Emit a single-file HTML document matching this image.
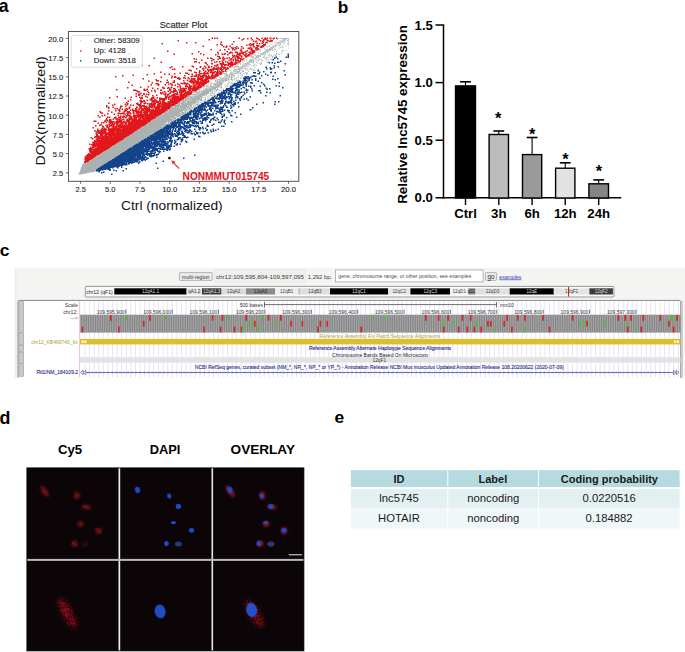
<!DOCTYPE html>
<html><head><meta charset="utf-8"><style>
html,body{margin:0;padding:0;background:#fff;width:685px;height:652px;overflow:hidden}
svg{display:block;font-family:"Liberation Sans", sans-serif}
</style></head><body>
<svg width="685" height="652" viewBox="0 0 685 652">
<text x="-1.3" y="12.45" font-size="17.7" font-weight="bold" fill="#000" text-anchor="start" >a</text><text x="183.5" y="27.7" font-size="8.6" font-weight="normal" fill="#222" text-anchor="middle" textLength="47.6" lengthAdjust="spacingAndGlyphs" stroke="#222" stroke-width="0.1">Scatter Plot</text><path fill="#b9c1c0" d="M277.5 38h1v0.5h-1zM279.5 38h3v0.5h-3zM283 38h6v0.5h-6zM277.5 38.5h1v0.5h-1zM279.5 38.5h9.5v0.5h-9.5zM277 39h1v0.5h-1zM282.5 39h4v0.5h-4zM287.5 39h1.5v0.5h-1.5zM277 39.5h1v0.5h-1zM282.5 39.5h4v0.5h-4zM279.5 40h1v0.5h-1zM282.5 40h3v0.5h-3zM279.5 40.5h1v0.5h-1zM281 40.5h4.5v0.5h-4.5zM280 41h3v0.5h-3zM284 41h1.5v0.5h-1.5zM288 41h1v0.5h-1zM275.5 41.5h1v0.5h-1zM278.5 41.5h1v0.5h-1zM280 41.5h4v0.5h-4zM288 41.5h1v0.5h-1zM275.5 42h1v0.5h-1zM278.5 42h1.5v0.5h-1.5zM280.5 42h2v0.5h-2zM283 42h1v0.5h-1zM288 42h1v0.5h-1zM275.5 42.5h5v0.5h-5zM281.5 42.5h1v0.5h-1zM283 42.5h1v0.5h-1zM276.5 43h4.5v0.5h-4.5zM281.5 43h1v0.5h-1zM288 43h1v0.5h-1zM267.5 43.5h1v0.5h-1zM271.5 43.5h1v0.5h-1zM275 43.5h1v0.5h-1zM276.5 43.5h4.5v0.5h-4.5zM283.5 43.5h1v0.5h-1zM267.5 44h1v0.5h-1zM271.5 44h1v0.5h-1zM275 44h1v0.5h-1zM277.5 44h2v0.5h-2zM283.5 44h1v0.5h-1zM269 44.5h1v0.5h-1zM271.5 44.5h1v0.5h-1zM276 44.5h1v0.5h-1zM282.5 44.5h1v0.5h-1zM288 44.5h1v0.5h-1zM269 45h1v0.5h-1zM274 45h3.5v0.5h-3.5zM279 45h1v0.5h-1zM282.5 45h1v0.5h-1zM288 45h1v0.5h-1zM267.5 45.5h1v0.5h-1zM273 45.5h4.5v0.5h-4.5zM278.5 45.5h1.5v0.5h-1.5zM285 45.5h1v0.5h-1zM266.5 46h2v0.5h-2zM269 46h1v0.5h-1zM272 46h2v0.5h-2zM274.5 46h2v0.5h-2zM278.5 46h1v0.5h-1zM282 46h1v0.5h-1zM285 46h1v0.5h-1zM264 46.5h1v0.5h-1zM266.5 46.5h1v0.5h-1zM269 46.5h1v0.5h-1zM271.5 46.5h2.5v0.5h-2.5zM274.5 46.5h1v0.5h-1zM281 46.5h2v0.5h-2zM262.5 47h1v0.5h-1zM264 47h1v0.5h-1zM266.5 47h1v0.5h-1zM270.5 47h3.5v0.5h-3.5zM274.5 47h1v0.5h-1zM280 47h2v0.5h-2zM282.5 47h1v0.5h-1zM262.5 47.5h1v0.5h-1zM270 47.5h2.5v0.5h-2.5zM273 47.5h1v0.5h-1zM274.5 47.5h1v0.5h-1zM279 47.5h2v0.5h-2zM282.5 47.5h1v0.5h-1zM288 47.5h1v0.5h-1zM269 48h4v0.5h-4zM279 48h1v0.5h-1zM288 48h1v0.5h-1zM269 48.5h4.5v0.5h-4.5zM274 48.5h1v0.5h-1zM267 49h6.5v0.5h-6.5zM274 49h2v0.5h-2zM266.5 49.5h4.5v0.5h-4.5zM271.5 49.5h1v0.5h-1zM274.5 49.5h2v0.5h-2zM282 49.5h1v0.5h-1zM259.5 50h1v0.5h-1zM265.5 50h3v0.5h-3zM269 50h2.5v0.5h-2.5zM272 50h1v0.5h-1zM275.5 50h1v0.5h-1zM282 50h2v0.5h-2zM286.5 50h1v0.5h-1zM259.5 50.5h1v0.5h-1zM265.5 50.5h6v0.5h-6zM272 50.5h1v0.5h-1zM283 50.5h1v0.5h-1zM286.5 50.5h1v0.5h-1zM260 51h1v0.5h-1zM264.5 51h5v0.5h-5zM276 51h1v0.5h-1zM282 51h1v0.5h-1zM260 51.5h1v0.5h-1zM264 51.5h5v0.5h-5zM276 51.5h1v0.5h-1zM281.5 51.5h1.5v0.5h-1.5zM258 52h1v0.5h-1zM262.5 52h5.5v0.5h-5.5zM281.5 52h1v0.5h-1zM258 52.5h1v0.5h-1zM262 52.5h4v0.5h-4zM266.5 52.5h1v0.5h-1zM254 53h0.5v0.5h-0.5zM260 53h5v0.5h-5zM276 53h1v0.5h-1zM277.5 53h1v0.5h-1zM281 53h1v0.5h-1zM253.5 53.5h1v0.5h-1zM258 53.5h1v0.5h-1zM260 53.5h6v0.5h-6zM267 53.5h1v0.5h-1zM276 53.5h1v0.5h-1zM277.5 53.5h1v0.5h-1zM281 53.5h1v0.5h-1zM253 54h1v0.5h-1zM254.5 54h1v0.5h-1zM258 54h1v0.5h-1zM260 54h3.5v0.5h-3.5zM265 54h1v0.5h-1zM267 54h1v0.5h-1zM274 54h1v0.5h-1zM276 54h1v0.5h-1zM279 54h1v0.5h-1zM253 54.5h1v0.5h-1zM254.5 54.5h1v0.5h-1zM261 54.5h3.5v0.5h-3.5zM265 54.5h1v0.5h-1zM270 54.5h1v0.5h-1zM274 54.5h1v0.5h-1zM275.5 54.5h1v0.5h-1zM279 54.5h1v0.5h-1zM250.5 55h1.5v0.5h-1.5zM254.5 55h1v0.5h-1zM257 55h4v0.5h-4zM263 55h1.5v0.5h-1.5zM265 55h1v0.5h-1zM268 55h1v0.5h-1zM270 55h2v0.5h-2zM276 55h0.5v0.5h-0.5zM249.5 55.5h0.5v0.5h-0.5zM250.5 55.5h1.5v0.5h-1.5zM252.5 55.5h1v0.5h-1zM254.5 55.5h7v0.5h-7zM268 55.5h0.5v0.5h-0.5zM271 55.5h1v0.5h-1zM249.5 56h0.5v0.5h-0.5zM251 56h2.5v0.5h-2.5zM255.5 56h6v0.5h-6zM263.5 56h0.5v0.5h-0.5zM268 56h0.5v0.5h-0.5zM270.5 56h1v0.5h-1zM272 56h1v0.5h-1zM276 56h1v0.5h-1zM247.5 56.5h0.5v0.5h-0.5zM251 56.5h1.5v0.5h-1.5zM253 56.5h1v0.5h-1zM256 56.5h3.5v0.5h-3.5zM260 56.5h1v0.5h-1zM263.5 56.5h1v0.5h-1zM265.5 56.5h1v0.5h-1zM270.5 56.5h1v0.5h-1zM272 56.5h1v0.5h-1zM274 56.5h1v0.5h-1zM247 57h1v0.5h-1zM251 57h3v0.5h-3zM255.5 57h3.5v0.5h-3.5zM262.5 57h2v0.5h-2zM265.5 57h1v0.5h-1zM267.5 57h1v0.5h-1zM272 57h1v0.5h-1zM274 57h1v0.5h-1zM246.5 57.5h1v0.5h-1zM251 57.5h2.5v0.5h-2.5zM255 57.5h4v0.5h-4zM262.5 57.5h2v0.5h-2zM267.5 57.5h1v0.5h-1zM272 57.5h1v0.5h-1zM254.5 58h2v0.5h-2zM257.5 58h1v0.5h-1zM265.5 58h0.5v0.5h-0.5zM272.5 58h1v0.5h-1zM253.5 58.5h3v0.5h-3zM260.5 58.5h1v0.5h-1zM265.5 58.5h1v0.5h-1zM271 58.5h1v0.5h-1zM272.5 58.5h1v0.5h-1zM249.5 59h0.5v0.5h-0.5zM251.5 59h0.5v0.5h-0.5zM253.5 59h1v0.5h-1zM255 59h1v0.5h-1zM256.5 59h1v0.5h-1zM260.5 59h1v0.5h-1zM267.5 59h1v0.5h-1zM271 59h1v0.5h-1zM245.5 59.5h2v0.5h-2zM249.5 59.5h0.5v0.5h-0.5zM251 59.5h3v0.5h-3zM256.5 59.5h1v0.5h-1zM265 59.5h1.5v0.5h-1.5zM267.5 59.5h1v0.5h-1zM270 59.5h2v0.5h-2zM245.5 60h2v0.5h-2zM249 60h5v0.5h-5zM265 60h1.5v0.5h-1.5zM270 60h1v0.5h-1zM244.5 60.5h0.5v0.5h-0.5zM249 60.5h2.5v0.5h-2.5zM252.5 60.5h1.5v0.5h-1.5zM258 60.5h1v0.5h-1zM268 60.5h1v0.5h-1zM244 61h1v0.5h-1zM249 61h2v0.5h-2zM252.5 61h0.5v0.5h-0.5zM257 61h2v0.5h-2zM266.5 61h1v0.5h-1zM268 61h1v0.5h-1zM242.5 61.5h1v0.5h-1zM247.5 61.5h3.5v0.5h-3.5zM252 61.5h1v0.5h-1zM257 61.5h1v0.5h-1zM260.5 61.5h1v0.5h-1zM266.5 61.5h1.5v0.5h-1.5zM242.5 62h1v0.5h-1zM247.5 62h2.5v0.5h-2.5zM250.5 62h2.5v0.5h-2.5zM256 62h1v0.5h-1zM260.5 62h1v0.5h-1zM267 62h1v0.5h-1zM238.5 62.5h0.5v0.5h-0.5zM242 62.5h1.5v0.5h-1.5zM246 62.5h4v0.5h-4zM250.5 62.5h1.5v0.5h-1.5zM256 62.5h1v0.5h-1zM261 62.5h1v0.5h-1zM267 62.5h1v0.5h-1zM239 63h2v0.5h-2zM242 63h1.5v0.5h-1.5zM246 63h4v0.5h-4zM253 63h1v0.5h-1zM258.5 63h2v0.5h-2zM261 63h1v0.5h-1zM236.5 63.5h2v0.5h-2zM239 63.5h2v0.5h-2zM244 63.5h1v0.5h-1zM246 63.5h3v0.5h-3zM254.5 63.5h1v0.5h-1zM258.5 63.5h2v0.5h-2zM261 63.5h1v0.5h-1zM236.5 64h0.5v0.5h-0.5zM237.5 64h1v0.5h-1zM240 64h1v0.5h-1zM242.5 64h1v0.5h-1zM244 64h0.5v0.5h-0.5zM245.5 64h3v0.5h-3zM249.5 64h1v0.5h-1zM254 64h1.5v0.5h-1.5zM261 64h1v0.5h-1zM237.5 64.5h1v0.5h-1zM240 64.5h1v0.5h-1zM242.5 64.5h1v0.5h-1zM245.5 64.5h0.5v0.5h-0.5zM247 64.5h0.5v0.5h-0.5zM250 64.5h0.5v0.5h-0.5zM254 64.5h1v0.5h-1zM236.5 65h1v0.5h-1zM242.5 65h1.5v0.5h-1.5zM244.5 65h1.5v0.5h-1.5zM253 65h1v0.5h-1zM235 65.5h1v0.5h-1zM236.5 65.5h1.5v0.5h-1.5zM242.5 65.5h3v0.5h-3zM253 65.5h2.5v0.5h-2.5zM235 66h3v0.5h-3zM242.5 66h1v0.5h-1zM254 66h1.5v0.5h-1.5zM234.5 66.5h3.5v0.5h-3.5zM239 66.5h0.5v0.5h-0.5zM240.5 66.5h1v0.5h-1zM242.5 66.5h1v0.5h-1zM245 66.5h0.5v0.5h-0.5zM234 67h2.5v0.5h-2.5zM237.5 67h2v0.5h-2zM240.5 67h0.5v0.5h-0.5zM242.5 67h1v0.5h-1zM245 67h1v0.5h-1zM254.5 67h1v0.5h-1zM233.5 67.5h1.5v0.5h-1.5zM235.5 67.5h1v0.5h-1zM238.5 67.5h2.5v0.5h-2.5zM250 67.5h1v0.5h-1zM254.5 67.5h1v0.5h-1zM231.5 68h1v0.5h-1zM233.5 68h1v0.5h-1zM238 68h5v0.5h-5zM247.5 68h1v0.5h-1zM250 68h1v0.5h-1zM251.5 68h1v0.5h-1zM231.5 68.5h1v0.5h-1zM233.5 68.5h1v0.5h-1zM237 68.5h6v0.5h-6zM246 68.5h1v0.5h-1zM247.5 68.5h1v0.5h-1zM250 68.5h1v0.5h-1zM251.5 68.5h1v0.5h-1zM253.5 68.5h1v0.5h-1zM233.5 69h3v0.5h-3zM237 69h1v0.5h-1zM239 69h1.5v0.5h-1.5zM246 69h1v0.5h-1zM251 69h1v0.5h-1zM253.5 69h1v0.5h-1zM229.5 69.5h0.5v0.5h-0.5zM234.5 69.5h3.5v0.5h-3.5zM239 69.5h1v0.5h-1zM243 69.5h1v0.5h-1zM245 69.5h1v0.5h-1zM251 69.5h1.5v0.5h-1.5zM253.5 69.5h1v0.5h-1zM229.5 70h0.5v0.5h-0.5zM233.5 70h1.5v0.5h-1.5zM235.5 70h2v0.5h-2zM242.5 70h1.5v0.5h-1.5zM245 70h1v0.5h-1zM251.5 70h1v0.5h-1zM253.5 70h2v0.5h-2zM227.5 70.5h1v0.5h-1zM230.5 70.5h1v0.5h-1zM233 70.5h4.5v0.5h-4.5zM242.5 70.5h1v0.5h-1zM252.5 70.5h3v0.5h-3zM227.5 71h1v0.5h-1zM230.5 71h1v0.5h-1zM233 71h4v0.5h-4zM239 71h1v0.5h-1zM248 71h1v0.5h-1zM252.5 71h2v0.5h-2zM234 71.5h2v0.5h-2zM239 71.5h1v0.5h-1zM248 71.5h1v0.5h-1zM226 72h1v0.5h-1zM230.5 72h1v0.5h-1zM234.5 72h1.5v0.5h-1.5zM237.5 72h2v0.5h-2zM246.5 72h1v0.5h-1zM226 72.5h1v0.5h-1zM231 72.5h0.5v0.5h-0.5zM232.5 72.5h1v0.5h-1zM238.5 72.5h0.5v0.5h-0.5zM246.5 72.5h1v0.5h-1zM223.5 73h1v0.5h-1zM231 73h0.5v0.5h-0.5zM232.5 73h1v0.5h-1zM243.5 73h1v0.5h-1zM247 73h1v0.5h-1zM223.5 73.5h1v0.5h-1zM229 73.5h2.5v0.5h-2.5zM234 73.5h0.5v0.5h-0.5zM235.5 73.5h0.5v0.5h-0.5zM238 73.5h1v0.5h-1zM243.5 73.5h1v0.5h-1zM247 73.5h1v0.5h-1zM224.5 74h1v0.5h-1zM226.5 74h1.5v0.5h-1.5zM229 74h1.5v0.5h-1.5zM234 74h0.5v0.5h-0.5zM238 74h1v0.5h-1zM243.5 74h1v0.5h-1zM246 74h1v0.5h-1zM226.5 74.5h1.5v0.5h-1.5zM228.5 74.5h2v0.5h-2zM233.5 74.5h0.5v0.5h-0.5zM240 74.5h1v0.5h-1zM241.5 74.5h0.5v0.5h-0.5zM246 74.5h1v0.5h-1zM227 75h1v0.5h-1zM229.5 75h2v0.5h-2zM233.5 75h0.5v0.5h-0.5zM240 75h1v0.5h-1zM241.5 75h0.5v0.5h-0.5zM225.5 75.5h0.5v0.5h-0.5zM227 75.5h1.5v0.5h-1.5zM224.5 76h4v0.5h-4zM234 76h1v0.5h-1zM241.5 76h1v0.5h-1zM216.5 76.5h1v0.5h-1zM224.5 76.5h3v0.5h-3zM242 76.5h0.5v0.5h-0.5zM216.5 77h1v0.5h-1zM219 77h0.5v0.5h-0.5zM223.5 77h4v0.5h-4zM237.5 77h0.5v0.5h-0.5zM242 77h0.5v0.5h-0.5zM243.5 77h1v0.5h-1zM215.5 77.5h1v0.5h-1zM219 77.5h1v0.5h-1zM223 77.5h1.5v0.5h-1.5zM225.5 77.5h1v0.5h-1zM234 77.5h1v0.5h-1zM236 77.5h0.5v0.5h-0.5zM237.5 77.5h0.5v0.5h-0.5zM240 77.5h1v0.5h-1zM215 78h1.5v0.5h-1.5zM220 78h0.5v0.5h-0.5zM221.5 78h3.5v0.5h-3.5zM225.5 78h1v0.5h-1zM234 78h1v0.5h-1zM236 78h1v0.5h-1zM240 78h1.5v0.5h-1.5zM220 78.5h5v0.5h-5zM235 78.5h1v0.5h-1zM240.5 78.5h1v0.5h-1zM214.5 79h1v0.5h-1zM219.5 79h3v0.5h-3zM223.5 79h1.5v0.5h-1.5zM235 79h1v0.5h-1zM214.5 79.5h1v0.5h-1zM217 79.5h0.5v0.5h-0.5zM219.5 79.5h1v0.5h-1zM221.5 79.5h1v0.5h-1zM224.5 79.5h0.5v0.5h-0.5zM236 79.5h1v0.5h-1zM238 79.5h1v0.5h-1zM218.5 80h2v0.5h-2zM236 80h3.5v0.5h-3.5zM220 80.5h1.5v0.5h-1.5zM236 80.5h2v0.5h-2zM238.5 80.5h0.5v0.5h-0.5zM215 81h1v0.5h-1zM217 81h1v0.5h-1zM220 81h0.5v0.5h-0.5zM221.5 81h0.5v0.5h-0.5zM215 81.5h1v0.5h-1zM217 81.5h0.5v0.5h-0.5zM221 81.5h0.5v0.5h-0.5zM232.5 81.5h0.5v0.5h-0.5zM216 82h1.5v0.5h-1.5zM218.5 82h0.5v0.5h-0.5zM228.5 82h2v0.5h-2zM232.5 82h0.5v0.5h-0.5zM214.5 82.5h1v0.5h-1zM216 82.5h1v0.5h-1zM218 82.5h0.5v0.5h-0.5zM228.5 82.5h2v0.5h-2zM235 82.5h1v0.5h-1zM208 83h1v0.5h-1zM215 83h2v0.5h-2zM218 83h0.5v0.5h-0.5zM228 83h1v0.5h-1zM231 83h1v0.5h-1zM232.5 83h1v0.5h-1zM216 83.5h1v0.5h-1zM218.5 83.5h0.5v0.5h-0.5zM227.5 83.5h1.5v0.5h-1.5zM230.5 83.5h3v0.5h-3zM207.5 84h1v0.5h-1zM211 84h0.5v0.5h-0.5zM214 84h1v0.5h-1zM224.5 84h1v0.5h-1zM227.5 84h1v0.5h-1zM230.5 84h1v0.5h-1zM232 84h1v0.5h-1zM207.5 84.5h1v0.5h-1zM210 84.5h1.5v0.5h-1.5zM213 84.5h1.5v0.5h-1.5zM224.5 84.5h1v0.5h-1zM226.5 84.5h2v0.5h-2zM232 84.5h1v0.5h-1zM207.5 85h1v0.5h-1zM210 85h1v0.5h-1zM212 85h2.5v0.5h-2.5zM226.5 85h1v0.5h-1zM229.5 85h1v0.5h-1zM210 85.5h1.5v0.5h-1.5zM212.5 85.5h1v0.5h-1zM221 85.5h1v0.5h-1zM227 85.5h1v0.5h-1zM229.5 85.5h1v0.5h-1zM205 86h0.5v0.5h-0.5zM207 86h1v0.5h-1zM210 86h1.5v0.5h-1.5zM212.5 86h1v0.5h-1zM227 86h1.5v0.5h-1.5zM202.5 86.5h1v0.5h-1zM205 86.5h0.5v0.5h-0.5zM207 86.5h1v0.5h-1zM210.5 86.5h2v0.5h-2zM219 86.5h1v0.5h-1zM227.5 86.5h1v0.5h-1zM207 87h0.5v0.5h-0.5zM208.5 87h1v0.5h-1zM210.5 87h1v0.5h-1zM219 87h1v0.5h-1zM206.5 87.5h1v0.5h-1zM208.5 87.5h2v0.5h-2zM200 88h1v0.5h-1zM205.5 88h3v0.5h-3zM209.5 88h1v0.5h-1zM217 88h1v0.5h-1zM220 88h1v0.5h-1zM200 88.5h1v0.5h-1zM204.5 88.5h4v0.5h-4zM217 88.5h1v0.5h-1zM223 88.5h1v0.5h-1zM203 89h1v0.5h-1zM204.5 89h0.5v0.5h-0.5zM207.5 89h1v0.5h-1zM215 89h1v0.5h-1zM217 89h0.5v0.5h-0.5zM223 89h1v0.5h-1zM204.5 89.5h0.5v0.5h-0.5zM215 89.5h1v0.5h-1zM197 90h0.5v0.5h-0.5zM199 90h1.5v0.5h-1.5zM204 90h1.5v0.5h-1.5zM214.5 90h1v0.5h-1zM219 90h1v0.5h-1zM197 90.5h0.5v0.5h-0.5zM199.5 90.5h1v0.5h-1zM204 90.5h1v0.5h-1zM214.5 90.5h1v0.5h-1zM219 90.5h1v0.5h-1zM197.5 91h0.5v0.5h-0.5zM201 91h1v0.5h-1zM203 91h0.5v0.5h-0.5zM215 91h1v0.5h-1zM195 91.5h1v0.5h-1zM198.5 91.5h0.5v0.5h-0.5zM200 91.5h0.5v0.5h-0.5zM201 91.5h1v0.5h-1zM211 91.5h0.5v0.5h-0.5zM213 91.5h0.5v0.5h-0.5zM215 91.5h0.5v0.5h-0.5zM195 92h0.5v0.5h-0.5zM198.5 92h0.5v0.5h-0.5zM200 92h1.5v0.5h-1.5zM210.5 92h1v0.5h-1zM213 92h0.5v0.5h-0.5zM218 92h1v0.5h-1zM194 92.5h1.5v0.5h-1.5zM198.5 92.5h0.5v0.5h-0.5zM212 92.5h0.5v0.5h-0.5zM218 92.5h1v0.5h-1zM193.5 93h3v0.5h-3zM198.5 93h1v0.5h-1zM209 93h0.5v0.5h-0.5zM210 93h1v0.5h-1zM212 93h0.5v0.5h-0.5zM195 93.5h0.5v0.5h-0.5zM196.5 93.5h2v0.5h-2zM201 93.5h0.5v0.5h-0.5zM208.5 93.5h1v0.5h-1zM210 93.5h1v0.5h-1zM211.5 93.5h1v0.5h-1zM217 93.5h1v0.5h-1zM198 94h0.5v0.5h-0.5zM195 94.5h0.5v0.5h-0.5zM194.5 95h1v0.5h-1zM196 95h1.5v0.5h-1.5zM205 95h0.5v0.5h-0.5zM193.5 95.5h1v0.5h-1zM196.5 95.5h0.5v0.5h-0.5zM212 95.5h1v0.5h-1zM192 96h0.5v0.5h-0.5zM193.5 96h0.5v0.5h-0.5zM202.5 96h0.5v0.5h-0.5zM204.5 96h1v0.5h-1zM212 96h2v0.5h-2zM188 96.5h0.5v0.5h-0.5zM192 96.5h1v0.5h-1zM195.5 96.5h0.5v0.5h-0.5zM204.5 96.5h1v0.5h-1zM213 96.5h1v0.5h-1zM187 97h1v0.5h-1zM192.5 97h1v0.5h-1zM187 97.5h1v0.5h-1zM209.5 97.5h1v0.5h-1zM209.5 98h1v0.5h-1zM187.5 98.5h0.5v0.5h-0.5zM207.5 98.5h1v0.5h-1zM186.5 99h1.5v0.5h-1.5zM207.5 99h1v0.5h-1zM184 99.5h0.5v0.5h-0.5zM186.5 99.5h1.5v0.5h-1.5zM190 99.5h0.5v0.5h-0.5zM191.5 99.5h0.5v0.5h-0.5zM184 100h0.5v0.5h-0.5zM187.5 100h0.5v0.5h-0.5zM184.5 101h1v0.5h-1zM190.5 101h0.5v0.5h-0.5zM185 101.5h2v0.5h-2zM201.5 101.5h1v0.5h-1zM185 102h1.5v0.5h-1.5zM200.5 102h0.5v0.5h-0.5zM201.5 102h1v0.5h-1zM185 102.5h1v0.5h-1zM196 102.5h0.5v0.5h-0.5zM197.5 102.5h0.5v0.5h-0.5zM200 102.5h1v0.5h-1zM195.5 103h1v0.5h-1zM197.5 103h1.5v0.5h-1.5zM178.5 104h0.5v0.5h-0.5zM192.5 104.5h0.5v0.5h-0.5zM198.5 105h0.5v0.5h-0.5zM189.5 105.5h1v0.5h-1zM192.5 105.5h1v0.5h-1zM189.5 106h0.5v0.5h-0.5zM192.5 106h1v0.5h-1zM189.5 106.5h0.5v0.5h-0.5zM194.5 106.5h1v0.5h-1zM176.5 107h0.5v0.5h-0.5zM180 107h0.5v0.5h-0.5zM190.5 107.5h1v0.5h-1zM178.5 108h0.5v0.5h-0.5zM190.5 108h1v0.5h-1zM193.5 108h0.5v0.5h-0.5zM191 108.5h0.5v0.5h-0.5zM174 109h0.5v0.5h-0.5zM168.5 110h0.5v0.5h-0.5zM186 110h1v0.5h-1zM168.5 110.5h0.5v0.5h-0.5zM172 110.5h0.5v0.5h-0.5zM186.5 110.5h0.5v0.5h-0.5zM184 112h1v0.5h-1zM186.5 112h1v0.5h-1zM167 112.5h0.5v0.5h-0.5zM184 112.5h0.5v0.5h-0.5zM186.5 112.5h0.5v0.5h-0.5zM184.5 113.5h0.5v0.5h-0.5zM180 115.5h0.5v0.5h-0.5zM180 116h1v0.5h-1zM174.5 116.5h0.5v0.5h-0.5zM171.5 118.5h0.5v0.5h-0.5zM157.5 119h0.5v0.5h-0.5zM171 120h0.5v0.5h-0.5z"/><path fill="#a9b2b0" d="M288 39.5h1v0.5h-1zM287 40h2v0.5h-2zM287 40.5h1v0.5h-1zM284.5 41.5h1v0.5h-1zM284.5 42h1v0.5h-1zM287 43.5h2v0.5h-2zM287 44h2v0.5h-2zM280 44.5h1v0.5h-1zM280 45h1v0.5h-1zM259 48.5h1v0.5h-1zM264 48.5h1v0.5h-1zM259 49h1.5v0.5h-1.5zM264 49h1v0.5h-1zM265.5 49h1v0.5h-1zM259.5 49.5h1v0.5h-1zM265.5 49.5h1v0.5h-1zM273.5 51h1v0.5h-1zM273.5 51.5h1v0.5h-1zM253.5 53h0.5v0.5h-0.5zM269 54h1v0.5h-1zM269 54.5h1v0.5h-1zM275 55h1v0.5h-1zM264 55.5h1v0.5h-1zM268.5 55.5h1v0.5h-1zM273 55.5h1v0.5h-1zM275 55.5h1v0.5h-1zM264 56h1v0.5h-1zM268.5 56h1v0.5h-1zM273 56h1v0.5h-1zM249.5 56.5h1v0.5h-1zM249.5 57h1v0.5h-1zM266.5 57h1v0.5h-1zM264.5 57.5h1v0.5h-1zM266 57.5h1.5v0.5h-1.5zM264.5 58h1v0.5h-1zM266 58h1v0.5h-1zM252 58.5h1.5v0.5h-1.5zM250 59h1v0.5h-1zM252 59h1.5v0.5h-1.5zM259 59h1v0.5h-1zM250 59.5h1v0.5h-1zM258 59.5h2v0.5h-2zM260.5 59.5h1v0.5h-1zM243.5 60h1v0.5h-1zM258 60h1v0.5h-1zM260.5 60h1v0.5h-1zM262 60h1v0.5h-1zM243.5 60.5h1v0.5h-1zM251.5 60.5h1v0.5h-1zM255.5 60.5h1v0.5h-1zM262 60.5h1v0.5h-1zM251 61h1.5v0.5h-1.5zM253 61h1v0.5h-1zM255.5 61h1v0.5h-1zM251 61.5h1v0.5h-1zM253 61.5h1v0.5h-1zM253 62h1v0.5h-1zM253 62.5h1v0.5h-1zM245 63h1v0.5h-1zM245 63.5h1v0.5h-1zM244.5 64h1v0.5h-1zM248.5 64h1v0.5h-1zM260 64h1v0.5h-1zM244.5 64.5h1v0.5h-1zM246 64.5h1v0.5h-1zM248.5 64.5h1.5v0.5h-1.5zM260 64.5h1v0.5h-1zM246 65h1.5v0.5h-1.5zM248.5 65h1.5v0.5h-1.5zM256 65h1v0.5h-1zM246.5 65.5h1v0.5h-1zM251.5 65.5h1v0.5h-1zM256 65.5h1v0.5h-1zM238 66h1v0.5h-1zM241.5 66h1v0.5h-1zM243.5 66h1.5v0.5h-1.5zM245.5 66h1v0.5h-1zM247.5 66h1v0.5h-1zM251.5 66h1v0.5h-1zM238 66.5h1v0.5h-1zM241.5 66.5h1v0.5h-1zM243.5 66.5h1.5v0.5h-1.5zM245.5 66.5h1v0.5h-1zM247.5 66.5h1v0.5h-1zM241 67h1.5v0.5h-1.5zM241 67.5h1.5v0.5h-1.5zM243 67.5h1v0.5h-1zM245.5 67.5h1v0.5h-1zM243 68h1v0.5h-1zM244.5 68h2v0.5h-2zM244.5 68.5h1v0.5h-1zM227.5 69h1.5v0.5h-1.5zM238 69h1v0.5h-1zM248.5 69h1v0.5h-1zM227.5 69.5h0.5v0.5h-0.5zM230 69.5h1v0.5h-1zM238 69.5h1v0.5h-1zM240.5 69.5h1v0.5h-1zM247 69.5h1v0.5h-1zM248.5 69.5h1v0.5h-1zM230 70h1v0.5h-1zM239 70h2.5v0.5h-2.5zM247 70h1v0.5h-1zM239 70.5h2v0.5h-2zM226 71h1v0.5h-1zM237 71h2v0.5h-2zM242 71h2v0.5h-2zM226 71.5h1v0.5h-1zM231.5 71.5h1v0.5h-1zM237 71.5h2v0.5h-2zM242 71.5h2v0.5h-2zM231.5 72h1v0.5h-1zM236.5 72h1v0.5h-1zM240.5 72h1v0.5h-1zM245 72h1v0.5h-1zM230 72.5h1v0.5h-1zM231.5 72.5h1v0.5h-1zM234.5 72.5h1.5v0.5h-1.5zM236.5 72.5h1.5v0.5h-1.5zM239 72.5h1v0.5h-1zM240.5 72.5h1v0.5h-1zM242.5 72.5h1v0.5h-1zM245 72.5h1v0.5h-1zM222 73h1v0.5h-1zM224.5 73h2v0.5h-2zM230 73h1v0.5h-1zM231.5 73h1v0.5h-1zM234.5 73h3.5v0.5h-3.5zM239 73h2v0.5h-2zM242.5 73h1v0.5h-1zM246 73h1v0.5h-1zM222 73.5h1v0.5h-1zM224.5 73.5h2v0.5h-2zM231.5 73.5h2v0.5h-2zM234.5 73.5h1v0.5h-1zM236 73.5h1.5v0.5h-1.5zM240 73.5h1v0.5h-1zM246 73.5h1v0.5h-1zM222 74h0.5v0.5h-0.5zM225.5 74h1v0.5h-1zM230.5 74h3v0.5h-3zM234.5 74h1v0.5h-1zM221.5 74.5h1v0.5h-1zM224.5 74.5h2v0.5h-2zM230.5 74.5h3v0.5h-3zM242 74.5h1v0.5h-1zM224.5 75h1v0.5h-1zM226 75h1v0.5h-1zM228.5 75h1v0.5h-1zM231.5 75h2v0.5h-2zM234 75h1v0.5h-1zM237.5 75h1v0.5h-1zM242 75h1v0.5h-1zM226 75.5h1v0.5h-1zM228.5 75.5h1.5v0.5h-1.5zM231 75.5h1v0.5h-1zM232.5 75.5h1v0.5h-1zM234 75.5h1v0.5h-1zM237.5 75.5h1v0.5h-1zM246 75.5h1v0.5h-1zM229 76h1v0.5h-1zM231 76h1v0.5h-1zM232.5 76h1v0.5h-1zM246 76h0.5v0.5h-0.5zM219.5 76.5h1v0.5h-1zM227.5 76.5h2.5v0.5h-2.5zM231 76.5h1v0.5h-1zM232.5 76.5h1v0.5h-1zM238 76.5h1v0.5h-1zM241 76.5h1v0.5h-1zM219.5 77h1v0.5h-1zM227.5 77h3v0.5h-3zM231 77h2v0.5h-2zM236.5 77h1v0.5h-1zM238 77h1v0.5h-1zM241 77h1v0.5h-1zM220.5 77.5h1v0.5h-1zM229 77.5h1.5v0.5h-1.5zM231 77.5h2v0.5h-2zM236.5 77.5h1v0.5h-1zM220.5 78h1v0.5h-1zM226.5 78h2v0.5h-2zM229.5 78h1v0.5h-1zM231 78h1v0.5h-1zM214 78.5h1v0.5h-1zM216 78.5h1v0.5h-1zM225 78.5h3.5v0.5h-3.5zM231 78.5h1v0.5h-1zM233.5 78.5h1v0.5h-1zM212.5 79h1v0.5h-1zM216 79h1v0.5h-1zM217.5 79h2v0.5h-2zM222.5 79h1v0.5h-1zM225 79h2.5v0.5h-2.5zM228 79h1v0.5h-1zM230.5 79h2v0.5h-2zM233.5 79h1v0.5h-1zM212.5 79.5h1v0.5h-1zM217.5 79.5h2v0.5h-2zM220.5 79.5h1v0.5h-1zM222.5 79.5h2v0.5h-2zM225 79.5h1v0.5h-1zM226.5 79.5h1v0.5h-1zM228 79.5h1v0.5h-1zM229.5 79.5h3.5v0.5h-3.5zM233.5 79.5h1v0.5h-1zM215 80h1v0.5h-1zM217 80h1v0.5h-1zM220.5 80h2v0.5h-2zM223 80h1.5v0.5h-1.5zM225 80h2v0.5h-2zM229.5 80h1v0.5h-1zM232 80h1v0.5h-1zM215 80.5h3v0.5h-3zM219 80.5h1v0.5h-1zM221.5 80.5h7.5v0.5h-7.5zM209.5 81h0.5v0.5h-0.5zM216 81h1v0.5h-1zM218 81h2v0.5h-2zM222 81h1.5v0.5h-1.5zM224 81h1.5v0.5h-1.5zM227 81h2v0.5h-2zM209.5 81.5h0.5v0.5h-0.5zM217.5 81.5h3.5v0.5h-3.5zM221.5 81.5h2.5v0.5h-2.5zM231.5 81.5h1v0.5h-1zM236.5 81.5h0.5v0.5h-0.5zM217.5 82h1v0.5h-1zM219 82h3.5v0.5h-3.5zM223 82h1v0.5h-1zM231.5 82h1v0.5h-1zM236.5 82h0.5v0.5h-0.5zM207.5 82.5h1.5v0.5h-1.5zM209.5 82.5h1v0.5h-1zM211.5 82.5h1v0.5h-1zM217 82.5h1v0.5h-1zM218.5 82.5h3.5v0.5h-3.5zM234 82.5h1v0.5h-1zM209.5 83h1v0.5h-1zM211 83h1.5v0.5h-1.5zM214 83h1v0.5h-1zM217 83h1v0.5h-1zM218.5 83h4.5v0.5h-4.5zM210 83.5h2v0.5h-2zM213 83.5h3v0.5h-3zM217 83.5h1.5v0.5h-1.5zM219 83.5h4v0.5h-4zM233.5 83.5h0.5v0.5h-0.5zM210 84h1v0.5h-1zM213 84h1v0.5h-1zM215 84h1v0.5h-1zM217 84h1.5v0.5h-1.5zM219 84h3v0.5h-3zM214.5 84.5h7.5v0.5h-7.5zM206.5 85h1v0.5h-1zM214.5 85h7.5v0.5h-7.5zM204 85.5h1v0.5h-1zM206.5 85.5h1v0.5h-1zM211.5 85.5h1v0.5h-1zM214.5 85.5h2v0.5h-2zM217 85.5h3v0.5h-3zM204 86h1v0.5h-1zM205.5 86h1v0.5h-1zM208.5 86h1v0.5h-1zM211.5 86h1v0.5h-1zM215 86h5v0.5h-5zM221 86h1v0.5h-1zM225.5 86h1v0.5h-1zM203.5 86.5h1v0.5h-1zM205.5 86.5h1.5v0.5h-1.5zM208.5 86.5h2v0.5h-2zM212.5 86.5h6.5v0.5h-6.5zM221 86.5h1v0.5h-1zM225 86.5h1.5v0.5h-1.5zM203.5 87h1v0.5h-1zM206 87h1v0.5h-1zM209.5 87h1v0.5h-1zM211.5 87h7v0.5h-7zM220 87h1.5v0.5h-1.5zM225 87h1v0.5h-1zM203 87.5h1v0.5h-1zM210.5 87.5h7.5v0.5h-7.5zM220 87.5h2.5v0.5h-2.5zM227.5 87.5h1v0.5h-1zM199.5 88h0.5v0.5h-0.5zM203 88h1v0.5h-1zM208.5 88h1v0.5h-1zM210.5 88h1v0.5h-1zM212 88h4v0.5h-4zM221.5 88h1v0.5h-1zM199.5 88.5h0.5v0.5h-0.5zM208.5 88.5h7.5v0.5h-7.5zM225.5 88.5h0.5v0.5h-0.5zM205 89h2v0.5h-2zM208.5 89h5v0.5h-5zM214 89h1v0.5h-1zM216 89h1v0.5h-1zM217.5 89h1.5v0.5h-1.5zM225 89h1v0.5h-1zM198 89.5h1.5v0.5h-1.5zM203 89.5h1v0.5h-1zM205 89.5h8.5v0.5h-8.5zM216 89.5h3v0.5h-3zM220.5 89.5h1v0.5h-1zM223 89.5h1v0.5h-1zM201 90h1v0.5h-1zM203 90h1v0.5h-1zM205.5 90h7v0.5h-7zM213.5 90h1v0.5h-1zM216 90h2v0.5h-2zM220.5 90h1v0.5h-1zM222 90h1v0.5h-1zM198.5 90.5h1v0.5h-1zM201 90.5h1v0.5h-1zM203 90.5h1v0.5h-1zM205 90.5h6v0.5h-6zM211.5 90.5h1v0.5h-1zM213.5 90.5h1v0.5h-1zM216 90.5h1v0.5h-1zM222 90.5h1v0.5h-1zM196 91h1.5v0.5h-1.5zM198.5 91h1v0.5h-1zM202 91h1v0.5h-1zM203.5 91h7.5v0.5h-7.5zM212 91h1v0.5h-1zM194 91.5h1v0.5h-1zM196.5 91.5h2v0.5h-2zM199 91.5h1v0.5h-1zM202 91.5h9v0.5h-9zM212 91.5h1v0.5h-1zM215.5 91.5h1v0.5h-1zM192.5 92h1.5v0.5h-1.5zM195.5 92h1.5v0.5h-1.5zM197.5 92h1v0.5h-1zM199 92h1v0.5h-1zM201.5 92h7.5v0.5h-7.5zM212 92h1v0.5h-1zM215.5 92h1v0.5h-1zM220 92h1v0.5h-1zM192 92.5h2v0.5h-2zM195.5 92.5h3v0.5h-3zM199 92.5h1v0.5h-1zM200.5 92.5h8.5v0.5h-8.5zM211 92.5h1v0.5h-1zM212.5 92.5h1v0.5h-1zM214 92.5h1v0.5h-1zM220 92.5h1v0.5h-1zM192 93h0.5v0.5h-0.5zM197 93h1.5v0.5h-1.5zM200 93h9v0.5h-9zM211 93h1v0.5h-1zM212.5 93h1v0.5h-1zM214 93h1v0.5h-1zM195.5 93.5h1v0.5h-1zM198.5 93.5h2.5v0.5h-2.5zM201.5 93.5h7v0.5h-7zM214 93.5h1v0.5h-1zM191 94h2.5v0.5h-2.5zM194 94h1v0.5h-1zM195.5 94h2v0.5h-2zM198.5 94h9v0.5h-9zM213 94h1v0.5h-1zM216 94h1v0.5h-1zM191 94.5h4v0.5h-4zM195.5 94.5h10v0.5h-10zM206 94.5h1v0.5h-1zM210 94.5h1.5v0.5h-1.5zM213 94.5h1v0.5h-1zM216 94.5h1v0.5h-1zM190 95h0.5v0.5h-0.5zM193 95h1v0.5h-1zM197.5 95h7.5v0.5h-7.5zM205.5 95h1v0.5h-1zM210 95h2v0.5h-2zM214 95h2v0.5h-2zM187.5 95.5h1.5v0.5h-1.5zM190.5 95.5h1v0.5h-1zM192.5 95.5h1v0.5h-1zM194.5 95.5h2v0.5h-2zM197 95.5h7v0.5h-7zM205.5 95.5h1v0.5h-1zM208.5 95.5h1v0.5h-1zM211 95.5h1v0.5h-1zM215.5 95.5h0.5v0.5h-0.5zM187.5 96h2.5v0.5h-2.5zM190.5 96h1v0.5h-1zM192.5 96h1v0.5h-1zM194 96h8.5v0.5h-8.5zM208.5 96h1v0.5h-1zM188.5 96.5h3.5v0.5h-3.5zM193.5 96.5h2v0.5h-2zM196 96.5h6.5v0.5h-6.5zM207 96.5h1v0.5h-1zM211.5 96.5h1v0.5h-1zM186 97h1v0.5h-1zM188 97h1v0.5h-1zM190 97h2.5v0.5h-2.5zM193.5 97h8.5v0.5h-8.5zM202.5 97h1.5v0.5h-1.5zM207 97h1v0.5h-1zM186 97.5h0.5v0.5h-0.5zM188 97.5h1v0.5h-1zM189.5 97.5h5v0.5h-5zM195 97.5h6.5v0.5h-6.5zM202.5 97.5h1.5v0.5h-1.5zM205 97.5h1v0.5h-1zM208.5 97.5h1v0.5h-1zM185 98h2.5v0.5h-2.5zM188 98h1v0.5h-1zM189.5 98h12.5v0.5h-12.5zM205 98h1v0.5h-1zM208.5 98h1v0.5h-1zM185 98.5h2.5v0.5h-2.5zM188 98.5h12v0.5h-12zM201 98.5h1v0.5h-1zM185 99h1.5v0.5h-1.5zM188 99h14v0.5h-14zM205 99h1v0.5h-1zM209 99h0.5v0.5h-0.5zM182.5 99.5h1.5v0.5h-1.5zM184.5 99.5h2v0.5h-2zM188 99.5h1.5v0.5h-1.5zM190.5 99.5h1v0.5h-1zM192 99.5h7v0.5h-7zM199.5 99.5h2.5v0.5h-2.5zM203.5 99.5h1v0.5h-1zM205 99.5h1v0.5h-1zM208 99.5h1.5v0.5h-1.5zM182.5 100h1.5v0.5h-1.5zM184.5 100h2.5v0.5h-2.5zM188 100h1v0.5h-1zM190 100h8.5v0.5h-8.5zM199.5 100h3v0.5h-3zM203.5 100h2v0.5h-2zM207 100h0.5v0.5h-0.5zM181 100.5h0.5v0.5h-0.5zM182 100.5h5v0.5h-5zM187.5 100.5h9v0.5h-9zM197 100.5h2v0.5h-2zM199.5 100.5h3v0.5h-3zM204.5 100.5h1v0.5h-1zM207 100.5h0.5v0.5h-0.5zM180 101h0.5v0.5h-0.5zM182 101h2.5v0.5h-2.5zM187 101h3.5v0.5h-3.5zM191 101h5v0.5h-5zM197 101h2v0.5h-2zM202.5 101h1v0.5h-1zM205.5 101h1v0.5h-1zM180.5 101.5h2v0.5h-2zM183 101.5h2v0.5h-2zM187 101.5h10v0.5h-10zM199.5 101.5h1v0.5h-1zM202.5 101.5h1v0.5h-1zM178.5 102h6.5v0.5h-6.5zM186.5 102h10.5v0.5h-10.5zM198 102h1v0.5h-1zM199.5 102h1v0.5h-1zM179 102.5h2.5v0.5h-2.5zM182 102.5h3v0.5h-3zM186.5 102.5h9.5v0.5h-9.5zM196.5 102.5h1v0.5h-1zM198 102.5h1v0.5h-1zM201 102.5h1v0.5h-1zM203 102.5h1v0.5h-1zM178 103h2v0.5h-2zM180.5 103h3.5v0.5h-3.5zM184.5 103h11v0.5h-11zM196.5 103h1v0.5h-1zM201 103h1v0.5h-1zM177.5 103.5h2.5v0.5h-2.5zM180.5 103.5h11.5v0.5h-11.5zM192.5 103.5h2.5v0.5h-2.5zM198 103.5h1v0.5h-1zM176.5 104h2v0.5h-2zM179 104h1v0.5h-1zM181 104h13v0.5h-13zM194.5 104h1v0.5h-1zM196 104h4.5v0.5h-4.5zM176 104.5h4v0.5h-4zM180.5 104.5h12v0.5h-12zM194.5 104.5h1v0.5h-1zM196 104.5h2.5v0.5h-2.5zM199 104.5h1.5v0.5h-1.5zM175.5 105h16.5v0.5h-16.5zM194.5 105h1v0.5h-1zM197.5 105h1v0.5h-1zM174.5 105.5h13v0.5h-13zM188 105.5h1.5v0.5h-1.5zM190.5 105.5h1.5v0.5h-1.5zM193.5 105.5h2v0.5h-2zM196.5 105.5h2v0.5h-2zM171.5 106h1.5v0.5h-1.5zM174 106h14.5v0.5h-14.5zM190 106h2v0.5h-2zM193.5 106h2v0.5h-2zM196.5 106h1v0.5h-1zM171.5 106.5h2v0.5h-2zM174 106.5h5.5v0.5h-5.5zM180 106.5h9.5v0.5h-9.5zM190 106.5h1.5v0.5h-1.5zM193.5 106.5h1v0.5h-1zM196.5 106.5h1v0.5h-1zM170.5 107h3v0.5h-3zM174 107h2.5v0.5h-2.5zM177 107h2.5v0.5h-2.5zM180.5 107h6v0.5h-6zM187 107h3v0.5h-3zM190.5 107h3v0.5h-3zM170.5 107.5h3.5v0.5h-3.5zM174.5 107.5h2v0.5h-2zM177 107.5h13v0.5h-13zM191.5 107.5h2v0.5h-2zM170 108h0.5v0.5h-0.5zM171.5 108h7v0.5h-7zM179 108h11v0.5h-11zM191.5 108h1v0.5h-1zM170 108.5h16v0.5h-16zM186.5 108.5h1v0.5h-1zM189 108.5h1.5v0.5h-1.5zM191.5 108.5h1v0.5h-1zM193 108.5h1v0.5h-1zM169 109h5v0.5h-5zM174.5 109h13v0.5h-13zM188 109h4.5v0.5h-4.5zM193 109h0.5v0.5h-0.5zM167.5 109.5h15v0.5h-15zM183 109.5h1v0.5h-1zM184.5 109.5h2v0.5h-2zM187.5 109.5h2.5v0.5h-2.5zM190.5 109.5h2v0.5h-2zM167.5 110h1v0.5h-1zM169 110h16.5v0.5h-16.5zM187.5 110h1v0.5h-1zM192 110h0.5v0.5h-0.5zM166.5 110.5h2v0.5h-2zM169 110.5h3v0.5h-3zM172.5 110.5h14v0.5h-14zM187 110.5h1v0.5h-1zM189.5 110.5h0.5v0.5h-0.5zM165.5 111h3v0.5h-3zM169 111h14v0.5h-14zM184 111h2.5v0.5h-2.5zM187 111h1v0.5h-1zM165.5 111.5h17.5v0.5h-17.5zM185 111.5h1.5v0.5h-1.5zM188 111.5h1v0.5h-1zM164.5 112h19.5v0.5h-19.5zM185 112h1v0.5h-1zM187.5 112h1.5v0.5h-1.5zM164 112.5h3v0.5h-3zM167.5 112.5h12.5v0.5h-12.5zM181 112.5h3v0.5h-3zM184.5 112.5h2v0.5h-2zM188.5 112.5h0.5v0.5h-0.5zM162.5 113h0.5v0.5h-0.5zM163.5 113h16.5v0.5h-16.5zM181.5 113h5v0.5h-5zM162.5 113.5h0.5v0.5h-0.5zM164 113.5h16.5v0.5h-16.5zM181.5 113.5h3v0.5h-3zM185 113.5h1v0.5h-1zM161 114h23.5v0.5h-23.5zM161 114.5h22v0.5h-22zM183.5 114.5h1v0.5h-1zM159.5 115h1.5v0.5h-1.5zM161.5 115h20v0.5h-20zM182.5 115h0.5v0.5h-0.5zM159 115.5h2v0.5h-2zM161.5 115.5h18.5v0.5h-18.5zM180.5 115.5h1v0.5h-1zM182 115.5h0.5v0.5h-0.5zM158.5 116h17v0.5h-17zM176 116h3.5v0.5h-3.5zM156.5 116.5h18v0.5h-18zM175.5 116.5h1.5v0.5h-1.5zM177.5 116.5h2v0.5h-2zM180 116.5h0.5v0.5h-0.5zM156.5 117h18.5v0.5h-18.5zM175.5 117h1.5v0.5h-1.5zM179.5 117h1v0.5h-1zM156 117.5h20v0.5h-20zM177 117.5h1v0.5h-1zM178.5 117.5h2v0.5h-2zM155 118h16.5v0.5h-16.5zM173 118h3v0.5h-3zM177 118h3v0.5h-3zM154.5 118.5h17v0.5h-17zM172 118.5h4v0.5h-4zM177 118.5h0.5v0.5h-0.5zM153.5 119h4v0.5h-4zM158 119h18v0.5h-18zM152.5 119.5h21v0.5h-21zM175 119.5h1.5v0.5h-1.5zM151.5 120h19.5v0.5h-19.5zM171.5 120h2.5v0.5h-2.5zM176 120h0.5v0.5h-0.5zM151 120.5h16.5v0.5h-16.5zM168 120.5h6v0.5h-6zM151 121h23v0.5h-23zM150 121.5h17v0.5h-17zM167.5 121.5h4.5v0.5h-4.5zM149.5 122h17.5v0.5h-17.5zM168 122h1.5v0.5h-1.5zM170 122h2v0.5h-2zM148 122.5h18.5v0.5h-18.5zM167.5 122.5h2v0.5h-2zM147.5 123h16.5v0.5h-16.5zM164.5 123h1v0.5h-1zM167.5 123h1.5v0.5h-1.5zM147 123.5h19v0.5h-19zM167 123.5h3v0.5h-3zM146 124h20v0.5h-20zM166.5 124h3.5v0.5h-3.5zM146 124.5h20.5v0.5h-20.5zM145 125h21v0.5h-21zM144.5 125.5h20v0.5h-20zM165 125.5h0.5v0.5h-0.5zM143 126h22.5v0.5h-22.5zM142 126.5h20v0.5h-20zM163 126.5h1v0.5h-1zM141.5 127h22.5v0.5h-22.5zM140.5 127.5h22.5v0.5h-22.5zM140.5 128h22.5v0.5h-22.5zM139.5 128.5h20.5v0.5h-20.5zM160.5 128.5h0.5v0.5h-0.5zM138 129h22v0.5h-22zM137.5 129.5h22v0.5h-22zM137.5 130h21v0.5h-21zM136.5 130.5h21.5v0.5h-21.5zM135.5 131h21.5v0.5h-21.5zM134.5 131.5h21v0.5h-21zM134 132h19.5v0.5h-19.5zM154 132h1.5v0.5h-1.5zM133.5 132.5h20.5v0.5h-20.5zM133 133h21v0.5h-21zM132 133.5h20.5v0.5h-20.5zM131 134h21.5v0.5h-21.5zM130.5 134.5h21v0.5h-21zM129 135h21v0.5h-21zM129 135.5h20.5v0.5h-20.5zM128 136h21.5v0.5h-21.5zM127 136.5h20.5v0.5h-20.5zM126 137h19v0.5h-19zM145.5 137h1.5v0.5h-1.5zM125.5 137.5h21.5v0.5h-21.5zM125 138h20v0.5h-20zM146.5 138h0.5v0.5h-0.5zM124 138.5h21v0.5h-21zM123.5 139h20v0.5h-20zM123 139.5h20.5v0.5h-20.5zM122 140h20v0.5h-20zM121.5 140.5h19.5v0.5h-19.5zM120 141h20.5v0.5h-20.5zM119.5 141.5h21v0.5h-21zM118.5 142h20v0.5h-20zM117.5 142.5h21v0.5h-21zM117.5 143h21v0.5h-21zM116 143.5h20v0.5h-20zM115 144h20.5v0.5h-20.5zM115 144.5h20v0.5h-20zM114 145h19.5v0.5h-19.5zM112.5 145.5h21v0.5h-21zM112.5 146h20.5v0.5h-20.5zM111.5 146.5h20v0.5h-20zM110.5 147h21v0.5h-21zM110 147.5h20v0.5h-20zM109 148h20v0.5h-20zM109 148.5h19.5v0.5h-19.5zM108 149h19.5v0.5h-19.5zM107 149.5h20v0.5h-20zM106 150h20.5v0.5h-20.5zM105.5 150.5h20v0.5h-20zM104 151h21v0.5h-21zM103.5 151.5h20.5v0.5h-20.5zM102.5 152h20.5v0.5h-20.5zM102 152.5h20.5v0.5h-20.5zM101.5 153h19.5v0.5h-19.5zM100.5 153.5h20.5v0.5h-20.5zM99.5 154h20.5v0.5h-20.5zM99 154.5h20.5v0.5h-20.5zM98.5 155h20v0.5h-20zM96.5 155.5h21v0.5h-21zM96 156h21v0.5h-21zM95.5 156.5h20.5v0.5h-20.5zM95 157h20.5v0.5h-20.5zM94 157.5h20v0.5h-20zM93.5 158h20.5v0.5h-20.5zM93 158.5h20.5v0.5h-20.5zM91.5 159h20.5v0.5h-20.5zM91.5 159.5h20v0.5h-20zM90 160h21v0.5h-21zM89 160.5h20.5v0.5h-20.5zM89 161h19.5v0.5h-19.5zM88.5 161.5h19.5v0.5h-19.5zM87.5 162h20v0.5h-20zM84 162.5h0.5v0.5h-0.5zM86 162.5h20.5v0.5h-20.5zM83.5 163h22.5v0.5h-22.5zM82.5 163.5h22.5v0.5h-22.5zM82.5 164h21.5v0.5h-21.5zM82.5 164.5h21v0.5h-21zM82 165h20.5v0.5h-20.5zM82 165.5h20v0.5h-20zM82 166h19v0.5h-19zM81.5 166.5h18.5v0.5h-18.5zM81 167h18.5v0.5h-18.5zM81 167.5h18v0.5h-18zM81 168h17v0.5h-17zM80.5 168.5h16.5v0.5h-16.5zM80.5 169h16v0.5h-16zM80.5 169.5h15.5v0.5h-15.5zM80 170h16v0.5h-16zM80 170.5h16v0.5h-16zM80 171h15.5v0.5h-15.5zM79.5 171.5h15.5v0.5h-15.5zM79.5 172h13v0.5h-13zM79 172.5h10v0.5h-10zM79 173h8v0.5h-8zM78.5 173.5h6v0.5h-6zM78.5 174h3.5v0.5h-3.5z"/><path fill="#e2171b" d="M211.5 37.5h1.5v0.5h-1.5zM214 37.5h1.5v0.5h-1.5zM216.5 37.5h1.5v0.5h-1.5zM238.5 37.5h1.5v0.5h-1.5zM250.5 37.5h1.5v0.5h-1.5zM256 37.5h1.5v0.5h-1.5zM261.5 37.5h1.5v0.5h-1.5zM264.5 37.5h1.5v0.5h-1.5zM266.5 37.5h1.5v0.5h-1.5zM269.5 37.5h2v0.5h-2zM273.5 37.5h1.5v0.5h-1.5zM276 37.5h1.5v0.5h-1.5zM211.5 38h1.5v0.5h-1.5zM214 38h1.5v0.5h-1.5zM216.5 38h1.5v0.5h-1.5zM238.5 38h1.5v0.5h-1.5zM243 38h1.5v0.5h-1.5zM247 38h1.5v0.5h-1.5zM250.5 38h1.5v0.5h-1.5zM256 38h2.5v0.5h-2.5zM261.5 38h1.5v0.5h-1.5zM264 38h2v0.5h-2zM266.5 38h1.5v0.5h-1.5zM269.5 38h2v0.5h-2zM272.5 38h2.5v0.5h-2.5zM276 38h1.5v0.5h-1.5zM211.5 38.5h1.5v0.5h-1.5zM214 38.5h1.5v0.5h-1.5zM216.5 38.5h1.5v0.5h-1.5zM238.5 38.5h1.5v0.5h-1.5zM243 38.5h1.5v0.5h-1.5zM247 38.5h1.5v0.5h-1.5zM250.5 38.5h1.5v0.5h-1.5zM256 38.5h2.5v0.5h-2.5zM261.5 38.5h1.5v0.5h-1.5zM264 38.5h4v0.5h-4zM269.5 38.5h2v0.5h-2zM272.5 38.5h2.5v0.5h-2.5zM276 38.5h1.5v0.5h-1.5zM208.5 39h1.5v0.5h-1.5zM241.5 39h3v0.5h-3zM247 39h1.5v0.5h-1.5zM251.5 39h1.5v0.5h-1.5zM257 39h3v0.5h-3zM263 39h3.5v0.5h-3.5zM272.5 39h1.5v0.5h-1.5zM208.5 39.5h1.5v0.5h-1.5zM241.5 39.5h1.5v0.5h-1.5zM251.5 39.5h1.5v0.5h-1.5zM258.5 39.5h1.5v0.5h-1.5zM263 39.5h1.5v0.5h-1.5zM265 39.5h3.5v0.5h-3.5zM270 39.5h1.5v0.5h-1.5zM177.5 40h1.5v0.5h-1.5zM208.5 40h1.5v0.5h-1.5zM241.5 40h1.5v0.5h-1.5zM251.5 40h1.5v0.5h-1.5zM258.5 40h3v0.5h-3zM263 40h1.5v0.5h-1.5zM266.5 40h2v0.5h-2zM270 40h3v0.5h-3zM100.5 40.5h1.5v0.5h-1.5zM177.5 40.5h1.5v0.5h-1.5zM253 40.5h1.5v0.5h-1.5zM255.5 40.5h1.5v0.5h-1.5zM260 40.5h1.5v0.5h-1.5zM262 40.5h2.5v0.5h-2.5zM266.5 40.5h6.5v0.5h-6.5zM100.5 41h1.5v0.5h-1.5zM177.5 41h1.5v0.5h-1.5zM233 41h1.5v0.5h-1.5zM253 41h1.5v0.5h-1.5zM255 41h2v0.5h-2zM260 41h1.5v0.5h-1.5zM262 41h2.5v0.5h-2.5zM268.5 41h4.5v0.5h-4.5zM100.5 41.5h1.5v0.5h-1.5zM220.5 41.5h1.5v0.5h-1.5zM233 41.5h1.5v0.5h-1.5zM253 41.5h1.5v0.5h-1.5zM255 41.5h2v0.5h-2zM262 41.5h1.5v0.5h-1.5zM266 41.5h2v0.5h-2zM268.5 41.5h3v0.5h-3zM186 42h1.5v0.5h-1.5zM195 42h1.5v0.5h-1.5zM220.5 42h1.5v0.5h-1.5zM233 42h1.5v0.5h-1.5zM255 42h1.5v0.5h-1.5zM262.5 42h1.5v0.5h-1.5zM265.5 42h2.5v0.5h-2.5zM186 42.5h1.5v0.5h-1.5zM195 42.5h1.5v0.5h-1.5zM220.5 42.5h1.5v0.5h-1.5zM256.5 42.5h1.5v0.5h-1.5zM261.5 42.5h2.5v0.5h-2.5zM265.5 42.5h2.5v0.5h-2.5zM161.5 43h1.5v0.5h-1.5zM186 43h1.5v0.5h-1.5zM195 43h1.5v0.5h-1.5zM249.5 43h1.5v0.5h-1.5zM253 43h1.5v0.5h-1.5zM256.5 43h1.5v0.5h-1.5zM259 43h1.5v0.5h-1.5zM261.5 43h2.5v0.5h-2.5zM265.5 43h1.5v0.5h-1.5zM161.5 43.5h1.5v0.5h-1.5zM220 43.5h1.5v0.5h-1.5zM231.5 43.5h1.5v0.5h-1.5zM249.5 43.5h1.5v0.5h-1.5zM251.5 43.5h3v0.5h-3zM256.5 43.5h1.5v0.5h-1.5zM259 43.5h1.5v0.5h-1.5zM261.5 43.5h1.5v0.5h-1.5zM264.5 43.5h1.5v0.5h-1.5zM161.5 44h1.5v0.5h-1.5zM216.5 44h1.5v0.5h-1.5zM220 44h1.5v0.5h-1.5zM231.5 44h1.5v0.5h-1.5zM248.5 44h6v0.5h-6zM259 44h1.5v0.5h-1.5zM263 44h3v0.5h-3zM216.5 44.5h1.5v0.5h-1.5zM220 44.5h3v0.5h-3zM231.5 44.5h1.5v0.5h-1.5zM246 44.5h1.5v0.5h-1.5zM248.5 44.5h1.5v0.5h-1.5zM251 44.5h3v0.5h-3zM256 44.5h1.5v0.5h-1.5zM263 44.5h3v0.5h-3zM216.5 45h1.5v0.5h-1.5zM221.5 45h1.5v0.5h-1.5zM246 45h1.5v0.5h-1.5zM248.5 45h5.5v0.5h-5.5zM256 45h3v0.5h-3zM261.5 45h4v0.5h-4zM202.5 45.5h1.5v0.5h-1.5zM221.5 45.5h1.5v0.5h-1.5zM226 45.5h1.5v0.5h-1.5zM229.5 45.5h1.5v0.5h-1.5zM246 45.5h1.5v0.5h-1.5zM250 45.5h1.5v0.5h-1.5zM252.5 45.5h1.5v0.5h-1.5zM256 45.5h3.5v0.5h-3.5zM261.5 45.5h4v0.5h-4zM202.5 46h1.5v0.5h-1.5zM223 46h1.5v0.5h-1.5zM225.5 46h2v0.5h-2zM229.5 46h1.5v0.5h-1.5zM236 46h1.5v0.5h-1.5zM241 46h1.5v0.5h-1.5zM250 46h1.5v0.5h-1.5zM253 46h2v0.5h-2zM257 46h2.5v0.5h-2.5zM260.5 46h3.5v0.5h-3.5zM202.5 46.5h1.5v0.5h-1.5zM223 46.5h1.5v0.5h-1.5zM225.5 46.5h2v0.5h-2zM229.5 46.5h1.5v0.5h-1.5zM236 46.5h1.5v0.5h-1.5zM241 46.5h1.5v0.5h-1.5zM253 46.5h2v0.5h-2zM256.5 46.5h3v0.5h-3zM260 46.5h4v0.5h-4zM223 47h1.5v0.5h-1.5zM225.5 47h1.5v0.5h-1.5zM231 47h1.5v0.5h-1.5zM234.5 47h3v0.5h-3zM241 47h1.5v0.5h-1.5zM249.5 47h1.5v0.5h-1.5zM253 47h2v0.5h-2zM255.5 47h2.5v0.5h-2.5zM260 47h2.5v0.5h-2.5zM225.5 47.5h1.5v0.5h-1.5zM231 47.5h3v0.5h-3zM234.5 47.5h1.5v0.5h-1.5zM237.5 47.5h1.5v0.5h-1.5zM242.5 47.5h1.5v0.5h-1.5zM247.5 47.5h1.5v0.5h-1.5zM249.5 47.5h3v0.5h-3zM255 47.5h3v0.5h-3zM260 47.5h2.5v0.5h-2.5zM231 48h3v0.5h-3zM234.5 48h2.5v0.5h-2.5zM237.5 48h1.5v0.5h-1.5zM242.5 48h1.5v0.5h-1.5zM247.5 48h5v0.5h-5zM255 48h3.5v0.5h-3.5zM228 48.5h1.5v0.5h-1.5zM232 48.5h2v0.5h-2zM235.5 48.5h1.5v0.5h-1.5zM237.5 48.5h1.5v0.5h-1.5zM240.5 48.5h1.5v0.5h-1.5zM242.5 48.5h1.5v0.5h-1.5zM247.5 48.5h3v0.5h-3zM251 48.5h1.5v0.5h-1.5zM255 48.5h1.5v0.5h-1.5zM257 48.5h2v0.5h-2zM210.5 49h1.5v0.5h-1.5zM224 49h1.5v0.5h-1.5zM228 49h1.5v0.5h-1.5zM232 49h1.5v0.5h-1.5zM234 49h3v0.5h-3zM240.5 49h1.5v0.5h-1.5zM249 49h4v0.5h-4zM255 49h4v0.5h-4zM210.5 49.5h1.5v0.5h-1.5zM219.5 49.5h1.5v0.5h-1.5zM224 49.5h1.5v0.5h-1.5zM228 49.5h1.5v0.5h-1.5zM232 49.5h1.5v0.5h-1.5zM234 49.5h1.5v0.5h-1.5zM240.5 49.5h1.5v0.5h-1.5zM250.5 49.5h2.5v0.5h-2.5zM255.5 49.5h3.5v0.5h-3.5zM210.5 50h1.5v0.5h-1.5zM219.5 50h1.5v0.5h-1.5zM224 50h1.5v0.5h-1.5zM232 50h1.5v0.5h-1.5zM234 50h1.5v0.5h-1.5zM240 50h1.5v0.5h-1.5zM246.5 50h1.5v0.5h-1.5zM250.5 50h4.5v0.5h-4.5zM255.5 50h2.5v0.5h-2.5zM167 50.5h1.5v0.5h-1.5zM219.5 50.5h1.5v0.5h-1.5zM240 50.5h2.5v0.5h-2.5zM246.5 50.5h1.5v0.5h-1.5zM251 50.5h4v0.5h-4zM167 51h1.5v0.5h-1.5zM198 51h1.5v0.5h-1.5zM226.5 51h1.5v0.5h-1.5zM240 51h2.5v0.5h-2.5zM245 51h3v0.5h-3zM251 51h4.5v0.5h-4.5zM167 51.5h1.5v0.5h-1.5zM198 51.5h1.5v0.5h-1.5zM217 51.5h1.5v0.5h-1.5zM226.5 51.5h1.5v0.5h-1.5zM230 51.5h1.5v0.5h-1.5zM235 51.5h3v0.5h-3zM241 51.5h1.5v0.5h-1.5zM244 51.5h2.5v0.5h-2.5zM248.5 51.5h3v0.5h-3zM252 51.5h3.5v0.5h-3.5zM198 52h1.5v0.5h-1.5zM217 52h1.5v0.5h-1.5zM226.5 52h1.5v0.5h-1.5zM229.5 52h3.5v0.5h-3.5zM235 52h3v0.5h-3zM241.5 52h5v0.5h-5zM248.5 52h3v0.5h-3zM252 52h3.5v0.5h-3.5zM217 52.5h1.5v0.5h-1.5zM228.5 52.5h4.5v0.5h-4.5zM235 52.5h3v0.5h-3zM239 52.5h6.5v0.5h-6.5zM248.5 52.5h6v0.5h-6zM128.5 53h1.5v0.5h-1.5zM191.5 53h1.5v0.5h-1.5zM200 53h1.5v0.5h-1.5zM217.5 53h1.5v0.5h-1.5zM224.5 53h1.5v0.5h-1.5zM228.5 53h2.5v0.5h-2.5zM231.5 53h1.5v0.5h-1.5zM237 53h1.5v0.5h-1.5zM239 53h5v0.5h-5zM246 53h1.5v0.5h-1.5zM249.5 53h4v0.5h-4zM128.5 53.5h1.5v0.5h-1.5zM173.5 53.5h1.5v0.5h-1.5zM191.5 53.5h1.5v0.5h-1.5zM200 53.5h1.5v0.5h-1.5zM217.5 53.5h1.5v0.5h-1.5zM221.5 53.5h1.5v0.5h-1.5zM223.5 53.5h2.5v0.5h-2.5zM228.5 53.5h1.5v0.5h-1.5zM236.5 53.5h5.5v0.5h-5.5zM242.5 53.5h1.5v0.5h-1.5zM245 53.5h2.5v0.5h-2.5zM249.5 53.5h4v0.5h-4zM128.5 54h1.5v0.5h-1.5zM173.5 54h1.5v0.5h-1.5zM191.5 54h1.5v0.5h-1.5zM200 54h1.5v0.5h-1.5zM203 54h1.5v0.5h-1.5zM215 54h1.5v0.5h-1.5zM217.5 54h1.5v0.5h-1.5zM221.5 54h1.5v0.5h-1.5zM223.5 54h2.5v0.5h-2.5zM227 54h1.5v0.5h-1.5zM236.5 54h4v0.5h-4zM242.5 54h1.5v0.5h-1.5zM245 54h2.5v0.5h-2.5zM248 54h4.5v0.5h-4.5zM173.5 54.5h1.5v0.5h-1.5zM203 54.5h1.5v0.5h-1.5zM215 54.5h1.5v0.5h-1.5zM221.5 54.5h1.5v0.5h-1.5zM223.5 54.5h1.5v0.5h-1.5zM227 54.5h1.5v0.5h-1.5zM232 54.5h1.5v0.5h-1.5zM236.5 54.5h4.5v0.5h-4.5zM242.5 54.5h4v0.5h-4zM248 54.5h2.5v0.5h-2.5zM203 55h1.5v0.5h-1.5zM215 55h1.5v0.5h-1.5zM227 55h1.5v0.5h-1.5zM232 55h1.5v0.5h-1.5zM234 55h1.5v0.5h-1.5zM236 55h1.5v0.5h-1.5zM239 55h2v0.5h-2zM244 55h2v0.5h-2zM246.5 55h4v0.5h-4zM217 55.5h1.5v0.5h-1.5zM232 55.5h3.5v0.5h-3.5zM236 55.5h6.5v0.5h-6.5zM244 55.5h5.5v0.5h-5.5zM217 56h3v0.5h-3zM232.5 56h6.5v0.5h-6.5zM239.5 56h3v0.5h-3zM244.5 56h5v0.5h-5zM217 56.5h3v0.5h-3zM222.5 56.5h1.5v0.5h-1.5zM232.5 56.5h2v0.5h-2zM235.5 56.5h4v0.5h-4zM241 56.5h1.5v0.5h-1.5zM245 56.5h2.5v0.5h-2.5zM218.5 57h1.5v0.5h-1.5zM222.5 57h1.5v0.5h-1.5zM228.5 57h1.5v0.5h-1.5zM232 57h2.5v0.5h-2.5zM235.5 57h4v0.5h-4zM241 57h1.5v0.5h-1.5zM245 57h2v0.5h-2zM116.5 57.5h1.5v0.5h-1.5zM153.5 57.5h1.5v0.5h-1.5zM207 57.5h1.5v0.5h-1.5zM210 57.5h1.5v0.5h-1.5zM218.5 57.5h2.5v0.5h-2.5zM222 57.5h2v0.5h-2zM226.5 57.5h1.5v0.5h-1.5zM228.5 57.5h1.5v0.5h-1.5zM232 57.5h1.5v0.5h-1.5zM234.5 57.5h1.5v0.5h-1.5zM237 57.5h3v0.5h-3zM241 57.5h1.5v0.5h-1.5zM116.5 58h1.5v0.5h-1.5zM153.5 58h1.5v0.5h-1.5zM193.5 58h1.5v0.5h-1.5zM207 58h1.5v0.5h-1.5zM210 58h3v0.5h-3zM219 58h2v0.5h-2zM222 58h1.5v0.5h-1.5zM224 58h1.5v0.5h-1.5zM226.5 58h1.5v0.5h-1.5zM228.5 58h1.5v0.5h-1.5zM230.5 58h3v0.5h-3zM234.5 58h1.5v0.5h-1.5zM237 58h5.5v0.5h-5.5zM243 58h1.5v0.5h-1.5zM116.5 58.5h1.5v0.5h-1.5zM153.5 58.5h1.5v0.5h-1.5zM193.5 58.5h1.5v0.5h-1.5zM195.5 58.5h1.5v0.5h-1.5zM207 58.5h1.5v0.5h-1.5zM210 58.5h3v0.5h-3zM217.5 58.5h3.5v0.5h-3.5zM222 58.5h3.5v0.5h-3.5zM226.5 58.5h1.5v0.5h-1.5zM230.5 58.5h1.5v0.5h-1.5zM234.5 58.5h1.5v0.5h-1.5zM237 58.5h4.5v0.5h-4.5zM243 58.5h1.5v0.5h-1.5zM193.5 59h1.5v0.5h-1.5zM195.5 59h1.5v0.5h-1.5zM211.5 59h3v0.5h-3zM217.5 59h1.5v0.5h-1.5zM222.5 59h3v0.5h-3zM230 59h2v0.5h-2zM232.5 59h1.5v0.5h-1.5zM235 59h1.5v0.5h-1.5zM237.5 59h1.5v0.5h-1.5zM240 59h4.5v0.5h-4.5zM195.5 59.5h1.5v0.5h-1.5zM201 59.5h1.5v0.5h-1.5zM213 59.5h1.5v0.5h-1.5zM217.5 59.5h1.5v0.5h-1.5zM222.5 59.5h2v0.5h-2zM228.5 59.5h3.5v0.5h-3.5zM232.5 59.5h1.5v0.5h-1.5zM235 59.5h3v0.5h-3zM240 59.5h3v0.5h-3zM201 60h1.5v0.5h-1.5zM211 60h1.5v0.5h-1.5zM213 60h1.5v0.5h-1.5zM223 60h1.5v0.5h-1.5zM228.5 60h3.5v0.5h-3.5zM232.5 60h1.5v0.5h-1.5zM235 60h4v0.5h-4zM240 60h3v0.5h-3zM201 60.5h1.5v0.5h-1.5zM211 60.5h1.5v0.5h-1.5zM221.5 60.5h3v0.5h-3zM228.5 60.5h1.5v0.5h-1.5zM232.5 60.5h1.5v0.5h-1.5zM235 60.5h6v0.5h-6zM194 61h3v0.5h-3zM211 61h1.5v0.5h-1.5zM216 61h1.5v0.5h-1.5zM219 61h1.5v0.5h-1.5zM221.5 61h1.5v0.5h-1.5zM225 61h1.5v0.5h-1.5zM230.5 61h1.5v0.5h-1.5zM235 61h1.5v0.5h-1.5zM237.5 61h3.5v0.5h-3.5zM160.5 61.5h1.5v0.5h-1.5zM194 61.5h3v0.5h-3zM214 61.5h1.5v0.5h-1.5zM216 61.5h1.5v0.5h-1.5zM219 61.5h1.5v0.5h-1.5zM221.5 61.5h1.5v0.5h-1.5zM225 61.5h1.5v0.5h-1.5zM227 61.5h1.5v0.5h-1.5zM230.5 61.5h3v0.5h-3zM235 61.5h1.5v0.5h-1.5zM237.5 61.5h3.5v0.5h-3.5zM160.5 62h1.5v0.5h-1.5zM194 62h3v0.5h-3zM198.5 62h1.5v0.5h-1.5zM204.5 62h1.5v0.5h-1.5zM214 62h1.5v0.5h-1.5zM216 62h1.5v0.5h-1.5zM219 62h1.5v0.5h-1.5zM222 62h2v0.5h-2zM225 62h1.5v0.5h-1.5zM227 62h1.5v0.5h-1.5zM230 62h3.5v0.5h-3.5zM235 62h5.5v0.5h-5.5zM160.5 62.5h1.5v0.5h-1.5zM198.5 62.5h1.5v0.5h-1.5zM204.5 62.5h2.5v0.5h-2.5zM214 62.5h1.5v0.5h-1.5zM222 62.5h2v0.5h-2zM227 62.5h6.5v0.5h-6.5zM234 62.5h4.5v0.5h-4.5zM198.5 63h1.5v0.5h-1.5zM204.5 63h2.5v0.5h-2.5zM211 63h2v0.5h-2zM219.5 63h4.5v0.5h-4.5zM227 63h6v0.5h-6zM234 63h4.5v0.5h-4.5zM205.5 63.5h1.5v0.5h-1.5zM211 63.5h2v0.5h-2zM219.5 63.5h5v0.5h-5zM228 63.5h8.5v0.5h-8.5zM206.5 64h1.5v0.5h-1.5zM211 64h2v0.5h-2zM216.5 64h1.5v0.5h-1.5zM219.5 64h7.5v0.5h-7.5zM228 64h8.5v0.5h-8.5zM141.5 64.5h1.5v0.5h-1.5zM206.5 64.5h1.5v0.5h-1.5zM216.5 64.5h2v0.5h-2zM220.5 64.5h15.5v0.5h-15.5zM141.5 65h1.5v0.5h-1.5zM148.5 65h1.5v0.5h-1.5zM206.5 65h1.5v0.5h-1.5zM214 65h1.5v0.5h-1.5zM216.5 65h2v0.5h-2zM220.5 65h2v0.5h-2zM224 65h5v0.5h-5zM230 65h3.5v0.5h-3.5zM141.5 65.5h1.5v0.5h-1.5zM148.5 65.5h1.5v0.5h-1.5zM191.5 65.5h1.5v0.5h-1.5zM204 65.5h1.5v0.5h-1.5zM208 65.5h1.5v0.5h-1.5zM214 65.5h4.5v0.5h-4.5zM221 65.5h2v0.5h-2zM224 65.5h1.5v0.5h-1.5zM227 65.5h2v0.5h-2zM230 65.5h3.5v0.5h-3.5zM148.5 66h1.5v0.5h-1.5zM171 66h1.5v0.5h-1.5zM182 66h1.5v0.5h-1.5zM191.5 66h2.5v0.5h-2.5zM200 66h1.5v0.5h-1.5zM204 66h1.5v0.5h-1.5zM208 66h1.5v0.5h-1.5zM211 66h1.5v0.5h-1.5zM214 66h3v0.5h-3zM221 66h2.5v0.5h-2.5zM224 66h1.5v0.5h-1.5zM229 66h2.5v0.5h-2.5zM232 66h1.5v0.5h-1.5zM171 66.5h1.5v0.5h-1.5zM182 66.5h1.5v0.5h-1.5zM191.5 66.5h2.5v0.5h-2.5zM199.5 66.5h2v0.5h-2zM204 66.5h1.5v0.5h-1.5zM208 66.5h2v0.5h-2zM211 66.5h1.5v0.5h-1.5zM215.5 66.5h1.5v0.5h-1.5zM217.5 66.5h1.5v0.5h-1.5zM221 66.5h2.5v0.5h-2.5zM229 66.5h2.5v0.5h-2.5zM169.5 67h3v0.5h-3zM182 67h1.5v0.5h-1.5zM192.5 67h1.5v0.5h-1.5zM199.5 67h2v0.5h-2zM205 67h1.5v0.5h-1.5zM208 67h2v0.5h-2zM211 67h1.5v0.5h-1.5zM213.5 67h1.5v0.5h-1.5zM217.5 67h1.5v0.5h-1.5zM219.5 67h1.5v0.5h-1.5zM221.5 67h4.5v0.5h-4.5zM226.5 67h1.5v0.5h-1.5zM229 67h2.5v0.5h-2.5zM169.5 67.5h1.5v0.5h-1.5zM199.5 67.5h1.5v0.5h-1.5zM203 67.5h1.5v0.5h-1.5zM205 67.5h1.5v0.5h-1.5zM208 67.5h2v0.5h-2zM213 67.5h2v0.5h-2zM216 67.5h3v0.5h-3zM219.5 67.5h6.5v0.5h-6.5zM226.5 67.5h2.5v0.5h-2.5zM169.5 68h1.5v0.5h-1.5zM196 68h1.5v0.5h-1.5zM202 68h2.5v0.5h-2.5zM205 68h1.5v0.5h-1.5zM213 68h5v0.5h-5zM218.5 68h3.5v0.5h-3.5zM223 68h3v0.5h-3zM226.5 68h2.5v0.5h-2.5zM172 68.5h1.5v0.5h-1.5zM174 68.5h1.5v0.5h-1.5zM196 68.5h1.5v0.5h-1.5zM202 68.5h2.5v0.5h-2.5zM207 68.5h1.5v0.5h-1.5zM210.5 68.5h11.5v0.5h-11.5zM223 68.5h2.5v0.5h-2.5zM226 68.5h3v0.5h-3zM172 69h1.5v0.5h-1.5zM174 69h1.5v0.5h-1.5zM196 69h1.5v0.5h-1.5zM202 69h1.5v0.5h-1.5zM207 69h1.5v0.5h-1.5zM210 69h14.5v0.5h-14.5zM225 69h2.5v0.5h-2.5zM172 69.5h1.5v0.5h-1.5zM174 69.5h1.5v0.5h-1.5zM188.5 69.5h2.5v0.5h-2.5zM203 69.5h1.5v0.5h-1.5zM207 69.5h7.5v0.5h-7.5zM215 69.5h4v0.5h-4zM220 69.5h3.5v0.5h-3.5zM225 69.5h2.5v0.5h-2.5zM188.5 70h3.5v0.5h-3.5zM199 70h1.5v0.5h-1.5zM203 70h1.5v0.5h-1.5zM207.5 70h6.5v0.5h-6.5zM217 70h1.5v0.5h-1.5zM221 70h2.5v0.5h-2.5zM225 70h1.5v0.5h-1.5zM188.5 70.5h3.5v0.5h-3.5zM199 70.5h1.5v0.5h-1.5zM203 70.5h1.5v0.5h-1.5zM205 70.5h1.5v0.5h-1.5zM207.5 70.5h4.5v0.5h-4.5zM212.5 70.5h1.5v0.5h-1.5zM217 70.5h1.5v0.5h-1.5zM219 70.5h1.5v0.5h-1.5zM221 70.5h1.5v0.5h-1.5zM224.5 70.5h1.5v0.5h-1.5zM190.5 71h1.5v0.5h-1.5zM199 71h1.5v0.5h-1.5zM205 71h1.5v0.5h-1.5zM207.5 71h2v0.5h-2zM210 71h2v0.5h-2zM214.5 71h1.5v0.5h-1.5zM217 71h1.5v0.5h-1.5zM219 71h1.5v0.5h-1.5zM221.5 71h2.5v0.5h-2.5zM224.5 71h1.5v0.5h-1.5zM160 71.5h1.5v0.5h-1.5zM194 71.5h1.5v0.5h-1.5zM198.5 71.5h2v0.5h-2zM204 71.5h2.5v0.5h-2.5zM208 71.5h1.5v0.5h-1.5zM210.5 71.5h13.5v0.5h-13.5zM224.5 71.5h1.5v0.5h-1.5zM160 72h1.5v0.5h-1.5zM194 72h3v0.5h-3zM198.5 72h2v0.5h-2zM203.5 72h2v0.5h-2zM206.5 72h3v0.5h-3zM210 72h14v0.5h-14zM160 72.5h1.5v0.5h-1.5zM179.5 72.5h1.5v0.5h-1.5zM185 72.5h3v0.5h-3zM194 72.5h3v0.5h-3zM198.5 72.5h1.5v0.5h-1.5zM203.5 72.5h2v0.5h-2zM206.5 72.5h1.5v0.5h-1.5zM210 72.5h5v0.5h-5zM216 72.5h3.5v0.5h-3.5zM220 72.5h2v0.5h-2zM153.5 73h1.5v0.5h-1.5zM174 73h1.5v0.5h-1.5zM179.5 73h1.5v0.5h-1.5zM185 73h3v0.5h-3zM195.5 73h1.5v0.5h-1.5zM199 73h3v0.5h-3zM202.5 73h6.5v0.5h-6.5zM210 73h1.5v0.5h-1.5zM212 73h3v0.5h-3zM216 73h6v0.5h-6zM153.5 73.5h1.5v0.5h-1.5zM164 73.5h1.5v0.5h-1.5zM168.5 73.5h1.5v0.5h-1.5zM174 73.5h1.5v0.5h-1.5zM179.5 73.5h1.5v0.5h-1.5zM185 73.5h4.5v0.5h-4.5zM191.5 73.5h1.5v0.5h-1.5zM199 73.5h3v0.5h-3zM202.5 73.5h6.5v0.5h-6.5zM212 73.5h1.5v0.5h-1.5zM215.5 73.5h2.5v0.5h-2.5zM218.5 73.5h3.5v0.5h-3.5zM146.5 74h1.5v0.5h-1.5zM153.5 74h1.5v0.5h-1.5zM164 74h1.5v0.5h-1.5zM168.5 74h1.5v0.5h-1.5zM174 74h1.5v0.5h-1.5zM188 74h1.5v0.5h-1.5zM191.5 74h1.5v0.5h-1.5zM195.5 74h1.5v0.5h-1.5zM197.5 74h4.5v0.5h-4.5zM202.5 74h6.5v0.5h-6.5zM212 74h1.5v0.5h-1.5zM214.5 74h3.5v0.5h-3.5zM218.5 74h3.5v0.5h-3.5zM132.5 74.5h1.5v0.5h-1.5zM146.5 74.5h1.5v0.5h-1.5zM164 74.5h1.5v0.5h-1.5zM168.5 74.5h1.5v0.5h-1.5zM188 74.5h1.5v0.5h-1.5zM191.5 74.5h1.5v0.5h-1.5zM195.5 74.5h1.5v0.5h-1.5zM197.5 74.5h2v0.5h-2zM203.5 74.5h1.5v0.5h-1.5zM211 74.5h2.5v0.5h-2.5zM214.5 74.5h4.5v0.5h-4.5zM219.5 74.5h1.5v0.5h-1.5zM122 75h1.5v0.5h-1.5zM132.5 75h1.5v0.5h-1.5zM146.5 75h1.5v0.5h-1.5zM184 75h1.5v0.5h-1.5zM195.5 75h1.5v0.5h-1.5zM197.5 75h3v0.5h-3zM202 75h5v0.5h-5zM208 75h1.5v0.5h-1.5zM211 75h2.5v0.5h-2.5zM214.5 75h4.5v0.5h-4.5zM122 75.5h1.5v0.5h-1.5zM132.5 75.5h1.5v0.5h-1.5zM171.5 75.5h1.5v0.5h-1.5zM184 75.5h1.5v0.5h-1.5zM191 75.5h2.5v0.5h-2.5zM194 75.5h3v0.5h-3zM197.5 75.5h9.5v0.5h-9.5zM208 75.5h1.5v0.5h-1.5zM210.5 75.5h8.5v0.5h-8.5zM115 76h1.5v0.5h-1.5zM122 76h1.5v0.5h-1.5zM171.5 76h1.5v0.5h-1.5zM174.5 76h1.5v0.5h-1.5zM184 76h1.5v0.5h-1.5zM190.5 76h3v0.5h-3zM194 76h3v0.5h-3zM197.5 76h12v0.5h-12zM210.5 76h8v0.5h-8zM115 76.5h1.5v0.5h-1.5zM160.5 76.5h1.5v0.5h-1.5zM171.5 76.5h1.5v0.5h-1.5zM174 76.5h2.5v0.5h-2.5zM190.5 76.5h3v0.5h-3zM194 76.5h3v0.5h-3zM197.5 76.5h1.5v0.5h-1.5zM200 76.5h4.5v0.5h-4.5zM205.5 76.5h7.5v0.5h-7.5zM213.5 76.5h3v0.5h-3zM115 77h1.5v0.5h-1.5zM160.5 77h1.5v0.5h-1.5zM171 77h1.5v0.5h-1.5zM174 77h2.5v0.5h-2.5zM178 77h1.5v0.5h-1.5zM183 77h1.5v0.5h-1.5zM187.5 77h1.5v0.5h-1.5zM190.5 77h1.5v0.5h-1.5zM197.5 77h1.5v0.5h-1.5zM199.5 77h2v0.5h-2zM202 77h2.5v0.5h-2.5zM205.5 77h11v0.5h-11zM160.5 77.5h1.5v0.5h-1.5zM171 77.5h1.5v0.5h-1.5zM174 77.5h2.5v0.5h-2.5zM177 77.5h2.5v0.5h-2.5zM183 77.5h3v0.5h-3zM187.5 77.5h1.5v0.5h-1.5zM197 77.5h7v0.5h-7zM205 77.5h6.5v0.5h-6.5zM212 77.5h3.5v0.5h-3.5zM142.5 78h1.5v0.5h-1.5zM171 78h1.5v0.5h-1.5zM177 78h4v0.5h-4zM183 78h3v0.5h-3zM187.5 78h2.5v0.5h-2.5zM191 78h4.5v0.5h-4.5zM197 78h7v0.5h-7zM205 78h10v0.5h-10zM142.5 78.5h1.5v0.5h-1.5zM177 78.5h4v0.5h-4zM184.5 78.5h1.5v0.5h-1.5zM188.5 78.5h1.5v0.5h-1.5zM191 78.5h4.5v0.5h-4.5zM197 78.5h6v0.5h-6zM205 78.5h8.5v0.5h-8.5zM142.5 79h1.5v0.5h-1.5zM155.5 79h1.5v0.5h-1.5zM178.5 79h2.5v0.5h-2.5zM188.5 79h1.5v0.5h-1.5zM191 79h4.5v0.5h-4.5zM197 79h6v0.5h-6zM204 79h5.5v0.5h-5.5zM210.5 79h1.5v0.5h-1.5zM155.5 79.5h1.5v0.5h-1.5zM166.5 79.5h1.5v0.5h-1.5zM178.5 79.5h1.5v0.5h-1.5zM186.5 79.5h1.5v0.5h-1.5zM190 79.5h2v0.5h-2zM192.5 79.5h3v0.5h-3zM197 79.5h11.5v0.5h-11.5zM155.5 80h3.5v0.5h-3.5zM166.5 80h1.5v0.5h-1.5zM173.5 80h1.5v0.5h-1.5zM183 80h1.5v0.5h-1.5zM186.5 80h1.5v0.5h-1.5zM190 80h2v0.5h-2zM192.5 80h4v0.5h-4zM197 80h2v0.5h-2zM200.5 80h6.5v0.5h-6.5zM207.5 80h1.5v0.5h-1.5zM148 80.5h1.5v0.5h-1.5zM156 80.5h3v0.5h-3zM166.5 80.5h1.5v0.5h-1.5zM173.5 80.5h1.5v0.5h-1.5zM183 80.5h1.5v0.5h-1.5zM186.5 80.5h1.5v0.5h-1.5zM188.5 80.5h5v0.5h-5zM194 80.5h2.5v0.5h-2.5zM197.5 80.5h1.5v0.5h-1.5zM199.5 80.5h7.5v0.5h-7.5zM207.5 80.5h2v0.5h-2zM148 81h1.5v0.5h-1.5zM156 81h3v0.5h-3zM160 81h1.5v0.5h-1.5zM173.5 81h1.5v0.5h-1.5zM183 81h1.5v0.5h-1.5zM188.5 81h6v0.5h-6zM195 81h4v0.5h-4zM199.5 81h1.5v0.5h-1.5zM201.5 81h8v0.5h-8zM128 81.5h1.5v0.5h-1.5zM148 81.5h1.5v0.5h-1.5zM160 81.5h1.5v0.5h-1.5zM167.5 81.5h1.5v0.5h-1.5zM172.5 81.5h2.5v0.5h-2.5zM188.5 81.5h10.5v0.5h-10.5zM199.5 81.5h10v0.5h-10zM128 82h1.5v0.5h-1.5zM151.5 82h1.5v0.5h-1.5zM160 82h1.5v0.5h-1.5zM166 82h3v0.5h-3zM172.5 82h2.5v0.5h-2.5zM183.5 82h2v0.5h-2zM189.5 82h19.5v0.5h-19.5zM128 82.5h1.5v0.5h-1.5zM151.5 82.5h1.5v0.5h-1.5zM166 82.5h3v0.5h-3zM172.5 82.5h2.5v0.5h-2.5zM180.5 82.5h1.5v0.5h-1.5zM183.5 82.5h2v0.5h-2zM187 82.5h1.5v0.5h-1.5zM190.5 82.5h17v0.5h-17zM151.5 83h1.5v0.5h-1.5zM155.5 83h3v0.5h-3zM166 83h1.5v0.5h-1.5zM170 83h1.5v0.5h-1.5zM177 83h1.5v0.5h-1.5zM180.5 83h8v0.5h-8zM191 83h16v0.5h-16zM155.5 83.5h3v0.5h-3zM168 83.5h1.5v0.5h-1.5zM170 83.5h2.5v0.5h-2.5zM177 83.5h1.5v0.5h-1.5zM180.5 83.5h3v0.5h-3zM184 83.5h4.5v0.5h-4.5zM193 83.5h1.5v0.5h-1.5zM196 83.5h11v0.5h-11zM150.5 84h1.5v0.5h-1.5zM155.5 84h4v0.5h-4zM164.5 84h1.5v0.5h-1.5zM168 84h1.5v0.5h-1.5zM170 84h2.5v0.5h-2.5zM177 84h3v0.5h-3zM182 84h1.5v0.5h-1.5zM184 84h3.5v0.5h-3.5zM188.5 84h1.5v0.5h-1.5zM192.5 84h1.5v0.5h-1.5zM195.5 84h5v0.5h-5zM201 84h4.5v0.5h-4.5zM131.5 84.5h1.5v0.5h-1.5zM150.5 84.5h1.5v0.5h-1.5zM157.5 84.5h2v0.5h-2zM164.5 84.5h1.5v0.5h-1.5zM168 84.5h1.5v0.5h-1.5zM171 84.5h2v0.5h-2zM174.5 84.5h1.5v0.5h-1.5zM178.5 84.5h1.5v0.5h-1.5zM186 84.5h1.5v0.5h-1.5zM188.5 84.5h1.5v0.5h-1.5zM192.5 84.5h4.5v0.5h-4.5zM197.5 84.5h8v0.5h-8zM131.5 85h1.5v0.5h-1.5zM150.5 85h1.5v0.5h-1.5zM157.5 85h2v0.5h-2zM164.5 85h1.5v0.5h-1.5zM171.5 85h1.5v0.5h-1.5zM174.5 85h1.5v0.5h-1.5zM178.5 85h1.5v0.5h-1.5zM185 85h1.5v0.5h-1.5zM188.5 85h2v0.5h-2zM192.5 85h4.5v0.5h-4.5zM197.5 85h7.5v0.5h-7.5zM131.5 85.5h1.5v0.5h-1.5zM157.5 85.5h1.5v0.5h-1.5zM171.5 85.5h1.5v0.5h-1.5zM174.5 85.5h1.5v0.5h-1.5zM179.5 85.5h1.5v0.5h-1.5zM185 85.5h3v0.5h-3zM189 85.5h3v0.5h-3zM193.5 85.5h3v0.5h-3zM197.5 85.5h4v0.5h-4zM202 85.5h2v0.5h-2zM147.5 86h1.5v0.5h-1.5zM177 86h1.5v0.5h-1.5zM179.5 86h1.5v0.5h-1.5zM185 86h3v0.5h-3zM189 86h3v0.5h-3zM192.5 86h3v0.5h-3zM196.5 86h7v0.5h-7zM140 86.5h1.5v0.5h-1.5zM147.5 86.5h1.5v0.5h-1.5zM162 86.5h1.5v0.5h-1.5zM171 86.5h1.5v0.5h-1.5zM177 86.5h1.5v0.5h-1.5zM179.5 86.5h1.5v0.5h-1.5zM185 86.5h7v0.5h-7zM192.5 86.5h9.5v0.5h-9.5zM127 87h1.5v0.5h-1.5zM140 87h1.5v0.5h-1.5zM147.5 87h1.5v0.5h-1.5zM162 87h1.5v0.5h-1.5zM168 87h1.5v0.5h-1.5zM170.5 87h2v0.5h-2zM177 87h1.5v0.5h-1.5zM179.5 87h1.5v0.5h-1.5zM187.5 87h3.5v0.5h-3.5zM192.5 87h9.5v0.5h-9.5zM127 87.5h1.5v0.5h-1.5zM140 87.5h1.5v0.5h-1.5zM152 87.5h1.5v0.5h-1.5zM162 87.5h3v0.5h-3zM167 87.5h2.5v0.5h-2.5zM170.5 87.5h2v0.5h-2zM179.5 87.5h1.5v0.5h-1.5zM182 87.5h1.5v0.5h-1.5zM184.5 87.5h2.5v0.5h-2.5zM187.5 87.5h14v0.5h-14zM127 88h1.5v0.5h-1.5zM152 88h1.5v0.5h-1.5zM157 88h1.5v0.5h-1.5zM162.5 88h2.5v0.5h-2.5zM167 88h2.5v0.5h-2.5zM170.5 88h1.5v0.5h-1.5zM173 88h2v0.5h-2zM179.5 88h2v0.5h-2zM182 88h5v0.5h-5zM188 88h11.5v0.5h-11.5zM143.5 88.5h1.5v0.5h-1.5zM146.5 88.5h1.5v0.5h-1.5zM152 88.5h1.5v0.5h-1.5zM157 88.5h1.5v0.5h-1.5zM162.5 88.5h2.5v0.5h-2.5zM167 88.5h1.5v0.5h-1.5zM169 88.5h1.5v0.5h-1.5zM173 88.5h3v0.5h-3zM180 88.5h7v0.5h-7zM188 88.5h11.5v0.5h-11.5zM116 89h1.5v0.5h-1.5zM143.5 89h1.5v0.5h-1.5zM146.5 89h1.5v0.5h-1.5zM157 89h1.5v0.5h-1.5zM169 89h2.5v0.5h-2.5zM173 89h3v0.5h-3zM178 89h1.5v0.5h-1.5zM180 89h2v0.5h-2zM183 89h2v0.5h-2zM188 89h3.5v0.5h-3.5zM192 89h7.5v0.5h-7.5zM116 89.5h1.5v0.5h-1.5zM133 89.5h3v0.5h-3zM143.5 89.5h4.5v0.5h-4.5zM154 89.5h1.5v0.5h-1.5zM160 89.5h2v0.5h-2zM169 89.5h2.5v0.5h-2.5zM174.5 89.5h1.5v0.5h-1.5zM178 89.5h1.5v0.5h-1.5zM180 89.5h6.5v0.5h-6.5zM188 89.5h10v0.5h-10zM116 90h1.5v0.5h-1.5zM133 90h4.5v0.5h-4.5zM143.5 90h3v0.5h-3zM151 90h1.5v0.5h-1.5zM154 90h1.5v0.5h-1.5zM160 90h2v0.5h-2zM169 90h2.5v0.5h-2.5zM173 90h3.5v0.5h-3.5zM178 90h1.5v0.5h-1.5zM180 90h6.5v0.5h-6.5zM189 90h2v0.5h-2zM191.5 90h5.5v0.5h-5.5zM133 90.5h4.5v0.5h-4.5zM143.5 90.5h3v0.5h-3zM147 90.5h1.5v0.5h-1.5zM151 90.5h1.5v0.5h-1.5zM154 90.5h1.5v0.5h-1.5zM160 90.5h2v0.5h-2zM167.5 90.5h3.5v0.5h-3.5zM173 90.5h4v0.5h-4zM179 90.5h7.5v0.5h-7.5zM187.5 90.5h3.5v0.5h-3.5zM191.5 90.5h5.5v0.5h-5.5zM136 91h4v0.5h-4zM147 91h1.5v0.5h-1.5zM151 91h1.5v0.5h-1.5zM154.5 91h1.5v0.5h-1.5zM164 91h1.5v0.5h-1.5zM167.5 91h1.5v0.5h-1.5zM169.5 91h7.5v0.5h-7.5zM179 91h7v0.5h-7zM187 91h3.5v0.5h-3.5zM191 91h1.5v0.5h-1.5zM193 91h3v0.5h-3zM137 91.5h3v0.5h-3zM147 91.5h1.5v0.5h-1.5zM154.5 91.5h1.5v0.5h-1.5zM162 91.5h1.5v0.5h-1.5zM164 91.5h1.5v0.5h-1.5zM167.5 91.5h1.5v0.5h-1.5zM171 91.5h7v0.5h-7zM179 91.5h1.5v0.5h-1.5zM181 91.5h5.5v0.5h-5.5zM187 91.5h2.5v0.5h-2.5zM190 91.5h2.5v0.5h-2.5zM137 92h3v0.5h-3zM148 92h1.5v0.5h-1.5zM154.5 92h1.5v0.5h-1.5zM160 92h1.5v0.5h-1.5zM162 92h1.5v0.5h-1.5zM164 92h1.5v0.5h-1.5zM169.5 92h5v0.5h-5zM176.5 92h1.5v0.5h-1.5zM179 92h13.5v0.5h-13.5zM140 92.5h1.5v0.5h-1.5zM148 92.5h1.5v0.5h-1.5zM160 92.5h1.5v0.5h-1.5zM162 92.5h1.5v0.5h-1.5zM165 92.5h1.5v0.5h-1.5zM169.5 92.5h1.5v0.5h-1.5zM172.5 92.5h2v0.5h-2zM176.5 92.5h1.5v0.5h-1.5zM179 92.5h4.5v0.5h-4.5zM185 92.5h7v0.5h-7zM135.5 93h1.5v0.5h-1.5zM140 93h1.5v0.5h-1.5zM143 93h1.5v0.5h-1.5zM148 93h1.5v0.5h-1.5zM160 93h2.5v0.5h-2.5zM163 93h1.5v0.5h-1.5zM165 93h1.5v0.5h-1.5zM169.5 93h1.5v0.5h-1.5zM173 93h3v0.5h-3zM176.5 93h1.5v0.5h-1.5zM179 93h4v0.5h-4zM183.5 93h8.5v0.5h-8.5zM135.5 93.5h1.5v0.5h-1.5zM138 93.5h3.5v0.5h-3.5zM143 93.5h2v0.5h-2zM146 93.5h1.5v0.5h-1.5zM160 93.5h2.5v0.5h-2.5zM163 93.5h1.5v0.5h-1.5zM165 93.5h1.5v0.5h-1.5zM168 93.5h3v0.5h-3zM174.5 93.5h3.5v0.5h-3.5zM180.5 93.5h1.5v0.5h-1.5zM183.5 93.5h8.5v0.5h-8.5zM135.5 94h1.5v0.5h-1.5zM138 94h2.5v0.5h-2.5zM143 94h2v0.5h-2zM146 94h1.5v0.5h-1.5zM148 94h1.5v0.5h-1.5zM161 94h1.5v0.5h-1.5zM163 94h3v0.5h-3zM166.5 94h3v0.5h-3zM172.5 94h6v0.5h-6zM179.5 94h11.5v0.5h-11.5zM138 94.5h2.5v0.5h-2.5zM143.5 94.5h1.5v0.5h-1.5zM146 94.5h1.5v0.5h-1.5zM148 94.5h1.5v0.5h-1.5zM156 94.5h1.5v0.5h-1.5zM164.5 94.5h1.5v0.5h-1.5zM166.5 94.5h3v0.5h-3zM171.5 94.5h4v0.5h-4zM176 94.5h2.5v0.5h-2.5zM179.5 94.5h6v0.5h-6zM186 94.5h5v0.5h-5zM138 95h2.5v0.5h-2.5zM141.5 95h1.5v0.5h-1.5zM148 95h1.5v0.5h-1.5zM152 95h1.5v0.5h-1.5zM156 95h1.5v0.5h-1.5zM164.5 95h1.5v0.5h-1.5zM166.5 95h2v0.5h-2zM171 95h4.5v0.5h-4.5zM177 95h1.5v0.5h-1.5zM179.5 95h10.5v0.5h-10.5zM135.5 95.5h1.5v0.5h-1.5zM138 95.5h1.5v0.5h-1.5zM141.5 95.5h1.5v0.5h-1.5zM145 95.5h1.5v0.5h-1.5zM152 95.5h1.5v0.5h-1.5zM156 95.5h1.5v0.5h-1.5zM164.5 95.5h1.5v0.5h-1.5zM167 95.5h1.5v0.5h-1.5zM169 95.5h1.5v0.5h-1.5zM171 95.5h6v0.5h-6zM179.5 95.5h8v0.5h-8zM116.5 96h1.5v0.5h-1.5zM135.5 96h1.5v0.5h-1.5zM141.5 96h1.5v0.5h-1.5zM145 96h1.5v0.5h-1.5zM152 96h1.5v0.5h-1.5zM164.5 96h3v0.5h-3zM169 96h3.5v0.5h-3.5zM173 96h6v0.5h-6zM180 96h4v0.5h-4zM184.5 96h3v0.5h-3zM116.5 96.5h1.5v0.5h-1.5zM130.5 96.5h1.5v0.5h-1.5zM135.5 96.5h1.5v0.5h-1.5zM139 96.5h1.5v0.5h-1.5zM145 96.5h3v0.5h-3zM153 96.5h1.5v0.5h-1.5zM165 96.5h6.5v0.5h-6.5zM172 96.5h15.5v0.5h-15.5zM109 97h1.5v0.5h-1.5zM116.5 97h1.5v0.5h-1.5zM130.5 97h1.5v0.5h-1.5zM139 97h1.5v0.5h-1.5zM141 97h1.5v0.5h-1.5zM146.5 97h1.5v0.5h-1.5zM151.5 97h3v0.5h-3zM156.5 97h1.5v0.5h-1.5zM165 97h21v0.5h-21zM109 97.5h1.5v0.5h-1.5zM124.5 97.5h1.5v0.5h-1.5zM130.5 97.5h1.5v0.5h-1.5zM139 97.5h1.5v0.5h-1.5zM141 97.5h2v0.5h-2zM146.5 97.5h1.5v0.5h-1.5zM151 97.5h3.5v0.5h-3.5zM156.5 97.5h1.5v0.5h-1.5zM159 97.5h2.5v0.5h-2.5zM164.5 97.5h2.5v0.5h-2.5zM167.5 97.5h2v0.5h-2zM171.5 97.5h14.5v0.5h-14.5zM109 98h1.5v0.5h-1.5zM124.5 98h1.5v0.5h-1.5zM140 98h3v0.5h-3zM151 98h3v0.5h-3zM156.5 98h1.5v0.5h-1.5zM159 98h8v0.5h-8zM168 98h1.5v0.5h-1.5zM171.5 98h13.5v0.5h-13.5zM124.5 98.5h1.5v0.5h-1.5zM140 98.5h3v0.5h-3zM150 98.5h5.5v0.5h-5.5zM159 98.5h8v0.5h-8zM168 98.5h1.5v0.5h-1.5zM170 98.5h14v0.5h-14zM130 99h1.5v0.5h-1.5zM140 99h1.5v0.5h-1.5zM149.5 99h3.5v0.5h-3.5zM154 99h1.5v0.5h-1.5zM159 99h8v0.5h-8zM168 99h1.5v0.5h-1.5zM170 99h14v0.5h-14zM130 99.5h1.5v0.5h-1.5zM146.5 99.5h1.5v0.5h-1.5zM149.5 99.5h3v0.5h-3zM154 99.5h3v0.5h-3zM159 99.5h6.5v0.5h-6.5zM168 99.5h1.5v0.5h-1.5zM170 99.5h1.5v0.5h-1.5zM172 99.5h10.5v0.5h-10.5zM130 100h1.5v0.5h-1.5zM139.5 100h2.5v0.5h-2.5zM143 100h2v0.5h-2zM146.5 100h1.5v0.5h-1.5zM149.5 100h5.5v0.5h-5.5zM155.5 100h2v0.5h-2zM159 100h1.5v0.5h-1.5zM161 100h4.5v0.5h-4.5zM169.5 100h4v0.5h-4zM174 100h8.5v0.5h-8.5zM127.5 100.5h1.5v0.5h-1.5zM139.5 100.5h2.5v0.5h-2.5zM143 100.5h2v0.5h-2zM146.5 100.5h1.5v0.5h-1.5zM151 100.5h6.5v0.5h-6.5zM159 100.5h1.5v0.5h-1.5zM162.5 100.5h2.5v0.5h-2.5zM169.5 100.5h11.5v0.5h-11.5zM127.5 101h1.5v0.5h-1.5zM139.5 101h6v0.5h-6zM151.5 101h9.5v0.5h-9.5zM162 101h3v0.5h-3zM167.5 101h1.5v0.5h-1.5zM169.5 101h10.5v0.5h-10.5zM127.5 101.5h1.5v0.5h-1.5zM140 101.5h3.5v0.5h-3.5zM144 101.5h1.5v0.5h-1.5zM151.5 101.5h7.5v0.5h-7.5zM159.5 101.5h2v0.5h-2zM162 101.5h2.5v0.5h-2.5zM167.5 101.5h12.5v0.5h-12.5zM126 102h1.5v0.5h-1.5zM140.5 102h3v0.5h-3zM144 102h1.5v0.5h-1.5zM151.5 102h3v0.5h-3zM155.5 102h3.5v0.5h-3.5zM159.5 102h2v0.5h-2zM162 102h4v0.5h-4zM167.5 102h11v0.5h-11zM108 102.5h1.5v0.5h-1.5zM126 102.5h1.5v0.5h-1.5zM137 102.5h1.5v0.5h-1.5zM140 102.5h2.5v0.5h-2.5zM145 102.5h1.5v0.5h-1.5zM151 102.5h1.5v0.5h-1.5zM153 102.5h8.5v0.5h-8.5zM162 102.5h16.5v0.5h-16.5zM108 103h1.5v0.5h-1.5zM126 103h2.5v0.5h-2.5zM136 103h2.5v0.5h-2.5zM140 103h1.5v0.5h-1.5zM143.5 103h3v0.5h-3zM147 103h1.5v0.5h-1.5zM149.5 103h3v0.5h-3zM153 103h3v0.5h-3zM157 103h4.5v0.5h-4.5zM162 103h16v0.5h-16zM108 103.5h1.5v0.5h-1.5zM114 103.5h1.5v0.5h-1.5zM124.5 103.5h1.5v0.5h-1.5zM127 103.5h1.5v0.5h-1.5zM136 103.5h2.5v0.5h-2.5zM140 103.5h1.5v0.5h-1.5zM143.5 103.5h3v0.5h-3zM147 103.5h1.5v0.5h-1.5zM149 103.5h7v0.5h-7zM158 103.5h13v0.5h-13zM171.5 103.5h6v0.5h-6zM114 104h1.5v0.5h-1.5zM124.5 104h1.5v0.5h-1.5zM126.5 104h2v0.5h-2zM136 104h5.5v0.5h-5.5zM143.5 104h1.5v0.5h-1.5zM147 104h1.5v0.5h-1.5zM149 104h7v0.5h-7zM157 104h3.5v0.5h-3.5zM161 104h15v0.5h-15zM112 104.5h1.5v0.5h-1.5zM114 104.5h1.5v0.5h-1.5zM124.5 104.5h1.5v0.5h-1.5zM126.5 104.5h1.5v0.5h-1.5zM130 104.5h1.5v0.5h-1.5zM132.5 104.5h1.5v0.5h-1.5zM137 104.5h4.5v0.5h-4.5zM149 104.5h6.5v0.5h-6.5zM157 104.5h18.5v0.5h-18.5zM106 105h1.5v0.5h-1.5zM112 105h1.5v0.5h-1.5zM126.5 105h1.5v0.5h-1.5zM130 105h1.5v0.5h-1.5zM132.5 105h1.5v0.5h-1.5zM138 105h3.5v0.5h-3.5zM142 105h3v0.5h-3zM148.5 105h7v0.5h-7zM157 105h4.5v0.5h-4.5zM162 105h13.5v0.5h-13.5zM106 105.5h1.5v0.5h-1.5zM112 105.5h1.5v0.5h-1.5zM120 105.5h2.5v0.5h-2.5zM125 105.5h1.5v0.5h-1.5zM130 105.5h1.5v0.5h-1.5zM132.5 105.5h1.5v0.5h-1.5zM138 105.5h7v0.5h-7zM146 105.5h1.5v0.5h-1.5zM148.5 105.5h1.5v0.5h-1.5zM150.5 105.5h5v0.5h-5zM157 105.5h4.5v0.5h-4.5zM162 105.5h12v0.5h-12zM106 106h1.5v0.5h-1.5zM120 106h2.5v0.5h-2.5zM125 106h1.5v0.5h-1.5zM139 106h8.5v0.5h-8.5zM148.5 106h6.5v0.5h-6.5zM155.5 106h16v0.5h-16zM106 106.5h1.5v0.5h-1.5zM108 106.5h1.5v0.5h-1.5zM112.5 106.5h1.5v0.5h-1.5zM120 106.5h2.5v0.5h-2.5zM125 106.5h1.5v0.5h-1.5zM128.5 106.5h2v0.5h-2zM136 106.5h2v0.5h-2zM139 106.5h3v0.5h-3zM142.5 106.5h5v0.5h-5zM149 106.5h4v0.5h-4zM153.5 106.5h18v0.5h-18zM106 107h1.5v0.5h-1.5zM108 107h1.5v0.5h-1.5zM112.5 107h1.5v0.5h-1.5zM120 107h1.5v0.5h-1.5zM128.5 107h2v0.5h-2zM136 107h2v0.5h-2zM139.5 107h2.5v0.5h-2.5zM143 107h4.5v0.5h-4.5zM148 107h5v0.5h-5zM153.5 107h7v0.5h-7zM161 107h9.5v0.5h-9.5zM108 107.5h1.5v0.5h-1.5zM112.5 107.5h1.5v0.5h-1.5zM119.5 107.5h1.5v0.5h-1.5zM128.5 107.5h2v0.5h-2zM136 107.5h2v0.5h-2zM139.5 107.5h2.5v0.5h-2.5zM144 107.5h6.5v0.5h-6.5zM151 107.5h2v0.5h-2zM153.5 107.5h7v0.5h-7zM161 107.5h9.5v0.5h-9.5zM108 108h1.5v0.5h-1.5zM114.5 108h1.5v0.5h-1.5zM116.5 108h1.5v0.5h-1.5zM119.5 108h1.5v0.5h-1.5zM126 108h1.5v0.5h-1.5zM128.5 108h1.5v0.5h-1.5zM135 108h1.5v0.5h-1.5zM138.5 108h4.5v0.5h-4.5zM143.5 108h6.5v0.5h-6.5zM151 108h1.5v0.5h-1.5zM153.5 108h6.5v0.5h-6.5zM161 108h9v0.5h-9zM108 108.5h1.5v0.5h-1.5zM114.5 108.5h1.5v0.5h-1.5zM116.5 108.5h1.5v0.5h-1.5zM119.5 108.5h1.5v0.5h-1.5zM121.5 108.5h1.5v0.5h-1.5zM124.5 108.5h3.5v0.5h-3.5zM128.5 108.5h1.5v0.5h-1.5zM132 108.5h1.5v0.5h-1.5zM135 108.5h2.5v0.5h-2.5zM138.5 108.5h1.5v0.5h-1.5zM140.5 108.5h9.5v0.5h-9.5zM152.5 108.5h1.5v0.5h-1.5zM155 108.5h15v0.5h-15zM114.5 109h1.5v0.5h-1.5zM116.5 109h1.5v0.5h-1.5zM118.5 109h1.5v0.5h-1.5zM121.5 109h1.5v0.5h-1.5zM124.5 109h3.5v0.5h-3.5zM128.5 109h1.5v0.5h-1.5zM132 109h1.5v0.5h-1.5zM135 109h2.5v0.5h-2.5zM138.5 109h1.5v0.5h-1.5zM141.5 109h10v0.5h-10zM152.5 109h2v0.5h-2zM155 109h14v0.5h-14zM118 109.5h2.5v0.5h-2.5zM121.5 109.5h1.5v0.5h-1.5zM124.5 109.5h1.5v0.5h-1.5zM126.5 109.5h1.5v0.5h-1.5zM130 109.5h1.5v0.5h-1.5zM132 109.5h1.5v0.5h-1.5zM135 109.5h2.5v0.5h-2.5zM138.5 109.5h1.5v0.5h-1.5zM140.5 109.5h3.5v0.5h-3.5zM144.5 109.5h10v0.5h-10zM155 109.5h12.5v0.5h-12.5zM108 110h1.5v0.5h-1.5zM115 110h1.5v0.5h-1.5zM118 110h2.5v0.5h-2.5zM124.5 110h2.5v0.5h-2.5zM130 110h1.5v0.5h-1.5zM132 110h5.5v0.5h-5.5zM138.5 110h1.5v0.5h-1.5zM140.5 110h3.5v0.5h-3.5zM144.5 110h23v0.5h-23zM108 110.5h1.5v0.5h-1.5zM115 110.5h1.5v0.5h-1.5zM118 110.5h2.5v0.5h-2.5zM124 110.5h3v0.5h-3zM130 110.5h1.5v0.5h-1.5zM132 110.5h7v0.5h-7zM140.5 110.5h9.5v0.5h-9.5zM150.5 110.5h16v0.5h-16zM99.5 111h1.5v0.5h-1.5zM108 111h1.5v0.5h-1.5zM115 111h1.5v0.5h-1.5zM119 111h1.5v0.5h-1.5zM123.5 111h6.5v0.5h-6.5zM132.5 111h6.5v0.5h-6.5zM139.5 111h3v0.5h-3zM143.5 111h22v0.5h-22zM99.5 111.5h1.5v0.5h-1.5zM111 111.5h1.5v0.5h-1.5zM119 111.5h1.5v0.5h-1.5zM123.5 111.5h2v0.5h-2zM127 111.5h3.5v0.5h-3.5zM132.5 111.5h1.5v0.5h-1.5zM135 111.5h7.5v0.5h-7.5zM143 111.5h22.5v0.5h-22.5zM99.5 112h2v0.5h-2zM111 112h1.5v0.5h-1.5zM123.5 112h1.5v0.5h-1.5zM127 112h3.5v0.5h-3.5zM132.5 112h2v0.5h-2zM136 112h6.5v0.5h-6.5zM143 112h5.5v0.5h-5.5zM149 112h15.5v0.5h-15.5zM100 112.5h3v0.5h-3zM111 112.5h1.5v0.5h-1.5zM117.5 112.5h2.5v0.5h-2.5zM121.5 112.5h3v0.5h-3zM126.5 112.5h4.5v0.5h-4.5zM132.5 112.5h2v0.5h-2zM135.5 112.5h7v0.5h-7zM143 112.5h5.5v0.5h-5.5zM149.5 112.5h14.5v0.5h-14.5zM100 113h3v0.5h-3zM107 113h1.5v0.5h-1.5zM117.5 113h7v0.5h-7zM126.5 113h5v0.5h-5zM132.5 113h2v0.5h-2zM135.5 113h3.5v0.5h-3.5zM140 113h2v0.5h-2zM144 113h4.5v0.5h-4.5zM149.5 113h13v0.5h-13zM101.5 113.5h1.5v0.5h-1.5zM107 113.5h1.5v0.5h-1.5zM113.5 113.5h1.5v0.5h-1.5zM117.5 113.5h8.5v0.5h-8.5zM126.5 113.5h2v0.5h-2zM129.5 113.5h2v0.5h-2zM133 113.5h1.5v0.5h-1.5zM135.5 113.5h2v0.5h-2zM138 113.5h10v0.5h-10zM149 113.5h13.5v0.5h-13.5zM107 114h1.5v0.5h-1.5zM113.5 114h1.5v0.5h-1.5zM120 114h1.5v0.5h-1.5zM122.5 114h1.5v0.5h-1.5zM124.5 114h1.5v0.5h-1.5zM127 114h1.5v0.5h-1.5zM130 114h1.5v0.5h-1.5zM133 114h1.5v0.5h-1.5zM137 114h24v0.5h-24zM104 114.5h1.5v0.5h-1.5zM113.5 114.5h1.5v0.5h-1.5zM117.5 114.5h1.5v0.5h-1.5zM124.5 114.5h1.5v0.5h-1.5zM127 114.5h3v0.5h-3zM134 114.5h1.5v0.5h-1.5zM136 114.5h25v0.5h-25zM97.5 115h1.5v0.5h-1.5zM101.5 115h1.5v0.5h-1.5zM104 115h1.5v0.5h-1.5zM117.5 115h1.5v0.5h-1.5zM125.5 115h5.5v0.5h-5.5zM133 115h26.5v0.5h-26.5zM97.5 115.5h1.5v0.5h-1.5zM101.5 115.5h1.5v0.5h-1.5zM104 115.5h1.5v0.5h-1.5zM117.5 115.5h1.5v0.5h-1.5zM120 115.5h1.5v0.5h-1.5zM122.5 115.5h2.5v0.5h-2.5zM125.5 115.5h5.5v0.5h-5.5zM133 115.5h11.5v0.5h-11.5zM145 115.5h14v0.5h-14zM97.5 116h1.5v0.5h-1.5zM101.5 116h1.5v0.5h-1.5zM120 116h1.5v0.5h-1.5zM122.5 116h2.5v0.5h-2.5zM125.5 116h2v0.5h-2zM129.5 116h2.5v0.5h-2.5zM132.5 116h3.5v0.5h-3.5zM136.5 116h22v0.5h-22zM99 116.5h1.5v0.5h-1.5zM107 116.5h1.5v0.5h-1.5zM109 116.5h1.5v0.5h-1.5zM115 116.5h1.5v0.5h-1.5zM118 116.5h3.5v0.5h-3.5zM122 116.5h3v0.5h-3zM125.5 116.5h2v0.5h-2zM128.5 116.5h3.5v0.5h-3.5zM132.5 116.5h24v0.5h-24zM99 117h1.5v0.5h-1.5zM107 117h1.5v0.5h-1.5zM109 117h1.5v0.5h-1.5zM114 117h2.5v0.5h-2.5zM118 117h3.5v0.5h-3.5zM122 117h5v0.5h-5zM128.5 117h3.5v0.5h-3.5zM132.5 117h7v0.5h-7zM140 117h4v0.5h-4zM144.5 117h12v0.5h-12zM99 117.5h1.5v0.5h-1.5zM107 117.5h1.5v0.5h-1.5zM109 117.5h1.5v0.5h-1.5zM114 117.5h2.5v0.5h-2.5zM118 117.5h3.5v0.5h-3.5zM122 117.5h2v0.5h-2zM125 117.5h1.5v0.5h-1.5zM128.5 117.5h2v0.5h-2zM131 117.5h1.5v0.5h-1.5zM133.5 117.5h3.5v0.5h-3.5zM137.5 117.5h18.5v0.5h-18.5zM106 118h1.5v0.5h-1.5zM114 118h2v0.5h-2zM116.5 118h1.5v0.5h-1.5zM119.5 118h2v0.5h-2zM125 118h1.5v0.5h-1.5zM128.5 118h4v0.5h-4zM133.5 118h3.5v0.5h-3.5zM137.5 118h17.5v0.5h-17.5zM106 118.5h1.5v0.5h-1.5zM112.5 118.5h1.5v0.5h-1.5zM114.5 118.5h7v0.5h-7zM123 118.5h1.5v0.5h-1.5zM127 118.5h10v0.5h-10zM138.5 118.5h2.5v0.5h-2.5zM142 118.5h12.5v0.5h-12.5zM106 119h1.5v0.5h-1.5zM109 119h2.5v0.5h-2.5zM112.5 119h1.5v0.5h-1.5zM115.5 119h9v0.5h-9zM126.5 119h2v0.5h-2zM129 119h8.5v0.5h-8.5zM138 119h3.5v0.5h-3.5zM142 119h11.5v0.5h-11.5zM105 119.5h2.5v0.5h-2.5zM109 119.5h2.5v0.5h-2.5zM112.5 119.5h1.5v0.5h-1.5zM115.5 119.5h1.5v0.5h-1.5zM117.5 119.5h3v0.5h-3zM121.5 119.5h3v0.5h-3zM126 119.5h11.5v0.5h-11.5zM138 119.5h4.5v0.5h-4.5zM143 119.5h9.5v0.5h-9.5zM105 120h3.5v0.5h-3.5zM109 120h2.5v0.5h-2.5zM116.5 120h1.5v0.5h-1.5zM118.5 120h4.5v0.5h-4.5zM126 120h25.5v0.5h-25.5zM93.5 120.5h3v0.5h-3zM104 120.5h2.5v0.5h-2.5zM107 120.5h1.5v0.5h-1.5zM109 120.5h3v0.5h-3zM116.5 120.5h5.5v0.5h-5.5zM123.5 120.5h1.5v0.5h-1.5zM126 120.5h4v0.5h-4zM131.5 120.5h19.5v0.5h-19.5zM93.5 121h3v0.5h-3zM104 121h1.5v0.5h-1.5zM107 121h1.5v0.5h-1.5zM109 121h5.5v0.5h-5.5zM116 121h6v0.5h-6zM123 121h2v0.5h-2zM126.5 121h4v0.5h-4zM131 121h20v0.5h-20zM93.5 121.5h3v0.5h-3zM104 121.5h3v0.5h-3zM108.5 121.5h6v0.5h-6zM115 121.5h7.5v0.5h-7.5zM123 121.5h7.5v0.5h-7.5zM131 121.5h19v0.5h-19zM101 122h1.5v0.5h-1.5zM103 122h1.5v0.5h-1.5zM105.5 122h1.5v0.5h-1.5zM108.5 122h6v0.5h-6zM115 122h12v0.5h-12zM127.5 122h22v0.5h-22zM97.5 122.5h1.5v0.5h-1.5zM101 122.5h1.5v0.5h-1.5zM103 122.5h1.5v0.5h-1.5zM105.5 122.5h1.5v0.5h-1.5zM108.5 122.5h5v0.5h-5zM114 122.5h13v0.5h-13zM127.5 122.5h20.5v0.5h-20.5zM97.5 123h1.5v0.5h-1.5zM101 123h1.5v0.5h-1.5zM103 123h1.5v0.5h-1.5zM109.5 123h4v0.5h-4zM114 123h1.5v0.5h-1.5zM116 123h3.5v0.5h-3.5zM120.5 123h3v0.5h-3zM124.5 123h2.5v0.5h-2.5zM127.5 123h20v0.5h-20zM97.5 123.5h1.5v0.5h-1.5zM108.5 123.5h2.5v0.5h-2.5zM111.5 123.5h4v0.5h-4zM116 123.5h2.5v0.5h-2.5zM119.5 123.5h4v0.5h-4zM124.5 123.5h2v0.5h-2zM127.5 123.5h19.5v0.5h-19.5zM100.5 124h1.5v0.5h-1.5zM108.5 124h7v0.5h-7zM116 124h2.5v0.5h-2.5zM119.5 124h4v0.5h-4zM125 124h2v0.5h-2zM127.5 124h18.5v0.5h-18.5zM99 124.5h3v0.5h-3zM105.5 124.5h2.5v0.5h-2.5zM108.5 124.5h1.5v0.5h-1.5zM111 124.5h4v0.5h-4zM116 124.5h2.5v0.5h-2.5zM119 124.5h8v0.5h-8zM127.5 124.5h18.5v0.5h-18.5zM95 125h1.5v0.5h-1.5zM99 125h3v0.5h-3zM105.5 125h2.5v0.5h-2.5zM108.5 125h4v0.5h-4zM113 125h1.5v0.5h-1.5zM116 125h5v0.5h-5zM121.5 125h3.5v0.5h-3.5zM125.5 125h19.5v0.5h-19.5zM95 125.5h1.5v0.5h-1.5zM99 125.5h1.5v0.5h-1.5zM102 125.5h1.5v0.5h-1.5zM105.5 125.5h2.5v0.5h-2.5zM108.5 125.5h6v0.5h-6zM116.5 125.5h28v0.5h-28zM95 126h1.5v0.5h-1.5zM102 126h2v0.5h-2zM106 126h2v0.5h-2zM108.5 126h34.5v0.5h-34.5zM102 126.5h2v0.5h-2zM106.5 126.5h1.5v0.5h-1.5zM108.5 126.5h2v0.5h-2zM112 126.5h5.5v0.5h-5.5zM118 126.5h24v0.5h-24zM92.5 127h1.5v0.5h-1.5zM102.5 127h1.5v0.5h-1.5zM106.5 127h3.5v0.5h-3.5zM112.5 127h5v0.5h-5zM118.5 127h23v0.5h-23zM92.5 127.5h1.5v0.5h-1.5zM101.5 127.5h1.5v0.5h-1.5zM103.5 127.5h1.5v0.5h-1.5zM106.5 127.5h2.5v0.5h-2.5zM111 127.5h3v0.5h-3zM114.5 127.5h26v0.5h-26zM92.5 128h1.5v0.5h-1.5zM101.5 128h1.5v0.5h-1.5zM103.5 128h2v0.5h-2zM107.5 128h2v0.5h-2zM110.5 128h10.5v0.5h-10.5zM122 128h18.5v0.5h-18.5zM97 128.5h1.5v0.5h-1.5zM101.5 128.5h5.5v0.5h-5.5zM108 128.5h31.5v0.5h-31.5zM97 129h1.5v0.5h-1.5zM100.5 129h1.5v0.5h-1.5zM102.5 129h4.5v0.5h-4.5zM108 129h30v0.5h-30zM97 129.5h1.5v0.5h-1.5zM100.5 129.5h6.5v0.5h-6.5zM107.5 129.5h30v0.5h-30zM94 130h1.5v0.5h-1.5zM97 130h9.5v0.5h-9.5zM107.5 130h30v0.5h-30zM94 130.5h1.5v0.5h-1.5zM97 130.5h3.5v0.5h-3.5zM101 130.5h5.5v0.5h-5.5zM107.5 130.5h29v0.5h-29zM94 131h9.5v0.5h-9.5zM104 131h2.5v0.5h-2.5zM109 131h26.5v0.5h-26.5zM95.5 131.5h1.5v0.5h-1.5zM97.5 131.5h1.5v0.5h-1.5zM99.5 131.5h7v0.5h-7zM108 131.5h7v0.5h-7zM115.5 131.5h19v0.5h-19zM95.5 132h11v0.5h-11zM107.5 132h7.5v0.5h-7.5zM115.5 132h5.5v0.5h-5.5zM121.5 132h12.5v0.5h-12.5zM96.5 132.5h37v0.5h-37zM95.5 133h37.5v0.5h-37.5zM95.5 133.5h1.5v0.5h-1.5zM98.5 133.5h33.5v0.5h-33.5zM95.5 134h2.5v0.5h-2.5zM100 134h3.5v0.5h-3.5zM105 134h26v0.5h-26zM96 134.5h2v0.5h-2zM100 134.5h3.5v0.5h-3.5zM104.5 134.5h26v0.5h-26zM96 135h2.5v0.5h-2.5zM100 135h3.5v0.5h-3.5zM104 135h3v0.5h-3zM108 135h21v0.5h-21zM96 135.5h2.5v0.5h-2.5zM99.5 135.5h4v0.5h-4zM104 135.5h25v0.5h-25zM95 136h6.5v0.5h-6.5zM102 136h26v0.5h-26zM94 136.5h19v0.5h-19zM113.5 136.5h13.5v0.5h-13.5zM90.5 137h1.5v0.5h-1.5zM94 137h15.5v0.5h-15.5zM110 137h16v0.5h-16zM90.5 137.5h1.5v0.5h-1.5zM94 137.5h1.5v0.5h-1.5zM96.5 137.5h3v0.5h-3zM100 137.5h25.5v0.5h-25.5zM90.5 138h3v0.5h-3zM96.5 138h28.5v0.5h-28.5zM92 138.5h1.5v0.5h-1.5zM95.5 138.5h28.5v0.5h-28.5zM92 139h1.5v0.5h-1.5zM95.5 139h4.5v0.5h-4.5zM100.5 139h23v0.5h-23zM95.5 139.5h3v0.5h-3zM99.5 139.5h23.5v0.5h-23.5zM94 140h1.5v0.5h-1.5zM96.5 140h25.5v0.5h-25.5zM94 140.5h27.5v0.5h-27.5zM94 141h26v0.5h-26zM92.5 141.5h27v0.5h-27zM92 142h5.5v0.5h-5.5zM98 142h20.5v0.5h-20.5zM92 142.5h3.5v0.5h-3.5zM96 142.5h21.5v0.5h-21.5zM92 143h25.5v0.5h-25.5zM89 143.5h1.5v0.5h-1.5zM93 143.5h23v0.5h-23zM89 144h1.5v0.5h-1.5zM91 144h24v0.5h-24zM89 144.5h1.5v0.5h-1.5zM91 144.5h24v0.5h-24zM91 145h23v0.5h-23zM92 145.5h20.5v0.5h-20.5zM92.5 146h20v0.5h-20zM90 146.5h1.5v0.5h-1.5zM92 146.5h4v0.5h-4zM96.5 146.5h15v0.5h-15zM90 147h1.5v0.5h-1.5zM92 147h4v0.5h-4zM96.5 147h14v0.5h-14zM90 147.5h1.5v0.5h-1.5zM92 147.5h2.5v0.5h-2.5zM96 147.5h14v0.5h-14zM88.5 148h5v0.5h-5zM94.5 148h14.5v0.5h-14.5zM88.5 148.5h5v0.5h-5zM94.5 148.5h14.5v0.5h-14.5zM88.5 149h19.5v0.5h-19.5zM89 149.5h3.5v0.5h-3.5zM93 149.5h14v0.5h-14zM89 150h3.5v0.5h-3.5zM93 150h13v0.5h-13zM89 150.5h16.5v0.5h-16.5zM89 151h15v0.5h-15zM89.5 151.5h14v0.5h-14zM89.5 152h13v0.5h-13zM89.5 152.5h12.5v0.5h-12.5zM88 153h1.5v0.5h-1.5zM90 153h11.5v0.5h-11.5zM88 153.5h1.5v0.5h-1.5zM90.5 153.5h10v0.5h-10zM87 154h12.5v0.5h-12.5zM87 154.5h12v0.5h-12zM85.5 155h13v0.5h-13zM85.5 155.5h11v0.5h-11zM85.5 156h10.5v0.5h-10.5zM84.5 156.5h1.5v0.5h-1.5zM86.5 156.5h9v0.5h-9zM84.5 157h10.5v0.5h-10.5zM84.5 157.5h9.5v0.5h-9.5zM84.5 158h9v0.5h-9zM84.5 158.5h8.5v0.5h-8.5zM84.5 159h7v0.5h-7zM84.5 159.5h7v0.5h-7zM85 160h5v0.5h-5zM84.5 160.5h4.5v0.5h-4.5zM84 161h5v0.5h-5zM84 161.5h4.5v0.5h-4.5zM84 162h3.5v0.5h-3.5zM84.5 162.5h1.5v0.5h-1.5z"/><path fill="#13438a" d="M287.5 53.5h1.5v0.5h-1.5zM287.5 54h1.5v0.5h-1.5zM287.5 54.5h1.5v0.5h-1.5zM287.5 55h1.5v0.5h-1.5zM287.5 55.5h1.5v0.5h-1.5zM287.5 56h1.5v0.5h-1.5zM275.5 56.5h1.5v0.5h-1.5zM285.5 56.5h1.5v0.5h-1.5zM287.5 56.5h1.5v0.5h-1.5zM275.5 57h1.5v0.5h-1.5zM285.5 57h1.5v0.5h-1.5zM287.5 57h1.5v0.5h-1.5zM274 57.5h3v0.5h-3zM285.5 57.5h1.5v0.5h-1.5zM287.5 57.5h1.5v0.5h-1.5zM274 58h1.5v0.5h-1.5zM277 58h1.5v0.5h-1.5zM274 58.5h1.5v0.5h-1.5zM277 58.5h1.5v0.5h-1.5zM272.5 59h1.5v0.5h-1.5zM277 59h1.5v0.5h-1.5zM272.5 59.5h1.5v0.5h-1.5zM272.5 60h1.5v0.5h-1.5zM280 60.5h1.5v0.5h-1.5zM280 61h1.5v0.5h-1.5zM277 61.5h2.5v0.5h-2.5zM280 61.5h1.5v0.5h-1.5zM268.5 62h1.5v0.5h-1.5zM271.5 62h1.5v0.5h-1.5zM277 62h2.5v0.5h-2.5zM268.5 62.5h1.5v0.5h-1.5zM271.5 62.5h1.5v0.5h-1.5zM274 62.5h1.5v0.5h-1.5zM277 62.5h2.5v0.5h-2.5zM268.5 63h1.5v0.5h-1.5zM271.5 63h1.5v0.5h-1.5zM274 63h1.5v0.5h-1.5zM284.5 63h1.5v0.5h-1.5zM274 63.5h1.5v0.5h-1.5zM284.5 63.5h1.5v0.5h-1.5zM284.5 64h1.5v0.5h-1.5zM273.5 65h1.5v0.5h-1.5zM273.5 65.5h1.5v0.5h-1.5zM273.5 66h1.5v0.5h-1.5zM277.5 66h1.5v0.5h-1.5zM265.5 66.5h1.5v0.5h-1.5zM277.5 66.5h1.5v0.5h-1.5zM265.5 67h1.5v0.5h-1.5zM269.5 67h1.5v0.5h-1.5zM273.5 67h1.5v0.5h-1.5zM277.5 67h1.5v0.5h-1.5zM265.5 67.5h1.5v0.5h-1.5zM269.5 67.5h1.5v0.5h-1.5zM273.5 67.5h1.5v0.5h-1.5zM266 68h1.5v0.5h-1.5zM269.5 68h3v0.5h-3zM273.5 68h1.5v0.5h-1.5zM266 68.5h1.5v0.5h-1.5zM270 68.5h2.5v0.5h-2.5zM266 69h1.5v0.5h-1.5zM270 69h2.5v0.5h-2.5zM257.5 69.5h1.5v0.5h-1.5zM270 69.5h1.5v0.5h-1.5zM257.5 70h1.5v0.5h-1.5zM283.5 70h1.5v0.5h-1.5zM257.5 70.5h1.5v0.5h-1.5zM283.5 70.5h1.5v0.5h-1.5zM257.5 71h1.5v0.5h-1.5zM263 71h1.5v0.5h-1.5zM283.5 71h1.5v0.5h-1.5zM259 71.5h1.5v0.5h-1.5zM263 71.5h1.5v0.5h-1.5zM270.5 71.5h1.5v0.5h-1.5zM253 72h3v0.5h-3zM259 72h1.5v0.5h-1.5zM263 72h1.5v0.5h-1.5zM270 72h2v0.5h-2zM274.5 72h1.5v0.5h-1.5zM253 72.5h3v0.5h-3zM259 72.5h1.5v0.5h-1.5zM270 72.5h2v0.5h-2zM274.5 72.5h1.5v0.5h-1.5zM253 73h3v0.5h-3zM257.5 73h2.5v0.5h-2.5zM270 73h1.5v0.5h-1.5zM274.5 73h1.5v0.5h-1.5zM257.5 73.5h2.5v0.5h-2.5zM265 73.5h1.5v0.5h-1.5zM257.5 74h2.5v0.5h-2.5zM265 74h1.5v0.5h-1.5zM284.5 74h1.5v0.5h-1.5zM265 74.5h1.5v0.5h-1.5zM267 74.5h1.5v0.5h-1.5zM284.5 74.5h1.5v0.5h-1.5zM253 75h1.5v0.5h-1.5zM261 75h1.5v0.5h-1.5zM267 75h1.5v0.5h-1.5zM284.5 75h1.5v0.5h-1.5zM251.5 75.5h5v0.5h-5zM261 75.5h1.5v0.5h-1.5zM267 75.5h1.5v0.5h-1.5zM272.5 75.5h1.5v0.5h-1.5zM244.5 76h1.5v0.5h-1.5zM246.5 76h2.5v0.5h-2.5zM251.5 76h5v0.5h-5zM261 76h1.5v0.5h-1.5zM272.5 76h1.5v0.5h-1.5zM244.5 76.5h1.5v0.5h-1.5zM246.5 76.5h2.5v0.5h-2.5zM249.5 76.5h1.5v0.5h-1.5zM251.5 76.5h2v0.5h-2zM254 76.5h2.5v0.5h-2.5zM272.5 76.5h1.5v0.5h-1.5zM244.5 77h7v0.5h-7zM243 77.5h4.5v0.5h-4.5zM248.5 77.5h3v0.5h-3zM259 77.5h1.5v0.5h-1.5zM243 78h8.5v0.5h-8.5zM255 78h1.5v0.5h-1.5zM259 78h1.5v0.5h-1.5zM277 78h1.5v0.5h-1.5zM243 78.5h7v0.5h-7zM255 78.5h1.5v0.5h-1.5zM259 78.5h1.5v0.5h-1.5zM272 78.5h1.5v0.5h-1.5zM277 78.5h1.5v0.5h-1.5zM243.5 79h2.5v0.5h-2.5zM247 79h3v0.5h-3zM251.5 79h1.5v0.5h-1.5zM255 79h1.5v0.5h-1.5zM272 79h1.5v0.5h-1.5zM274.5 79h1.5v0.5h-1.5zM277 79h1.5v0.5h-1.5zM243.5 79.5h3.5v0.5h-3.5zM248.5 79.5h1.5v0.5h-1.5zM251.5 79.5h1.5v0.5h-1.5zM255 79.5h1.5v0.5h-1.5zM272 79.5h1.5v0.5h-1.5zM274.5 79.5h1.5v0.5h-1.5zM243.5 80h3.5v0.5h-3.5zM248.5 80h1.5v0.5h-1.5zM251.5 80h1.5v0.5h-1.5zM255 80h1.5v0.5h-1.5zM274.5 80h1.5v0.5h-1.5zM239 80.5h1.5v0.5h-1.5zM242.5 80.5h7.5v0.5h-7.5zM255 80.5h1.5v0.5h-1.5zM257.5 80.5h1.5v0.5h-1.5zM239 81h2.5v0.5h-2.5zM242.5 81h4v0.5h-4zM247 81h1.5v0.5h-1.5zM257.5 81h1.5v0.5h-1.5zM237 81.5h1.5v0.5h-1.5zM239 81.5h2.5v0.5h-2.5zM242.5 81.5h2v0.5h-2zM245 81.5h1.5v0.5h-1.5zM247 81.5h1.5v0.5h-1.5zM257.5 81.5h1.5v0.5h-1.5zM237 82h4.5v0.5h-4.5zM242 82h5.5v0.5h-5.5zM250 82h1.5v0.5h-1.5zM261 82h1.5v0.5h-1.5zM278.5 82h1.5v0.5h-1.5zM237 82.5h4v0.5h-4zM242 82.5h3.5v0.5h-3.5zM246 82.5h1.5v0.5h-1.5zM250 82.5h3v0.5h-3zM261 82.5h1.5v0.5h-1.5zM278.5 82.5h1.5v0.5h-1.5zM234 83h3v0.5h-3zM237.5 83h4v0.5h-4zM242 83h5.5v0.5h-5.5zM250 83h3v0.5h-3zM261 83h1.5v0.5h-1.5zM278.5 83h1.5v0.5h-1.5zM234 83.5h5v0.5h-5zM240 83.5h1.5v0.5h-1.5zM242.5 83.5h1.5v0.5h-1.5zM245 83.5h2v0.5h-2zM251.5 83.5h1.5v0.5h-1.5zM263 83.5h1.5v0.5h-1.5zM233 84h8.5v0.5h-8.5zM242.5 84h1.5v0.5h-1.5zM245 84h2v0.5h-2zM263 84h1.5v0.5h-1.5zM233 84.5h11v0.5h-11zM245.5 84.5h1.5v0.5h-1.5zM263 84.5h1.5v0.5h-1.5zM231.5 85h12.5v0.5h-12.5zM245.5 85h1.5v0.5h-1.5zM253.5 85h1.5v0.5h-1.5zM264 85h1.5v0.5h-1.5zM275.5 85h1.5v0.5h-1.5zM231.5 85.5h7v0.5h-7zM239 85.5h3.5v0.5h-3.5zM245.5 85.5h1.5v0.5h-1.5zM248 85.5h1.5v0.5h-1.5zM250 85.5h1.5v0.5h-1.5zM253.5 85.5h1.5v0.5h-1.5zM259.5 85.5h1.5v0.5h-1.5zM264 85.5h1.5v0.5h-1.5zM275.5 85.5h1.5v0.5h-1.5zM278.5 85.5h1.5v0.5h-1.5zM230 86h5v0.5h-5zM235.5 86h5v0.5h-5zM245.5 86h1.5v0.5h-1.5zM248 86h1.5v0.5h-1.5zM250 86h1.5v0.5h-1.5zM253.5 86h1.5v0.5h-1.5zM259.5 86h1.5v0.5h-1.5zM264 86h1.5v0.5h-1.5zM275.5 86h1.5v0.5h-1.5zM278.5 86h1.5v0.5h-1.5zM230 86.5h3.5v0.5h-3.5zM235.5 86.5h5v0.5h-5zM242.5 86.5h1.5v0.5h-1.5zM245.5 86.5h1.5v0.5h-1.5zM248 86.5h1.5v0.5h-1.5zM250 86.5h1.5v0.5h-1.5zM259.5 86.5h1.5v0.5h-1.5zM278.5 86.5h1.5v0.5h-1.5zM230 87h3v0.5h-3zM235.5 87h5v0.5h-5zM242.5 87h2.5v0.5h-2.5zM250 87h1.5v0.5h-1.5zM282 87h1.5v0.5h-1.5zM229 87.5h3.5v0.5h-3.5zM234.5 87.5h5v0.5h-5zM242.5 87.5h2.5v0.5h-2.5zM250 87.5h1.5v0.5h-1.5zM265.5 87.5h1.5v0.5h-1.5zM282 87.5h1.5v0.5h-1.5zM226 88h8v0.5h-8zM234.5 88h2.5v0.5h-2.5zM240.5 88h1.5v0.5h-1.5zM243.5 88h1.5v0.5h-1.5zM251 88h1.5v0.5h-1.5zM265.5 88h1.5v0.5h-1.5zM269 88h1.5v0.5h-1.5zM282 88h1.5v0.5h-1.5zM226 88.5h8v0.5h-8zM234.5 88.5h4v0.5h-4zM240.5 88.5h1.5v0.5h-1.5zM245.5 88.5h1.5v0.5h-1.5zM251 88.5h1.5v0.5h-1.5zM265.5 88.5h2.5v0.5h-2.5zM269 88.5h1.5v0.5h-1.5zM226 89h8v0.5h-8zM235.5 89h3v0.5h-3zM240.5 89h1.5v0.5h-1.5zM245.5 89h1.5v0.5h-1.5zM251 89h1.5v0.5h-1.5zM266.5 89h1.5v0.5h-1.5zM269 89h1.5v0.5h-1.5zM225 89.5h8v0.5h-8zM235.5 89.5h4.5v0.5h-4.5zM245.5 89.5h3v0.5h-3zM266.5 89.5h1.5v0.5h-1.5zM223 90h10v0.5h-10zM235 90h3v0.5h-3zM238.5 90h1.5v0.5h-1.5zM245.5 90h3v0.5h-3zM251.5 90h1.5v0.5h-1.5zM258 90h3v0.5h-3zM223 90.5h10.5v0.5h-10.5zM235 90.5h3v0.5h-3zM238.5 90.5h1.5v0.5h-1.5zM245.5 90.5h3v0.5h-3zM251.5 90.5h1.5v0.5h-1.5zM258 90.5h3v0.5h-3zM223 91h4.5v0.5h-4.5zM228 91h5.5v0.5h-5.5zM234.5 91h5v0.5h-5zM251.5 91h1.5v0.5h-1.5zM258 91h3v0.5h-3zM221 91.5h1.5v0.5h-1.5zM223 91.5h2v0.5h-2zM226 91.5h1.5v0.5h-1.5zM229 91.5h4.5v0.5h-4.5zM234.5 91.5h1.5v0.5h-1.5zM238 91.5h2v0.5h-2zM241 91.5h1.5v0.5h-1.5zM243.5 91.5h1.5v0.5h-1.5zM246 91.5h1.5v0.5h-1.5zM266 91.5h1.5v0.5h-1.5zM221 92h4v0.5h-4zM225.5 92h2v0.5h-2zM228 92h8v0.5h-8zM237 92h5.5v0.5h-5.5zM243.5 92h1.5v0.5h-1.5zM246 92h1.5v0.5h-1.5zM260 92h1.5v0.5h-1.5zM266 92h1.5v0.5h-1.5zM269.5 92h1.5v0.5h-1.5zM221 92.5h6.5v0.5h-6.5zM228 92.5h1.5v0.5h-1.5zM230.5 92.5h12v0.5h-12zM243.5 92.5h1.5v0.5h-1.5zM246 92.5h1.5v0.5h-1.5zM260 92.5h1.5v0.5h-1.5zM266 92.5h1.5v0.5h-1.5zM269.5 92.5h1.5v0.5h-1.5zM218.5 93h2v0.5h-2zM221 93h6.5v0.5h-6.5zM228 93h2.5v0.5h-2.5zM232.5 93h6v0.5h-6zM239.5 93h1.5v0.5h-1.5zM244 93h1.5v0.5h-1.5zM260 93h1.5v0.5h-1.5zM269.5 93h1.5v0.5h-1.5zM218.5 93.5h7.5v0.5h-7.5zM227.5 93.5h3.5v0.5h-3.5zM235.5 93.5h4v0.5h-4zM244 93.5h1.5v0.5h-1.5zM217 94h9v0.5h-9zM227.5 94h5v0.5h-5zM236 94h3.5v0.5h-3.5zM244 94h1.5v0.5h-1.5zM217 94.5h6v0.5h-6zM224.5 94.5h1.5v0.5h-1.5zM227.5 94.5h1.5v0.5h-1.5zM229.5 94.5h3v0.5h-3zM235.5 94.5h2v0.5h-2zM238 94.5h1.5v0.5h-1.5zM242.5 94.5h1.5v0.5h-1.5zM217 95h6v0.5h-6zM224 95h2v0.5h-2zM227.5 95h1.5v0.5h-1.5zM230 95h2.5v0.5h-2.5zM235.5 95h2v0.5h-2zM242.5 95h1.5v0.5h-1.5zM265 95h1.5v0.5h-1.5zM279.5 95h1.5v0.5h-1.5zM214 95.5h1.5v0.5h-1.5zM216.5 95.5h9.5v0.5h-9.5zM230 95.5h1.5v0.5h-1.5zM235.5 95.5h1.5v0.5h-1.5zM242.5 95.5h1.5v0.5h-1.5zM265 95.5h1.5v0.5h-1.5zM279.5 95.5h1.5v0.5h-1.5zM214 96h1.5v0.5h-1.5zM216.5 96h1.5v0.5h-1.5zM219 96h6.5v0.5h-6.5zM226 96h1.5v0.5h-1.5zM228 96h1.5v0.5h-1.5zM230 96h1.5v0.5h-1.5zM235.5 96h3v0.5h-3zM241 96h1.5v0.5h-1.5zM249.5 96h1.5v0.5h-1.5zM265 96h1.5v0.5h-1.5zM279.5 96h1.5v0.5h-1.5zM214 96.5h1.5v0.5h-1.5zM216.5 96.5h1.5v0.5h-1.5zM219 96.5h13v0.5h-13zM235.5 96.5h3v0.5h-3zM240.5 96.5h2v0.5h-2zM249.5 96.5h1.5v0.5h-1.5zM211.5 97h3v0.5h-3zM215.5 97h1.5v0.5h-1.5zM218.5 97h2.5v0.5h-2.5zM221.5 97h11.5v0.5h-11.5zM235 97h3.5v0.5h-3.5zM240.5 97h2v0.5h-2zM249.5 97h1.5v0.5h-1.5zM211.5 97.5h3v0.5h-3zM215 97.5h3v0.5h-3zM218.5 97.5h9.5v0.5h-9.5zM229 97.5h4v0.5h-4zM235 97.5h1.5v0.5h-1.5zM237 97.5h1.5v0.5h-1.5zM240.5 97.5h1.5v0.5h-1.5zM211.5 98h3v0.5h-3zM215 98h11.5v0.5h-11.5zM228.5 98h1.5v0.5h-1.5zM231 98h2v0.5h-2zM235 98h1.5v0.5h-1.5zM237 98h1.5v0.5h-1.5zM239 98h3v0.5h-3zM246 98h1.5v0.5h-1.5zM210 98.5h4.5v0.5h-4.5zM215 98.5h11.5v0.5h-11.5zM228.5 98.5h1.5v0.5h-1.5zM230.5 98.5h2v0.5h-2zM239 98.5h1.5v0.5h-1.5zM243.5 98.5h1.5v0.5h-1.5zM246 98.5h1.5v0.5h-1.5zM209.5 99h5.5v0.5h-5.5zM216 99h4v0.5h-4zM221 99h1.5v0.5h-1.5zM224 99h2.5v0.5h-2.5zM228.5 99h1.5v0.5h-1.5zM230.5 99h2v0.5h-2zM239 99h1.5v0.5h-1.5zM243.5 99h1.5v0.5h-1.5zM246 99h1.5v0.5h-1.5zM209.5 99.5h5.5v0.5h-5.5zM218.5 99.5h1.5v0.5h-1.5zM221 99.5h2.5v0.5h-2.5zM225 99.5h1.5v0.5h-1.5zM230.5 99.5h2v0.5h-2zM235 99.5h1.5v0.5h-1.5zM239.5 99.5h1.5v0.5h-1.5zM243.5 99.5h1.5v0.5h-1.5zM247.5 99.5h1.5v0.5h-1.5zM207.5 100h3.5v0.5h-3.5zM212 100h3v0.5h-3zM221 100h2.5v0.5h-2.5zM230 100h2.5v0.5h-2.5zM235 100h1.5v0.5h-1.5zM239.5 100h1.5v0.5h-1.5zM247.5 100h1.5v0.5h-1.5zM207.5 100.5h3v0.5h-3zM212 100.5h3.5v0.5h-3.5zM219 100.5h4.5v0.5h-4.5zM225.5 100.5h1.5v0.5h-1.5zM230 100.5h2.5v0.5h-2.5zM233 100.5h1.5v0.5h-1.5zM235 100.5h1.5v0.5h-1.5zM239.5 100.5h1.5v0.5h-1.5zM247.5 100.5h1.5v0.5h-1.5zM207.5 101h3v0.5h-3zM212 101h3.5v0.5h-3.5zM217.5 101h6v0.5h-6zM225 101h2.5v0.5h-2.5zM228 101h3.5v0.5h-3.5zM233 101h1.5v0.5h-1.5zM274.5 101h1.5v0.5h-1.5zM278 101h1.5v0.5h-1.5zM204 101.5h2.5v0.5h-2.5zM207 101.5h1.5v0.5h-1.5zM210 101.5h1.5v0.5h-1.5zM212.5 101.5h3.5v0.5h-3.5zM217.5 101.5h6v0.5h-6zM225 101.5h2.5v0.5h-2.5zM228 101.5h4v0.5h-4zM233 101.5h1.5v0.5h-1.5zM274.5 101.5h1.5v0.5h-1.5zM278 101.5h1.5v0.5h-1.5zM204 102h12.5v0.5h-12.5zM217.5 102h1.5v0.5h-1.5zM220 102h3.5v0.5h-3.5zM225 102h7.5v0.5h-7.5zM234.5 102h1.5v0.5h-1.5zM237.5 102h1.5v0.5h-1.5zM262.5 102h1.5v0.5h-1.5zM274.5 102h1.5v0.5h-1.5zM278 102h1.5v0.5h-1.5zM204 102.5h12.5v0.5h-12.5zM220 102.5h3v0.5h-3zM224.5 102.5h1.5v0.5h-1.5zM226.5 102.5h6v0.5h-6zM233.5 102.5h2.5v0.5h-2.5zM237.5 102.5h1.5v0.5h-1.5zM262.5 102.5h1.5v0.5h-1.5zM202 103h12.5v0.5h-12.5zM215 103h1.5v0.5h-1.5zM219.5 103h3.5v0.5h-3.5zM224 103h2v0.5h-2zM226.5 103h3v0.5h-3zM230.5 103h2v0.5h-2zM233.5 103h2.5v0.5h-2.5zM237.5 103h1.5v0.5h-1.5zM262.5 103h1.5v0.5h-1.5zM201 103.5h8.5v0.5h-8.5zM210 103.5h4.5v0.5h-4.5zM219.5 103.5h1.5v0.5h-1.5zM221.5 103.5h1.5v0.5h-1.5zM224 103.5h2v0.5h-2zM228 103.5h1.5v0.5h-1.5zM230.5 103.5h1.5v0.5h-1.5zM233 103.5h3v0.5h-3zM256 103.5h1.5v0.5h-1.5zM274 103.5h1.5v0.5h-1.5zM200.5 104h4v0.5h-4zM205 104h4.5v0.5h-4.5zM211 104h2.5v0.5h-2.5zM219.5 104h1.5v0.5h-1.5zM224 104h1.5v0.5h-1.5zM230.5 104h5.5v0.5h-5.5zM256 104h1.5v0.5h-1.5zM274 104h1.5v0.5h-1.5zM200.5 104.5h4v0.5h-4zM205 104.5h1.5v0.5h-1.5zM207 104.5h2v0.5h-2zM211 104.5h8v0.5h-8zM224 104.5h1.5v0.5h-1.5zM232 104.5h4v0.5h-4zM256 104.5h1.5v0.5h-1.5zM274 104.5h1.5v0.5h-1.5zM199 105h7v0.5h-7zM207 105h12v0.5h-12zM223 105h1.5v0.5h-1.5zM225 105h1.5v0.5h-1.5zM230 105h1.5v0.5h-1.5zM232 105h2.5v0.5h-2.5zM198.5 105.5h7.5v0.5h-7.5zM207 105.5h12v0.5h-12zM223 105.5h1.5v0.5h-1.5zM225 105.5h1.5v0.5h-1.5zM230 105.5h1.5v0.5h-1.5zM233 105.5h1.5v0.5h-1.5zM197.5 106h8.5v0.5h-8.5zM207 106h9.5v0.5h-9.5zM217 106h1.5v0.5h-1.5zM223 106h1.5v0.5h-1.5zM225 106h1.5v0.5h-1.5zM230 106h1.5v0.5h-1.5zM233 106h1.5v0.5h-1.5zM238 106h1.5v0.5h-1.5zM197.5 106.5h9.5v0.5h-9.5zM208 106.5h1.5v0.5h-1.5zM210 106.5h1.5v0.5h-1.5zM213.5 106.5h5v0.5h-5zM220 106.5h4v0.5h-4zM226 106.5h2v0.5h-2zM231 106.5h1.5v0.5h-1.5zM238 106.5h1.5v0.5h-1.5zM196 107h7v0.5h-7zM203.5 107h1.5v0.5h-1.5zM205.5 107h1.5v0.5h-1.5zM209 107h2.5v0.5h-2.5zM215 107h3v0.5h-3zM220 107h4v0.5h-4zM226 107h2v0.5h-2zM231 107h1.5v0.5h-1.5zM238 107h1.5v0.5h-1.5zM252 107h1.5v0.5h-1.5zM194.5 107.5h3v0.5h-3zM198 107.5h5v0.5h-5zM203.5 107.5h1.5v0.5h-1.5zM205.5 107.5h1.5v0.5h-1.5zM209 107.5h2.5v0.5h-2.5zM212 107.5h1.5v0.5h-1.5zM215 107.5h4.5v0.5h-4.5zM220 107.5h4v0.5h-4zM226 107.5h2v0.5h-2zM230 107.5h2.5v0.5h-2.5zM252 107.5h1.5v0.5h-1.5zM194 108h3.5v0.5h-3.5zM198 108h5v0.5h-5zM203.5 108h1.5v0.5h-1.5zM209 108h2.5v0.5h-2.5zM212 108h1.5v0.5h-1.5zM215 108h4.5v0.5h-4.5zM220 108h3v0.5h-3zM230 108h1.5v0.5h-1.5zM252 108h1.5v0.5h-1.5zM194 108.5h9v0.5h-9zM203.5 108.5h2.5v0.5h-2.5zM208.5 108.5h3v0.5h-3zM212 108.5h1.5v0.5h-1.5zM215 108.5h8v0.5h-8zM230 108.5h1.5v0.5h-1.5zM193.5 109h2.5v0.5h-2.5zM197 109h9v0.5h-9zM208.5 109h3.5v0.5h-3.5zM215 109h1.5v0.5h-1.5zM218 109h5.5v0.5h-5.5zM249.5 109h2v0.5h-2zM193.5 109.5h12.5v0.5h-12.5zM206.5 109.5h1.5v0.5h-1.5zM208.5 109.5h3.5v0.5h-3.5zM219 109.5h4.5v0.5h-4.5zM224 109.5h1.5v0.5h-1.5zM227 109.5h1.5v0.5h-1.5zM249.5 109.5h2v0.5h-2zM190.5 110h1.5v0.5h-1.5zM192.5 110h13v0.5h-13zM206.5 110h1.5v0.5h-1.5zM210 110h2v0.5h-2zM214 110h1.5v0.5h-1.5zM219 110h1.5v0.5h-1.5zM222 110h1.5v0.5h-1.5zM224 110h1.5v0.5h-1.5zM227 110h3v0.5h-3zM231.5 110h1.5v0.5h-1.5zM249.5 110h2v0.5h-2zM190 110.5h2v0.5h-2zM192.5 110.5h10v0.5h-10zM203.5 110.5h4.5v0.5h-4.5zM210 110.5h2v0.5h-2zM214 110.5h1.5v0.5h-1.5zM216.5 110.5h2v0.5h-2zM219 110.5h4.5v0.5h-4.5zM224 110.5h1.5v0.5h-1.5zM227 110.5h3v0.5h-3zM231.5 110.5h1.5v0.5h-1.5zM189 111h11.5v0.5h-11.5zM201 111h1.5v0.5h-1.5zM205.5 111h1.5v0.5h-1.5zM210.5 111h1.5v0.5h-1.5zM214 111h1.5v0.5h-1.5zM216 111h2.5v0.5h-2.5zM219 111h4.5v0.5h-4.5zM227.5 111h2.5v0.5h-2.5zM231.5 111h1.5v0.5h-1.5zM189 111.5h5.5v0.5h-5.5zM195 111.5h5.5v0.5h-5.5zM201 111.5h1.5v0.5h-1.5zM205.5 111.5h1.5v0.5h-1.5zM210.5 111.5h1.5v0.5h-1.5zM216 111.5h7.5v0.5h-7.5zM227.5 111.5h1.5v0.5h-1.5zM189 112h5.5v0.5h-5.5zM195 112h2v0.5h-2zM198 112h2.5v0.5h-2.5zM201 112h1.5v0.5h-1.5zM207.5 112h1.5v0.5h-1.5zM216 112h3.5v0.5h-3.5zM220 112h1.5v0.5h-1.5zM227.5 112h3v0.5h-3zM234.5 112h1.5v0.5h-1.5zM187 112.5h1.5v0.5h-1.5zM189 112.5h2.5v0.5h-2.5zM193 112.5h9.5v0.5h-9.5zM204.5 112.5h2.5v0.5h-2.5zM207.5 112.5h1.5v0.5h-1.5zM212.5 112.5h1.5v0.5h-1.5zM218 112.5h3.5v0.5h-3.5zM229 112.5h1.5v0.5h-1.5zM234.5 112.5h1.5v0.5h-1.5zM187 113h4.5v0.5h-4.5zM193 113h6.5v0.5h-6.5zM200 113h1.5v0.5h-1.5zM203.5 113h3.5v0.5h-3.5zM207.5 113h3v0.5h-3zM212.5 113h1.5v0.5h-1.5zM215.5 113h1.5v0.5h-1.5zM219.5 113h2v0.5h-2zM229 113h1.5v0.5h-1.5zM234.5 113h1.5v0.5h-1.5zM186 113.5h5.5v0.5h-5.5zM192.5 113.5h7v0.5h-7zM200 113.5h1.5v0.5h-1.5zM203.5 113.5h3.5v0.5h-3.5zM207.5 113.5h4v0.5h-4zM212.5 113.5h1.5v0.5h-1.5zM215.5 113.5h1.5v0.5h-1.5zM219.5 113.5h3v0.5h-3zM223.5 113.5h1.5v0.5h-1.5zM240 113.5h1.5v0.5h-1.5zM184.5 114h7v0.5h-7zM192.5 114h4v0.5h-4zM197 114h2.5v0.5h-2.5zM200 114h1.5v0.5h-1.5zM202 114h5v0.5h-5zM207.5 114h6.5v0.5h-6.5zM215.5 114h1.5v0.5h-1.5zM221 114h1.5v0.5h-1.5zM223.5 114h1.5v0.5h-1.5zM240 114h1.5v0.5h-1.5zM184.5 114.5h7v0.5h-7zM192.5 114.5h7v0.5h-7zM200 114.5h7v0.5h-7zM208 114.5h6v0.5h-6zM221 114.5h1.5v0.5h-1.5zM223.5 114.5h1.5v0.5h-1.5zM230 114.5h1.5v0.5h-1.5zM240 114.5h1.5v0.5h-1.5zM183 115h8.5v0.5h-8.5zM193 115h5.5v0.5h-5.5zM200 115h14v0.5h-14zM223.5 115h1.5v0.5h-1.5zM230 115h2.5v0.5h-2.5zM182.5 115.5h6.5v0.5h-6.5zM193 115.5h6v0.5h-6zM200.5 115.5h4.5v0.5h-4.5zM206.5 115.5h5v0.5h-5zM221.5 115.5h3.5v0.5h-3.5zM230 115.5h2.5v0.5h-2.5zM181 116h8v0.5h-8zM193 116h6v0.5h-6zM200.5 116h3v0.5h-3zM206.5 116h1.5v0.5h-1.5zM221.5 116h3.5v0.5h-3.5zM231 116h1.5v0.5h-1.5zM180.5 116.5h9.5v0.5h-9.5zM190.5 116.5h1.5v0.5h-1.5zM192.5 116.5h6.5v0.5h-6.5zM200.5 116.5h3v0.5h-3zM206.5 116.5h1.5v0.5h-1.5zM213.5 116.5h2v0.5h-2zM221.5 116.5h2v0.5h-2zM236 116.5h1.5v0.5h-1.5zM180.5 117h18v0.5h-18zM200.5 117h1.5v0.5h-1.5zM204 117h5.5v0.5h-5.5zM213.5 117h2v0.5h-2zM221.5 117h1.5v0.5h-1.5zM226 117h1.5v0.5h-1.5zM236 117h1.5v0.5h-1.5zM180.5 117.5h18v0.5h-18zM199 117.5h4.5v0.5h-4.5zM204 117.5h5.5v0.5h-5.5zM213.5 117.5h2v0.5h-2zM216.5 117.5h1.5v0.5h-1.5zM221.5 117.5h1.5v0.5h-1.5zM226 117.5h1.5v0.5h-1.5zM236 117.5h1.5v0.5h-1.5zM180.5 118h13v0.5h-13zM195 118h2.5v0.5h-2.5zM198.5 118h8.5v0.5h-8.5zM208 118h1.5v0.5h-1.5zM211.5 118h3v0.5h-3zM216.5 118h1.5v0.5h-1.5zM226 118h1.5v0.5h-1.5zM177.5 118.5h10.5v0.5h-10.5zM189 118.5h4.5v0.5h-4.5zM195 118.5h3v0.5h-3zM198.5 118.5h2v0.5h-2zM202 118.5h6v0.5h-6zM211.5 118.5h3v0.5h-3zM216.5 118.5h1.5v0.5h-1.5zM176.5 119h11.5v0.5h-11.5zM189 119h2v0.5h-2zM192 119h3.5v0.5h-3.5zM196 119h2v0.5h-2zM198.5 119h1.5v0.5h-1.5zM202.5 119h5.5v0.5h-5.5zM210 119h4.5v0.5h-4.5zM217.5 119h1.5v0.5h-1.5zM221.5 119h1.5v0.5h-1.5zM176.5 119.5h11.5v0.5h-11.5zM189 119.5h1.5v0.5h-1.5zM192 119.5h3.5v0.5h-3.5zM196 119.5h2v0.5h-2zM202 119.5h6v0.5h-6zM210 119.5h1.5v0.5h-1.5zM213 119.5h1.5v0.5h-1.5zM215 119.5h1.5v0.5h-1.5zM217.5 119.5h1.5v0.5h-1.5zM221.5 119.5h1.5v0.5h-1.5zM224 119.5h1.5v0.5h-1.5zM174.5 120h1.5v0.5h-1.5zM176.5 120h6v0.5h-6zM183 120h1.5v0.5h-1.5zM189 120h2.5v0.5h-2.5zM192 120h3.5v0.5h-3.5zM202 120h2.5v0.5h-2.5zM205 120h1.5v0.5h-1.5zM210 120h1.5v0.5h-1.5zM213 120h1.5v0.5h-1.5zM215 120h1.5v0.5h-1.5zM217.5 120h1.5v0.5h-1.5zM221.5 120h1.5v0.5h-1.5zM224 120h1.5v0.5h-1.5zM174.5 120.5h1.5v0.5h-1.5zM176.5 120.5h6v0.5h-6zM183 120.5h1.5v0.5h-1.5zM190 120.5h5.5v0.5h-5.5zM199.5 120.5h1.5v0.5h-1.5zM202 120.5h2.5v0.5h-2.5zM205 120.5h1.5v0.5h-1.5zM210 120.5h1.5v0.5h-1.5zM215 120.5h1.5v0.5h-1.5zM220.5 120.5h1.5v0.5h-1.5zM223.5 120.5h2v0.5h-2zM174 121h2v0.5h-2zM176.5 121h2.5v0.5h-2.5zM179.5 121h3v0.5h-3zM184 121h2v0.5h-2zM187 121h6.5v0.5h-6.5zM194 121h3v0.5h-3zM199.5 121h1.5v0.5h-1.5zM201.5 121h1.5v0.5h-1.5zM205 121h1.5v0.5h-1.5zM209 121h1.5v0.5h-1.5zM220.5 121h1.5v0.5h-1.5zM223.5 121h1.5v0.5h-1.5zM231 121h1.5v0.5h-1.5zM172 121.5h4v0.5h-4zM176.5 121.5h6.5v0.5h-6.5zM183.5 121.5h2.5v0.5h-2.5zM187 121.5h3v0.5h-3zM190.5 121.5h6.5v0.5h-6.5zM197.5 121.5h1.5v0.5h-1.5zM199.5 121.5h1.5v0.5h-1.5zM201.5 121.5h1.5v0.5h-1.5zM209 121.5h2v0.5h-2zM218 121.5h1.5v0.5h-1.5zM220.5 121.5h1.5v0.5h-1.5zM223.5 121.5h1.5v0.5h-1.5zM231 121.5h1.5v0.5h-1.5zM172 122h11v0.5h-11zM183.5 122h6.5v0.5h-6.5zM191.5 122h7.5v0.5h-7.5zM201.5 122h1.5v0.5h-1.5zM209 122h2v0.5h-2zM218 122h3v0.5h-3zM223.5 122h1.5v0.5h-1.5zM231 122h1.5v0.5h-1.5zM170.5 122.5h12.5v0.5h-12.5zM183.5 122.5h1.5v0.5h-1.5zM185.5 122.5h4v0.5h-4zM191.5 122.5h4v0.5h-4zM196 122.5h3v0.5h-3zM200.5 122.5h2.5v0.5h-2.5zM209.5 122.5h1.5v0.5h-1.5zM218 122.5h3v0.5h-3zM223.5 122.5h1.5v0.5h-1.5zM170 123h13v0.5h-13zM183.5 123h1.5v0.5h-1.5zM185.5 123h4v0.5h-4zM192 123h3v0.5h-3zM195.5 123h3.5v0.5h-3.5zM200.5 123h2.5v0.5h-2.5zM219.5 123h1.5v0.5h-1.5zM224.5 123h1.5v0.5h-1.5zM170 123.5h10.5v0.5h-10.5zM181.5 123.5h3.5v0.5h-3.5zM186 123.5h3.5v0.5h-3.5zM192 123.5h3v0.5h-3zM195.5 123.5h3.5v0.5h-3.5zM200.5 123.5h2.5v0.5h-2.5zM213 123.5h1.5v0.5h-1.5zM224.5 123.5h1.5v0.5h-1.5zM170 124h7v0.5h-7zM178 124h2.5v0.5h-2.5zM182.5 124h2.5v0.5h-2.5zM186.5 124h1.5v0.5h-1.5zM189 124h2v0.5h-2zM193.5 124h1.5v0.5h-1.5zM195.5 124h1.5v0.5h-1.5zM197.5 124h1.5v0.5h-1.5zM213 124h1.5v0.5h-1.5zM224.5 124h1.5v0.5h-1.5zM166.5 124.5h3.5v0.5h-3.5zM171 124.5h6.5v0.5h-6.5zM178 124.5h3v0.5h-3zM182.5 124.5h2.5v0.5h-2.5zM189 124.5h4v0.5h-4zM206.5 124.5h1.5v0.5h-1.5zM211.5 124.5h3v0.5h-3zM166 125h11.5v0.5h-11.5zM178 125h3v0.5h-3zM183.5 125h4v0.5h-4zM188.5 125h5.5v0.5h-5.5zM195 125h1.5v0.5h-1.5zM197 125h1.5v0.5h-1.5zM206.5 125h1.5v0.5h-1.5zM211.5 125h1.5v0.5h-1.5zM165.5 125.5h12v0.5h-12zM178 125.5h3v0.5h-3zM183.5 125.5h13v0.5h-13zM197 125.5h2v0.5h-2zM206.5 125.5h2.5v0.5h-2.5zM211.5 125.5h1.5v0.5h-1.5zM221 125.5h1.5v0.5h-1.5zM223 125.5h1.5v0.5h-1.5zM165.5 126h18v0.5h-18zM184 126h7.5v0.5h-7.5zM192.5 126h6.5v0.5h-6.5zM206.5 126h2.5v0.5h-2.5zM221 126h1.5v0.5h-1.5zM223 126h1.5v0.5h-1.5zM164 126.5h19.5v0.5h-19.5zM184 126.5h4.5v0.5h-4.5zM189.5 126.5h2v0.5h-2zM194 126.5h3v0.5h-3zM197.5 126.5h2v0.5h-2zM202 126.5h1.5v0.5h-1.5zM206.5 126.5h2.5v0.5h-2.5zM221 126.5h1.5v0.5h-1.5zM223 126.5h1.5v0.5h-1.5zM164 127h27v0.5h-27zM195.5 127h1.5v0.5h-1.5zM198 127h3v0.5h-3zM202 127h1.5v0.5h-1.5zM163 127.5h12v0.5h-12zM176 127.5h2.5v0.5h-2.5zM179.5 127.5h5v0.5h-5zM186 127.5h5v0.5h-5zM198 127.5h3.5v0.5h-3.5zM202 127.5h1.5v0.5h-1.5zM205 127.5h1.5v0.5h-1.5zM163 128h9v0.5h-9zM172.5 128h4v0.5h-4zM178 128h4v0.5h-4zM182.5 128h7v0.5h-7zM199 128h2.5v0.5h-2.5zM202.5 128h1.5v0.5h-1.5zM205 128h1.5v0.5h-1.5zM161 128.5h10.5v0.5h-10.5zM172.5 128.5h1.5v0.5h-1.5zM175 128.5h1.5v0.5h-1.5zM178 128.5h3.5v0.5h-3.5zM183 128.5h3v0.5h-3zM194 128.5h1.5v0.5h-1.5zM198.5 128.5h3v0.5h-3zM202.5 128.5h1.5v0.5h-1.5zM205 128.5h1.5v0.5h-1.5zM212.5 128.5h1.5v0.5h-1.5zM217.5 128.5h1.5v0.5h-1.5zM160 129h11v0.5h-11zM172.5 129h1.5v0.5h-1.5zM175 129h1.5v0.5h-1.5zM178 129h3.5v0.5h-3.5zM183.5 129h3.5v0.5h-3.5zM189 129h1.5v0.5h-1.5zM194 129h1.5v0.5h-1.5zM198.5 129h2v0.5h-2zM202.5 129h1.5v0.5h-1.5zM206.5 129h1.5v0.5h-1.5zM212.5 129h1.5v0.5h-1.5zM217.5 129h1.5v0.5h-1.5zM159.5 129.5h5.5v0.5h-5.5zM165.5 129.5h3.5v0.5h-3.5zM169.5 129.5h1.5v0.5h-1.5zM172 129.5h1.5v0.5h-1.5zM175 129.5h1.5v0.5h-1.5zM177.5 129.5h4v0.5h-4zM183.5 129.5h1.5v0.5h-1.5zM185.5 129.5h2.5v0.5h-2.5zM189 129.5h2v0.5h-2zM194 129.5h1.5v0.5h-1.5zM198.5 129.5h2v0.5h-2zM206 129.5h2v0.5h-2zM210 129.5h1.5v0.5h-1.5zM212.5 129.5h1.5v0.5h-1.5zM215 129.5h1.5v0.5h-1.5zM217.5 129.5h1.5v0.5h-1.5zM158.5 130h12.5v0.5h-12.5zM171.5 130h2v0.5h-2zM175 130h1.5v0.5h-1.5zM177.5 130h3v0.5h-3zM185 130h3v0.5h-3zM189 130h2v0.5h-2zM199 130h1.5v0.5h-1.5zM206 130h2v0.5h-2zM210 130h1.5v0.5h-1.5zM213 130h1.5v0.5h-1.5zM215 130h1.5v0.5h-1.5zM158 130.5h10v0.5h-10zM168.5 130.5h2.5v0.5h-2.5zM171.5 130.5h2v0.5h-2zM174 130.5h2.5v0.5h-2.5zM177.5 130.5h3v0.5h-3zM181.5 130.5h1.5v0.5h-1.5zM184 130.5h8.5v0.5h-8.5zM195 130.5h1.5v0.5h-1.5zM206 130.5h1.5v0.5h-1.5zM210 130.5h1.5v0.5h-1.5zM212.5 130.5h2v0.5h-2zM215 130.5h1.5v0.5h-1.5zM157 131h14v0.5h-14zM171.5 131h1.5v0.5h-1.5zM174 131h2v0.5h-2zM177 131h3.5v0.5h-3.5zM181 131h2v0.5h-2zM184 131h2.5v0.5h-2.5zM188 131h2.5v0.5h-2.5zM191 131h1.5v0.5h-1.5zM195 131h1.5v0.5h-1.5zM210.5 131h1.5v0.5h-1.5zM212.5 131h2v0.5h-2zM155.5 131.5h15.5v0.5h-15.5zM171.5 131.5h1.5v0.5h-1.5zM174 131.5h5v0.5h-5zM181 131.5h2v0.5h-2zM184 131.5h6.5v0.5h-6.5zM191 131.5h1.5v0.5h-1.5zM195 131.5h1.5v0.5h-1.5zM202 131.5h1.5v0.5h-1.5zM210.5 131.5h1.5v0.5h-1.5zM212.5 131.5h1.5v0.5h-1.5zM155.5 132h15.5v0.5h-15.5zM171.5 132h1.5v0.5h-1.5zM176 132h4v0.5h-4zM181 132h2.5v0.5h-2.5zM185 132h5.5v0.5h-5.5zM196 132h2.5v0.5h-2.5zM199.5 132h1.5v0.5h-1.5zM202 132h1.5v0.5h-1.5zM207.5 132h1.5v0.5h-1.5zM210.5 132h1.5v0.5h-1.5zM154 132.5h16v0.5h-16zM170.5 132.5h2.5v0.5h-2.5zM176 132.5h1.5v0.5h-1.5zM178 132.5h2v0.5h-2zM181.5 132.5h2v0.5h-2zM186.5 132.5h3v0.5h-3zM190.5 132.5h1.5v0.5h-1.5zM193.5 132.5h1.5v0.5h-1.5zM196 132.5h2.5v0.5h-2.5zM199.5 132.5h1.5v0.5h-1.5zM202 132.5h2v0.5h-2zM204.5 132.5h1.5v0.5h-1.5zM207.5 132.5h1.5v0.5h-1.5zM154 133h19v0.5h-19zM174 133h1.5v0.5h-1.5zM176 133h4v0.5h-4zM181 133h3.5v0.5h-3.5zM187 133h2.5v0.5h-2.5zM190.5 133h2.5v0.5h-2.5zM193.5 133h1.5v0.5h-1.5zM196 133h2.5v0.5h-2.5zM199.5 133h1.5v0.5h-1.5zM202.5 133h3.5v0.5h-3.5zM207.5 133h1.5v0.5h-1.5zM152.5 133.5h12v0.5h-12zM165 133.5h10.5v0.5h-10.5zM177 133.5h7.5v0.5h-7.5zM190.5 133.5h2.5v0.5h-2.5zM193.5 133.5h2v0.5h-2zM196 133.5h2.5v0.5h-2.5zM202.5 133.5h3.5v0.5h-3.5zM152.5 134h12v0.5h-12zM165 134h11v0.5h-11zM177 134h5.5v0.5h-5.5zM183 134h1.5v0.5h-1.5zM190.5 134h2.5v0.5h-2.5zM194 134h4.5v0.5h-4.5zM203.5 134h1.5v0.5h-1.5zM151.5 134.5h22.5v0.5h-22.5zM174.5 134.5h6.5v0.5h-6.5zM182 134.5h2v0.5h-2zM194 134.5h2v0.5h-2zM150 135h4.5v0.5h-4.5zM155 135h14.5v0.5h-14.5zM170 135h3.5v0.5h-3.5zM174.5 135h5v0.5h-5zM182 135h3.5v0.5h-3.5zM194.5 135h1.5v0.5h-1.5zM149.5 135.5h19.5v0.5h-19.5zM170.5 135.5h3v0.5h-3zM174.5 135.5h4v0.5h-4zM182 135.5h3.5v0.5h-3.5zM198 135.5h1.5v0.5h-1.5zM149.5 136h19.5v0.5h-19.5zM170 136h4v0.5h-4zM174.5 136h3.5v0.5h-3.5zM184 136h2v0.5h-2zM198 136h2.5v0.5h-2.5zM147.5 136.5h21.5v0.5h-21.5zM169.5 136.5h2v0.5h-2zM172.5 136.5h1.5v0.5h-1.5zM175 136.5h3v0.5h-3zM183 136.5h3v0.5h-3zM187 136.5h1.5v0.5h-1.5zM198 136.5h2.5v0.5h-2.5zM147 137h19.5v0.5h-19.5zM168 137h3.5v0.5h-3.5zM172.5 137h1.5v0.5h-1.5zM177.5 137h3.5v0.5h-3.5zM183 137h5.5v0.5h-5.5zM199 137h1.5v0.5h-1.5zM147 137.5h25v0.5h-25zM177.5 137.5h3.5v0.5h-3.5zM181.5 137.5h7v0.5h-7zM145 138h1.5v0.5h-1.5zM147 138h16v0.5h-16zM163.5 138h8.5v0.5h-8.5zM177.5 138h3.5v0.5h-3.5zM181.5 138h1.5v0.5h-1.5zM186 138h1.5v0.5h-1.5zM145 138.5h16v0.5h-16zM161.5 138.5h3v0.5h-3zM165.5 138.5h2.5v0.5h-2.5zM169.5 138.5h2.5v0.5h-2.5zM178 138.5h1.5v0.5h-1.5zM181.5 138.5h1.5v0.5h-1.5zM193.5 138.5h1.5v0.5h-1.5zM143.5 139h17.5v0.5h-17.5zM161.5 139h6.5v0.5h-6.5zM170 139h1.5v0.5h-1.5zM176.5 139h3v0.5h-3zM180.5 139h3v0.5h-3zM193.5 139h1.5v0.5h-1.5zM143.5 139.5h24v0.5h-24zM169 139.5h2.5v0.5h-2.5zM174 139.5h1.5v0.5h-1.5zM176.5 139.5h3v0.5h-3zM180.5 139.5h3v0.5h-3zM193.5 139.5h1.5v0.5h-1.5zM142 140h8v0.5h-8zM150.5 140h7v0.5h-7zM158.5 140h7.5v0.5h-7.5zM169 140h4v0.5h-4zM174 140h1.5v0.5h-1.5zM176.5 140h1.5v0.5h-1.5zM180.5 140h3v0.5h-3zM141 140.5h17v0.5h-17zM158.5 140.5h6v0.5h-6zM168.5 140.5h4.5v0.5h-4.5zM174 140.5h1.5v0.5h-1.5zM181.5 140.5h1.5v0.5h-1.5zM185 140.5h1.5v0.5h-1.5zM140.5 141h11.5v0.5h-11.5zM153 141h13v0.5h-13zM166.5 141h1.5v0.5h-1.5zM168.5 141h4.5v0.5h-4.5zM175 141h1.5v0.5h-1.5zM180.5 141h2.5v0.5h-2.5zM185 141h1.5v0.5h-1.5zM140.5 141.5h12v0.5h-12zM153.5 141.5h12.5v0.5h-12.5zM166.5 141.5h1.5v0.5h-1.5zM168.5 141.5h4v0.5h-4zM174 141.5h2.5v0.5h-2.5zM180.5 141.5h1.5v0.5h-1.5zM185 141.5h2.5v0.5h-2.5zM138.5 142h11.5v0.5h-11.5zM150.5 142h2v0.5h-2zM153 142h13v0.5h-13zM166.5 142h2.5v0.5h-2.5zM169.5 142h3v0.5h-3zM174 142h2.5v0.5h-2.5zM180.5 142h1.5v0.5h-1.5zM186 142h1.5v0.5h-1.5zM138.5 142.5h21v0.5h-21zM161 142.5h5.5v0.5h-5.5zM167.5 142.5h1.5v0.5h-1.5zM171 142.5h1.5v0.5h-1.5zM174 142.5h1.5v0.5h-1.5zM186 142.5h1.5v0.5h-1.5zM138.5 143h22v0.5h-22zM161 143h1.5v0.5h-1.5zM163.5 143h5.5v0.5h-5.5zM171 143h1.5v0.5h-1.5zM174 143h1.5v0.5h-1.5zM176.5 143h1.5v0.5h-1.5zM136 143.5h32v0.5h-32zM170 143.5h2v0.5h-2zM174 143.5h1.5v0.5h-1.5zM176.5 143.5h1.5v0.5h-1.5zM179.5 143.5h1.5v0.5h-1.5zM135.5 144h30.5v0.5h-30.5zM166.5 144h2v0.5h-2zM170 144h2v0.5h-2zM175.5 144h2.5v0.5h-2.5zM179.5 144h1.5v0.5h-1.5zM135 144.5h16.5v0.5h-16.5zM152 144.5h16.5v0.5h-16.5zM170 144.5h2v0.5h-2zM175.5 144.5h2.5v0.5h-2.5zM179.5 144.5h1.5v0.5h-1.5zM133.5 145h38v0.5h-38zM175.5 145h2.5v0.5h-2.5zM133.5 145.5h19v0.5h-19zM154 145.5h4v0.5h-4zM158.5 145.5h9v0.5h-9zM168 145.5h4v0.5h-4zM173.5 145.5h1.5v0.5h-1.5zM133 146h25v0.5h-25zM158.5 146h5.5v0.5h-5.5zM165.5 146h6.5v0.5h-6.5zM173.5 146h1.5v0.5h-1.5zM131.5 146.5h24.5v0.5h-24.5zM156.5 146.5h1.5v0.5h-1.5zM159 146.5h3.5v0.5h-3.5zM163 146.5h1.5v0.5h-1.5zM165.5 146.5h6.5v0.5h-6.5zM173.5 146.5h1.5v0.5h-1.5zM131.5 147h24v0.5h-24zM159.5 147h5v0.5h-5zM165.5 147h5v0.5h-5zM130 147.5h14v0.5h-14zM145 147.5h12v0.5h-12zM158 147.5h1.5v0.5h-1.5zM160.5 147.5h4v0.5h-4zM166 147.5h4.5v0.5h-4.5zM129 148h15v0.5h-15zM144.5 148h16.5v0.5h-16.5zM162 148h2.5v0.5h-2.5zM166 148h3v0.5h-3zM169.5 148h1.5v0.5h-1.5zM128.5 148.5h18.5v0.5h-18.5zM147.5 148.5h3.5v0.5h-3.5zM151.5 148.5h15v0.5h-15zM167 148.5h2v0.5h-2zM169.5 148.5h1.5v0.5h-1.5zM127.5 149h22.5v0.5h-22.5zM151.5 149h7v0.5h-7zM159.5 149h11.5v0.5h-11.5zM127 149.5h23v0.5h-23zM152 149.5h6v0.5h-6zM159.5 149.5h9v0.5h-9zM169 149.5h1.5v0.5h-1.5zM126.5 150h23v0.5h-23zM151 150h7v0.5h-7zM166 150h2.5v0.5h-2.5zM169 150h1.5v0.5h-1.5zM125.5 150.5h17v0.5h-17zM143 150.5h6.5v0.5h-6.5zM150 150.5h10v0.5h-10zM163 150.5h1.5v0.5h-1.5zM166.5 150.5h1.5v0.5h-1.5zM125 151h30v0.5h-30zM157 151h4v0.5h-4zM163 151h1.5v0.5h-1.5zM124 151.5h25v0.5h-25zM149.5 151.5h4v0.5h-4zM154.5 151.5h1.5v0.5h-1.5zM157 151.5h4v0.5h-4zM163 151.5h1.5v0.5h-1.5zM123 152h25v0.5h-25zM149.5 152h3v0.5h-3zM154.5 152h1.5v0.5h-1.5zM158.5 152h2.5v0.5h-2.5zM122.5 152.5h22v0.5h-22zM146 152.5h2v0.5h-2zM150.5 152.5h5.5v0.5h-5.5zM158.5 152.5h1.5v0.5h-1.5zM121 153h23.5v0.5h-23.5zM146 153h9.5v0.5h-9.5zM158.5 153h1.5v0.5h-1.5zM121 153.5h34.5v0.5h-34.5zM157.5 153.5h1.5v0.5h-1.5zM120 154h32v0.5h-32zM153.5 154h1.5v0.5h-1.5zM156 154h3v0.5h-3zM119.5 154.5h22v0.5h-22zM142 154.5h10.5v0.5h-10.5zM153.5 154.5h2v0.5h-2zM156 154.5h3v0.5h-3zM194 154.5h1.5v0.5h-1.5zM118.5 155h23v0.5h-23zM142 155h3v0.5h-3zM146.5 155h1.5v0.5h-1.5zM148.5 155h7v0.5h-7zM156 155h1.5v0.5h-1.5zM194 155h1.5v0.5h-1.5zM117.5 155.5h24v0.5h-24zM142 155.5h3v0.5h-3zM146.5 155.5h1.5v0.5h-1.5zM149 155.5h6.5v0.5h-6.5zM156 155.5h1.5v0.5h-1.5zM194 155.5h1.5v0.5h-1.5zM117 156h29v0.5h-29zM149 156h5v0.5h-5zM116 156.5h20.5v0.5h-20.5zM137 156.5h6.5v0.5h-6.5zM144.5 156.5h2v0.5h-2zM149 156.5h3v0.5h-3zM152.5 156.5h1.5v0.5h-1.5zM156 156.5h1.5v0.5h-1.5zM115.5 157h20v0.5h-20zM136.5 157h10v0.5h-10zM150.5 157h1.5v0.5h-1.5zM156 157h1.5v0.5h-1.5zM114 157.5h35v0.5h-35zM156 157.5h1.5v0.5h-1.5zM183 157.5h1.5v0.5h-1.5zM114 158h31v0.5h-31zM146.5 158h2.5v0.5h-2.5zM183 158h1.5v0.5h-1.5zM113.5 158.5h32v0.5h-32zM146 158.5h3v0.5h-3zM183 158.5h1.5v0.5h-1.5zM112 159h33.5v0.5h-33.5zM146 159h1.5v0.5h-1.5zM111.5 159.5h29v0.5h-29zM141 159.5h6.5v0.5h-6.5zM111 160h29.5v0.5h-29.5zM141 160h2.5v0.5h-2.5zM144.5 160h1.5v0.5h-1.5zM109.5 160.5h29v0.5h-29zM141 160.5h2.5v0.5h-2.5zM144.5 160.5h1.5v0.5h-1.5zM162.5 160.5h1.5v0.5h-1.5zM108.5 161h25v0.5h-25zM134 161h4.5v0.5h-4.5zM139 161h1.5v0.5h-1.5zM141.5 161h1.5v0.5h-1.5zM162.5 161h1.5v0.5h-1.5zM108 161.5h30.5v0.5h-30.5zM139 161.5h1.5v0.5h-1.5zM162.5 161.5h1.5v0.5h-1.5zM107.5 162h27.5v0.5h-27.5zM135.5 162h3v0.5h-3zM139 162h1.5v0.5h-1.5zM106.5 162.5h19v0.5h-19zM126 162.5h1.5v0.5h-1.5zM128 162.5h7v0.5h-7zM138 162.5h1.5v0.5h-1.5zM155.5 162.5h1.5v0.5h-1.5zM106 163h21.5v0.5h-21.5zM128 163h2.5v0.5h-2.5zM131 163h1.5v0.5h-1.5zM138 163h1.5v0.5h-1.5zM155.5 163h1.5v0.5h-1.5zM105 163.5h22.5v0.5h-22.5zM128 163.5h2v0.5h-2zM131 163.5h1.5v0.5h-1.5zM138 163.5h1.5v0.5h-1.5zM155.5 163.5h1.5v0.5h-1.5zM104 164h23.5v0.5h-23.5zM128 164h2v0.5h-2zM103.5 164.5h24v0.5h-24zM102.5 165h21v0.5h-21zM124.5 165h3v0.5h-3zM102 165.5h21.5v0.5h-21.5zM101 166h19v0.5h-19zM120.5 166h1.5v0.5h-1.5zM100 166.5h19.5v0.5h-19.5zM121 166.5h1.5v0.5h-1.5zM99.5 167h16v0.5h-16zM116 167h3v0.5h-3zM121 167h1.5v0.5h-1.5zM99 167.5h14.5v0.5h-14.5zM117 167.5h1.5v0.5h-1.5zM121 167.5h1.5v0.5h-1.5zM157 167.5h1.5v0.5h-1.5zM98 168h13v0.5h-13zM112 168h1.5v0.5h-1.5zM117 168h1.5v0.5h-1.5zM125.5 168h1.5v0.5h-1.5zM157 168h1.5v0.5h-1.5zM97 168.5h13v0.5h-13zM125.5 168.5h1.5v0.5h-1.5zM157 168.5h1.5v0.5h-1.5zM96.5 169h14.5v0.5h-14.5zM125.5 169h1.5v0.5h-1.5zM96 169.5h10v0.5h-10zM107.5 169.5h3.5v0.5h-3.5zM113 169.5h1.5v0.5h-1.5zM96 170h7.5v0.5h-7.5zM109 170h2v0.5h-2zM113 170h1.5v0.5h-1.5zM115.5 170h1.5v0.5h-1.5zM122.5 170h1.5v0.5h-1.5zM96 170.5h5v0.5h-5zM109 170.5h1.5v0.5h-1.5zM113 170.5h1.5v0.5h-1.5zM115.5 170.5h1.5v0.5h-1.5zM122.5 170.5h1.5v0.5h-1.5zM96 171h4v0.5h-4zM115.5 171h1.5v0.5h-1.5zM122.5 171h1.5v0.5h-1.5zM98.5 171.5h1.5v0.5h-1.5zM103 171.5h1.5v0.5h-1.5zM98.5 172h1.5v0.5h-1.5zM101 172h1.5v0.5h-1.5zM103 172h1.5v0.5h-1.5zM101 172.5h1.5v0.5h-1.5zM103 172.5h1.5v0.5h-1.5zM101 173h1.5v0.5h-1.5zM111 173.5h1.5v0.5h-1.5zM111 174h1.5v0.5h-1.5zM111 174.5h1.5v0.5h-1.5z"/><circle cx="169.4" cy="158.1" r="1.4" fill="#111"/><line x1="179.2" y1="168.6" x2="172.6" y2="161.8" stroke="#e3232a" stroke-width="1.1"/><path d="M171.2 160.3 l4.2 1.4 l-2.6 2.6 z" fill="#e3232a"/><text x="182.6" y="179.5" font-size="10.1" font-weight="bold" fill="#e3101c" text-anchor="start" textLength="86.6" lengthAdjust="spacingAndGlyphs">NONMMUT015745</text><rect x="68.5" y="31.5" width="230.3" height="149.8" fill="none" stroke="#555" stroke-width="1"/><rect x="71.3" y="35.4" width="71" height="31.8" rx="1.5" fill="#fff" fill-opacity="0.8" stroke="#d8d8d8" stroke-width="0.8"/><rect x="80" y="40.3" width="1.2" height="1.2" fill="#c8c8c8"/><rect x="80" y="50.3" width="1.4" height="1.4" fill="#e01b1b"/><rect x="80" y="60.1" width="1.4" height="1.4" fill="#1a4a8c"/><text x="93.7" y="43.1" font-size="7.9" font-weight="normal" fill="#222" text-anchor="start" stroke="#222" stroke-width="0.1">Other: 58309</text><text x="93.7" y="53.1" font-size="7.9" font-weight="normal" fill="#222" text-anchor="start" stroke="#222" stroke-width="0.1">Up: 4128</text><text x="93.7" y="63.1" font-size="7.9" font-weight="normal" fill="#222" text-anchor="start" stroke="#222" stroke-width="0.1">Down: 3518</text><line x1="80.60" y1="181.3" x2="80.60" y2="183.8" stroke="#444" stroke-width="0.8"/><text x="80.6" y="192.0" font-size="8.0" font-weight="normal" fill="#222" text-anchor="middle" textLength="10.4" lengthAdjust="spacingAndGlyphs" stroke="#222" stroke-width="0.12">2.5</text><line x1="66.0" y1="172.80" x2="68.5" y2="172.80" stroke="#444" stroke-width="0.8"/><text x="63.2" y="176.1" font-size="8.0" font-weight="normal" fill="#222" text-anchor="end" textLength="10.4" lengthAdjust="spacingAndGlyphs" stroke="#222" stroke-width="0.12">2.5</text><line x1="110.30" y1="181.3" x2="110.30" y2="183.8" stroke="#444" stroke-width="0.8"/><text x="110.3" y="192.0" font-size="8.0" font-weight="normal" fill="#222" text-anchor="middle" textLength="10.4" lengthAdjust="spacingAndGlyphs" stroke="#222" stroke-width="0.12">5.0</text><line x1="66.0" y1="153.60" x2="68.5" y2="153.60" stroke="#444" stroke-width="0.8"/><text x="63.2" y="156.9" font-size="8.0" font-weight="normal" fill="#222" text-anchor="end" textLength="10.4" lengthAdjust="spacingAndGlyphs" stroke="#222" stroke-width="0.12">5.0</text><line x1="140.00" y1="181.3" x2="140.00" y2="183.8" stroke="#444" stroke-width="0.8"/><text x="140.0" y="192.0" font-size="8.0" font-weight="normal" fill="#222" text-anchor="middle" textLength="10.4" lengthAdjust="spacingAndGlyphs" stroke="#222" stroke-width="0.12">7.5</text><line x1="66.0" y1="134.40" x2="68.5" y2="134.40" stroke="#444" stroke-width="0.8"/><text x="63.2" y="137.7" font-size="8.0" font-weight="normal" fill="#222" text-anchor="end" textLength="10.4" lengthAdjust="spacingAndGlyphs" stroke="#222" stroke-width="0.12">7.5</text><line x1="169.70" y1="181.3" x2="169.70" y2="183.8" stroke="#444" stroke-width="0.8"/><text x="169.7" y="192.0" font-size="8.0" font-weight="normal" fill="#222" text-anchor="middle" textLength="14.9" lengthAdjust="spacingAndGlyphs" stroke="#222" stroke-width="0.12">10.0</text><line x1="66.0" y1="115.20" x2="68.5" y2="115.20" stroke="#444" stroke-width="0.8"/><text x="63.2" y="118.5" font-size="8.0" font-weight="normal" fill="#222" text-anchor="end" textLength="14.9" lengthAdjust="spacingAndGlyphs" stroke="#222" stroke-width="0.12">10.0</text><line x1="199.40" y1="181.3" x2="199.40" y2="183.8" stroke="#444" stroke-width="0.8"/><text x="199.4" y="192.0" font-size="8.0" font-weight="normal" fill="#222" text-anchor="middle" textLength="14.9" lengthAdjust="spacingAndGlyphs" stroke="#222" stroke-width="0.12">12.5</text><line x1="66.0" y1="96.00" x2="68.5" y2="96.00" stroke="#444" stroke-width="0.8"/><text x="63.2" y="99.3" font-size="8.0" font-weight="normal" fill="#222" text-anchor="end" textLength="14.9" lengthAdjust="spacingAndGlyphs" stroke="#222" stroke-width="0.12">12.5</text><line x1="229.10" y1="181.3" x2="229.10" y2="183.8" stroke="#444" stroke-width="0.8"/><text x="229.1" y="192.0" font-size="8.0" font-weight="normal" fill="#222" text-anchor="middle" textLength="14.9" lengthAdjust="spacingAndGlyphs" stroke="#222" stroke-width="0.12">15.0</text><line x1="66.0" y1="76.80" x2="68.5" y2="76.80" stroke="#444" stroke-width="0.8"/><text x="63.2" y="80.1" font-size="8.0" font-weight="normal" fill="#222" text-anchor="end" textLength="14.9" lengthAdjust="spacingAndGlyphs" stroke="#222" stroke-width="0.12">15.0</text><line x1="258.80" y1="181.3" x2="258.80" y2="183.8" stroke="#444" stroke-width="0.8"/><text x="258.8" y="192.0" font-size="8.0" font-weight="normal" fill="#222" text-anchor="middle" textLength="14.9" lengthAdjust="spacingAndGlyphs" stroke="#222" stroke-width="0.12">17.5</text><line x1="66.0" y1="57.60" x2="68.5" y2="57.60" stroke="#444" stroke-width="0.8"/><text x="63.2" y="60.9" font-size="8.0" font-weight="normal" fill="#222" text-anchor="end" textLength="14.9" lengthAdjust="spacingAndGlyphs" stroke="#222" stroke-width="0.12">17.5</text><line x1="288.50" y1="181.3" x2="288.50" y2="183.8" stroke="#444" stroke-width="0.8"/><text x="288.5" y="192.0" font-size="8.0" font-weight="normal" fill="#222" text-anchor="middle" textLength="14.9" lengthAdjust="spacingAndGlyphs" stroke="#222" stroke-width="0.12">20.0</text><line x1="66.0" y1="38.40" x2="68.5" y2="38.40" stroke="#444" stroke-width="0.8"/><text x="63.2" y="41.7" font-size="8.0" font-weight="normal" fill="#222" text-anchor="end" textLength="14.9" lengthAdjust="spacingAndGlyphs" stroke="#222" stroke-width="0.12">20.0</text><text x="171.9" y="209.8" font-size="13.1" font-weight="normal" fill="#111" text-anchor="middle" textLength="101.6" lengthAdjust="spacingAndGlyphs">Ctrl (normalized)</text><text transform="translate(45.0,110.8) rotate(-90)" font-size="12.7" fill="#111" text-anchor="middle" textLength="109.2" lengthAdjust="spacingAndGlyphs">DOX(normalized)</text><text x="337.86" y="12.55" font-size="17.3" font-weight="bold" fill="#000" text-anchor="start" >b</text><line x1="443.5" y1="24.4" x2="443.5" y2="198.60000000000002" stroke="#000" stroke-width="1.5"/><line x1="442.75" y1="197.8" x2="621.2" y2="197.8" stroke="#000" stroke-width="1.5"/><line x1="435.5" y1="197.80" x2="443.5" y2="197.80" stroke="#000" stroke-width="1.5"/><text x="432.9" y="202.4" font-size="13.2" font-weight="bold" fill="#000" text-anchor="end" >0.0</text><line x1="435.5" y1="140.20" x2="443.5" y2="140.20" stroke="#000" stroke-width="1.5"/><text x="432.9" y="144.8" font-size="13.2" font-weight="bold" fill="#000" text-anchor="end" >0.5</text><line x1="435.5" y1="82.60" x2="443.5" y2="82.60" stroke="#000" stroke-width="1.5"/><text x="432.9" y="87.2" font-size="13.2" font-weight="bold" fill="#000" text-anchor="end" >1.0</text><line x1="435.5" y1="25.00" x2="443.5" y2="25.00" stroke="#000" stroke-width="1.5"/><text x="432.9" y="29.6" font-size="13.2" font-weight="bold" fill="#000" text-anchor="end" >1.5</text><line x1="465.50" y1="85.9" x2="465.50" y2="81.8" stroke="#000" stroke-width="1.1"/><line x1="460.10" y1="81.8" x2="470.90" y2="81.8" stroke="#000" stroke-width="1.6"/><rect x="455.5" y="85.9" width="20.00" height="112.10" fill="#000" stroke="#000" stroke-width="1.4"/><line x1="465.50" y1="198.0" x2="465.50" y2="205.0" stroke="#000" stroke-width="1.4"/><text x="465.5" y="218.3" font-size="13.2" font-weight="bold" fill="#000" text-anchor="middle" >Ctrl</text><line x1="498.80" y1="134.5" x2="498.80" y2="131.0" stroke="#000" stroke-width="1.1"/><line x1="493.40" y1="131.0" x2="504.20" y2="131.0" stroke="#000" stroke-width="1.6"/><rect x="489.09999999999997" y="134.5" width="19.40" height="63.50" fill="#bcbcbc" stroke="#000" stroke-width="1.4"/><line x1="498.80" y1="198.0" x2="498.80" y2="205.0" stroke="#000" stroke-width="1.4"/><text x="498.8" y="218.3" font-size="13.2" font-weight="bold" fill="#000" text-anchor="middle" >3h</text><text x="498.1" y="123.5" font-size="16.4" font-weight="bold" fill="#000" text-anchor="middle" >*</text><line x1="532.10" y1="154.6" x2="532.10" y2="137.5" stroke="#000" stroke-width="1.1"/><line x1="526.70" y1="137.5" x2="537.50" y2="137.5" stroke="#000" stroke-width="1.6"/><rect x="522.5" y="154.6" width="19.20" height="43.40" fill="#9a9a9a" stroke="#000" stroke-width="1.4"/><line x1="532.10" y1="198.0" x2="532.10" y2="205.0" stroke="#000" stroke-width="1.4"/><text x="532.1" y="218.3" font-size="13.2" font-weight="bold" fill="#000" text-anchor="middle" >6h</text><text x="532.2" y="139.7" font-size="16.4" font-weight="bold" fill="#000" text-anchor="middle" >*</text><line x1="565.25" y1="168.2" x2="565.25" y2="162.8" stroke="#000" stroke-width="1.1"/><line x1="559.85" y1="162.8" x2="570.65" y2="162.8" stroke="#000" stroke-width="1.6"/><rect x="555.6" y="168.2" width="19.30" height="29.80" fill="#e2e2e2" stroke="#000" stroke-width="1.4"/><line x1="565.25" y1="198.0" x2="565.25" y2="205.0" stroke="#000" stroke-width="1.4"/><text x="565.25" y="218.3" font-size="13.2" font-weight="bold" fill="#000" text-anchor="middle" >12h</text><text x="565.4" y="164.8" font-size="16.4" font-weight="bold" fill="#000" text-anchor="middle" >*</text><line x1="598.70" y1="183.8" x2="598.70" y2="179.9" stroke="#000" stroke-width="1.1"/><line x1="593.30" y1="179.9" x2="604.10" y2="179.9" stroke="#000" stroke-width="1.6"/><rect x="588.9000000000001" y="183.8" width="19.60" height="14.20" fill="#858585" stroke="#000" stroke-width="1.4"/><line x1="598.70" y1="198.0" x2="598.70" y2="205.0" stroke="#000" stroke-width="1.4"/><text x="598.7" y="218.3" font-size="13.2" font-weight="bold" fill="#000" text-anchor="middle" >24h</text><text x="598.9" y="177.2" font-size="16.4" font-weight="bold" fill="#000" text-anchor="middle" >*</text><text transform="translate(407.2,114.5) rotate(-90)" font-size="13.4" font-weight="bold" text-anchor="middle" textLength="178.7" lengthAdjust="spacingAndGlyphs">Relative lnc5745 expression</text>
<text x="-0.3" y="255.95" font-size="17.4" font-weight="bold" fill="#000" text-anchor="start" >c</text><rect x="15" y="267.8" width="670" height="110" fill="#f4f4f2"/><rect x="15" y="267.8" width="1.4" height="110" fill="#ececea"/><rect x="179.4" y="272.6" width="32.8" height="7.8" fill="#ececec" stroke="#8a8a8a" stroke-width="0.6" rx="0.8"/><text x="195.8" y="278.7" font-size="5.9" font-weight="normal" fill="#333" text-anchor="middle" textLength="27.5" lengthAdjust="spacingAndGlyphs">multi-region</text><rect x="214.2" y="269.8" width="91.6" height="12.3" fill="#efefee" stroke="#e2e2e0" stroke-width="0.5"/><text x="216" y="278.5" font-size="6.2" font-weight="normal" fill="#3a3a3a" text-anchor="start" textLength="88" lengthAdjust="spacingAndGlyphs">chr12:109,595,804-109,597,095</text><text x="307.8" y="278.5" font-size="6.0" font-weight="normal" fill="#3a3a3a" text-anchor="start" textLength="24.2" lengthAdjust="spacingAndGlyphs">1,292 bp.</text><rect x="335.5" y="270" width="147.6" height="11.9" fill="#fff" stroke="#9a9a9a" stroke-width="0.7"/><text x="338.3" y="278.4" font-size="5.8" font-weight="normal" fill="#4a4a4a" text-anchor="start" textLength="133" lengthAdjust="spacingAndGlyphs">gene, chromosome range, or other position, see examples</text><rect x="485.4" y="272.6" width="11.2" height="7.8" fill="#ececec" stroke="#8a8a8a" stroke-width="0.6" rx="0.8"/><text x="491.0" y="279.0" font-size="6.4" font-weight="normal" fill="#333" text-anchor="middle" >go</text><text x="499.3" y="278.6" font-size="5.2" font-weight="normal" fill="#3344aa" text-anchor="start" textLength="21.9" lengthAdjust="spacingAndGlyphs" text-decoration="underline">examples</text><line x1="499.3" y1="279.6" x2="521.2" y2="279.6" stroke="#5566bb" stroke-width="0.4"/><rect x="85.3" y="286.4" width="528.6" height="10.6" fill="#fafafa" stroke="#8c8c8c" stroke-width="0.9" rx="0.8"/><text x="86.2" y="293.5" font-size="5.0" font-weight="normal" fill="#222" text-anchor="start" textLength="26.5" lengthAdjust="spacingAndGlyphs">chr12 (qF1)</text><rect x="114.3" y="288.3" width="72.30" height="6.2" fill="#000"/><text x="150.45" y="293.4" font-size="4.6" font-weight="normal" fill="#ddd" text-anchor="middle" >12qA1.1</text><rect x="186.6" y="288.3" width="15.40" height="6.2" fill="#e4e4e4"/><text x="194.3" y="293.4" font-size="4.6" font-weight="normal" fill="#333" text-anchor="middle" >qA1.2</text><rect x="202" y="288.3" width="19.50" height="6.2" fill="#3a3a3a"/><text x="211.75" y="293.4" font-size="4.6" font-weight="normal" fill="#ddd" text-anchor="middle" >12qA1.3</text><rect x="221.5" y="288.3" width="24.50" height="6.2" fill="#dcdcdc"/><text x="233.75" y="293.4" font-size="4.6" font-weight="normal" fill="#444" text-anchor="middle" >12qA2</text><rect x="246" y="288.3" width="29.00" height="6.2" fill="#8a8a8a"/><text x="260.5" y="293.4" font-size="4.6" font-weight="normal" fill="#222" text-anchor="middle" >12qA3</text><rect x="275" y="288.3" width="23.40" height="6.2" fill="#eeeeee"/><text x="286.7" y="293.4" font-size="4.6" font-weight="normal" fill="#444" text-anchor="middle" >12qB1</text><rect x="298.4" y="288.3" width="1.60" height="6.2" fill="#bbbbbb"/><rect x="300" y="288.3" width="30.00" height="6.2" fill="#dedede"/><text x="315.0" y="293.4" font-size="4.6" font-weight="normal" fill="#444" text-anchor="middle" >12qB3</text><rect x="330" y="288.3" width="58.20" height="6.2" fill="#000"/><text x="359.1" y="293.4" font-size="4.6" font-weight="normal" fill="#ddd" text-anchor="middle" >12qC1</text><rect x="388.2" y="288.3" width="22.20" height="6.2" fill="#e6e6e6"/><text x="399.3" y="293.4" font-size="4.6" font-weight="normal" fill="#444" text-anchor="middle" >12qC2</text><rect x="410.4" y="288.3" width="39.70" height="6.2" fill="#000"/><text x="430.25" y="293.4" font-size="4.6" font-weight="normal" fill="#ddd" text-anchor="middle" >12qC3</text><rect x="450.1" y="288.3" width="18.20" height="6.2" fill="#f2f2f2"/><text x="459.2" y="293.4" font-size="4.6" font-weight="normal" fill="#444" text-anchor="middle" >12qD1</text><rect x="468.3" y="288.3" width="7.00" height="6.2" fill="#8a8a8a"/><text x="471.8" y="293.4" font-size="4.6" font-weight="normal" fill="#222" text-anchor="middle" >qD2</text><rect x="475.3" y="288.3" width="34.40" height="6.2" fill="#e0e0e0"/><text x="492.5" y="293.4" font-size="4.6" font-weight="normal" fill="#444" text-anchor="middle" >12qD3</text><rect x="509.7" y="288.3" width="44.10" height="6.2" fill="#000"/><text x="531.75" y="293.4" font-size="4.6" font-weight="normal" fill="#ddd" text-anchor="middle" >12qE</text><rect x="553.8" y="288.3" width="35.60" height="6.2" fill="#e4e4e4"/><text x="571.6" y="293.4" font-size="4.6" font-weight="normal" fill="#444" text-anchor="middle" >12qF1</text><rect x="589.4" y="288.3" width="23.50" height="6.2" fill="#3c3c3c"/><text x="601.15" y="293.4" font-size="4.6" font-weight="normal" fill="#ddd" text-anchor="middle" >12qF2</text><line x1="568.5" y1="286.8" x2="568.5" y2="296.6" stroke="#e00000" stroke-width="0.9"/><rect x="18" y="300.4" width="662.6" height="77.4" fill="#fff"/><path d="M18 377.8V301.6q0-1.2 1.2-1.2H679.4q1.2 0 1.2 1.2V377.8" fill="none" stroke="#8a8a8a" stroke-width="1"/><rect x="680.6" y="300.8" width="2.2" height="77" fill="#c8c8c8"/><path d="M84.90 301V377.5M89.50 301V377.5M94.10 301V377.5M98.70 301V377.5M103.30 301V377.5M107.90 301V377.5M112.50 301V377.5M117.10 301V377.5M121.70 301V377.5M126.30 301V377.5M130.90 301V377.5M135.50 301V377.5M140.10 301V377.5M144.70 301V377.5M149.30 301V377.5M153.90 301V377.5M158.50 301V377.5M163.10 301V377.5M167.70 301V377.5M172.30 301V377.5M176.90 301V377.5M181.50 301V377.5M186.10 301V377.5M190.70 301V377.5M195.30 301V377.5M199.90 301V377.5M204.50 301V377.5M209.10 301V377.5M213.70 301V377.5M218.30 301V377.5M222.90 301V377.5M227.50 301V377.5M232.10 301V377.5M236.70 301V377.5M241.30 301V377.5M245.90 301V377.5M250.50 301V377.5M255.10 301V377.5M259.70 301V377.5M264.30 301V377.5M268.90 301V377.5M273.50 301V377.5M278.10 301V377.5M282.70 301V377.5M287.30 301V377.5M291.90 301V377.5M296.50 301V377.5M301.10 301V377.5M305.70 301V377.5M310.30 301V377.5M314.90 301V377.5M319.50 301V377.5M324.10 301V377.5M328.70 301V377.5M333.30 301V377.5M337.90 301V377.5M342.50 301V377.5M347.10 301V377.5M351.70 301V377.5M356.30 301V377.5M360.90 301V377.5M365.50 301V377.5M370.10 301V377.5M374.70 301V377.5M379.30 301V377.5M383.90 301V377.5M388.50 301V377.5M393.10 301V377.5M397.70 301V377.5M402.30 301V377.5M406.90 301V377.5M411.50 301V377.5M416.10 301V377.5M420.70 301V377.5M425.30 301V377.5M429.90 301V377.5M434.50 301V377.5M439.10 301V377.5M443.70 301V377.5M448.30 301V377.5M452.90 301V377.5M457.50 301V377.5M462.10 301V377.5M466.70 301V377.5M471.30 301V377.5M475.90 301V377.5M480.50 301V377.5M485.10 301V377.5M489.70 301V377.5M494.30 301V377.5M498.90 301V377.5M503.50 301V377.5M508.10 301V377.5M512.70 301V377.5M517.30 301V377.5M521.90 301V377.5M526.50 301V377.5M531.10 301V377.5M535.70 301V377.5M540.30 301V377.5M544.90 301V377.5M549.50 301V377.5M554.10 301V377.5M558.70 301V377.5M563.30 301V377.5M567.90 301V377.5M572.50 301V377.5M577.10 301V377.5M581.70 301V377.5M586.30 301V377.5M590.90 301V377.5M595.50 301V377.5M600.10 301V377.5M604.70 301V377.5M609.30 301V377.5M613.90 301V377.5M618.50 301V377.5M623.10 301V377.5M627.70 301V377.5M632.30 301V377.5M636.90 301V377.5M641.50 301V377.5M646.10 301V377.5M650.70 301V377.5M655.30 301V377.5M659.90 301V377.5M664.50 301V377.5M669.10 301V377.5M673.70 301V377.5M678.30 301V377.5" stroke="#e2e2f6" stroke-width="0.9" fill="none"/><line x1="79.6" y1="301" x2="79.6" y2="377.5" stroke="#f4b0b0" stroke-width="0.8"/><rect x="18.9" y="300.9" width="4.8" height="31.40" fill="#c9c9c9" stroke="#8e8e8e" stroke-width="0.5"/><rect x="18.9" y="332.9" width="4.8" height="12.10" fill="#c9c9c9" stroke="#8e8e8e" stroke-width="0.5"/><rect x="18.9" y="345.5" width="4.8" height="6.10" fill="#c9c9c9" stroke="#8e8e8e" stroke-width="0.5"/><rect x="18.9" y="352.1" width="4.8" height="11.20" fill="#c9c9c9" stroke="#8e8e8e" stroke-width="0.5"/><rect x="18.9" y="363.8" width="4.8" height="12.50" fill="#c9c9c9" stroke="#8e8e8e" stroke-width="0.5"/><text x="77.9" y="306.8" font-size="5.3" font-weight="normal" fill="#333" text-anchor="end" >Scale</text><text x="77.9" y="313.8" font-size="5.3" font-weight="normal" fill="#333" text-anchor="end" >chr12:</text><text x="77.9" y="320.0" font-size="5.0" font-weight="normal" fill="#555" text-anchor="end" >---&gt;</text><text x="77.7" y="343.6" font-size="5.0" font-weight="normal" fill="#ad9b32" text-anchor="end" >chr12_KB469740_fix</text><text x="78.1" y="374.3" font-size="5.0" font-weight="normal" fill="#262b86" text-anchor="end" stroke="#262b86" stroke-width="0.1">Rtl1/NM_184109.2</text><text x="262.9" y="306.8" font-size="5.0" font-weight="normal" fill="#333" text-anchor="end" >500 bases</text><path d="M264.5 302V307.6M264.5 304.6H496.5M496.5 302V307.6" stroke="#333" stroke-width="0.7" fill="none"/><text x="500" y="306.8" font-size="5.0" font-weight="normal" fill="#333" text-anchor="start" >mm10</text><line x1="125.80" y1="309.6" x2="125.80" y2="313.8" stroke="#333" stroke-width="0.7"/><text x="124.6" y="313.6" font-size="5.0" font-weight="normal" fill="#333" text-anchor="end" >109,595,900</text><line x1="172.18" y1="309.6" x2="172.18" y2="313.8" stroke="#333" stroke-width="0.7"/><text x="170.98" y="313.6" font-size="5.0" font-weight="normal" fill="#333" text-anchor="end" >109,596,000</text><line x1="218.56" y1="309.6" x2="218.56" y2="313.8" stroke="#333" stroke-width="0.7"/><text x="217.36" y="313.6" font-size="5.0" font-weight="normal" fill="#333" text-anchor="end" >109,596,100</text><line x1="264.94" y1="309.6" x2="264.94" y2="313.8" stroke="#333" stroke-width="0.7"/><text x="263.74" y="313.6" font-size="5.0" font-weight="normal" fill="#333" text-anchor="end" >109,596,200</text><line x1="311.32" y1="309.6" x2="311.32" y2="313.8" stroke="#333" stroke-width="0.7"/><text x="310.12" y="313.6" font-size="5.0" font-weight="normal" fill="#333" text-anchor="end" >109,596,300</text><line x1="357.70" y1="309.6" x2="357.70" y2="313.8" stroke="#333" stroke-width="0.7"/><text x="356.5" y="313.6" font-size="5.0" font-weight="normal" fill="#333" text-anchor="end" >109,596,400</text><line x1="404.08" y1="309.6" x2="404.08" y2="313.8" stroke="#333" stroke-width="0.7"/><text x="402.88" y="313.6" font-size="5.0" font-weight="normal" fill="#333" text-anchor="end" >109,596,500</text><line x1="450.46" y1="309.6" x2="450.46" y2="313.8" stroke="#333" stroke-width="0.7"/><text x="449.26" y="313.6" font-size="5.0" font-weight="normal" fill="#333" text-anchor="end" >109,596,600</text><line x1="496.84" y1="309.6" x2="496.84" y2="313.8" stroke="#333" stroke-width="0.7"/><text x="495.64" y="313.6" font-size="5.0" font-weight="normal" fill="#333" text-anchor="end" >109,596,700</text><line x1="543.22" y1="309.6" x2="543.22" y2="313.8" stroke="#333" stroke-width="0.7"/><text x="542.02" y="313.6" font-size="5.0" font-weight="normal" fill="#333" text-anchor="end" >109,596,800</text><line x1="589.60" y1="309.6" x2="589.60" y2="313.8" stroke="#333" stroke-width="0.7"/><text x="588.4" y="313.6" font-size="5.0" font-weight="normal" fill="#333" text-anchor="end" >109,596,900</text><line x1="635.98" y1="309.6" x2="635.98" y2="313.8" stroke="#333" stroke-width="0.7"/><text x="634.78" y="313.6" font-size="5.0" font-weight="normal" fill="#333" text-anchor="end" >109,597,000</text><rect x="80" y="314.8" width="600.5" height="17.7" fill="#858585"/><path d="M80.60 314.8v17.7M82.90 314.8v17.7M85.20 314.8v17.7M87.50 314.8v17.7M89.80 314.8v17.7M92.10 314.8v17.7M94.40 314.8v17.7M96.70 314.8v17.7M99.00 314.8v17.7M101.30 314.8v17.7M103.60 314.8v17.7M105.90 314.8v17.7M108.20 314.8v17.7M110.50 314.8v17.7M112.80 314.8v17.7M115.10 314.8v17.7M117.40 314.8v17.7M119.70 314.8v17.7M122.00 314.8v17.7M124.30 314.8v17.7M126.60 314.8v17.7M128.90 314.8v17.7M131.20 314.8v17.7M133.50 314.8v17.7M135.80 314.8v17.7M138.10 314.8v17.7M140.40 314.8v17.7M142.70 314.8v17.7M145.00 314.8v17.7M147.30 314.8v17.7M149.60 314.8v17.7M151.90 314.8v17.7M154.20 314.8v17.7M156.50 314.8v17.7M158.80 314.8v17.7M161.10 314.8v17.7M163.40 314.8v17.7M165.70 314.8v17.7M168.00 314.8v17.7M170.30 314.8v17.7M172.60 314.8v17.7M174.90 314.8v17.7M177.20 314.8v17.7M179.50 314.8v17.7M181.80 314.8v17.7M184.10 314.8v17.7M186.40 314.8v17.7M188.70 314.8v17.7M191.00 314.8v17.7M193.30 314.8v17.7M195.60 314.8v17.7M197.90 314.8v17.7M200.20 314.8v17.7M202.50 314.8v17.7M204.80 314.8v17.7M207.10 314.8v17.7M209.40 314.8v17.7M211.70 314.8v17.7M214.00 314.8v17.7M216.30 314.8v17.7M218.60 314.8v17.7M220.90 314.8v17.7M223.20 314.8v17.7M225.50 314.8v17.7M227.80 314.8v17.7M230.10 314.8v17.7M232.40 314.8v17.7M234.70 314.8v17.7M237.00 314.8v17.7M239.30 314.8v17.7M241.60 314.8v17.7M243.90 314.8v17.7M246.20 314.8v17.7M248.50 314.8v17.7M250.80 314.8v17.7M253.10 314.8v17.7M255.40 314.8v17.7M257.70 314.8v17.7M260.00 314.8v17.7M262.30 314.8v17.7M264.60 314.8v17.7M266.90 314.8v17.7M269.20 314.8v17.7M271.50 314.8v17.7M273.80 314.8v17.7M276.10 314.8v17.7M278.40 314.8v17.7M280.70 314.8v17.7M283.00 314.8v17.7M285.30 314.8v17.7M287.60 314.8v17.7M289.90 314.8v17.7M292.20 314.8v17.7M294.50 314.8v17.7M296.80 314.8v17.7M299.10 314.8v17.7M301.40 314.8v17.7M303.70 314.8v17.7M306.00 314.8v17.7M308.30 314.8v17.7M310.60 314.8v17.7M312.90 314.8v17.7M315.20 314.8v17.7M317.50 314.8v17.7M319.80 314.8v17.7M322.10 314.8v17.7M324.40 314.8v17.7M326.70 314.8v17.7M329.00 314.8v17.7M331.30 314.8v17.7M333.60 314.8v17.7M335.90 314.8v17.7M338.20 314.8v17.7M340.50 314.8v17.7M342.80 314.8v17.7M345.10 314.8v17.7M347.40 314.8v17.7M349.70 314.8v17.7M352.00 314.8v17.7M354.30 314.8v17.7M356.60 314.8v17.7M358.90 314.8v17.7M361.20 314.8v17.7M363.50 314.8v17.7M365.80 314.8v17.7M368.10 314.8v17.7M370.40 314.8v17.7M372.70 314.8v17.7M375.00 314.8v17.7M377.30 314.8v17.7M379.60 314.8v17.7M381.90 314.8v17.7M384.20 314.8v17.7M386.50 314.8v17.7M388.80 314.8v17.7M391.10 314.8v17.7M393.40 314.8v17.7M395.70 314.8v17.7M398.00 314.8v17.7M400.30 314.8v17.7M402.60 314.8v17.7M404.90 314.8v17.7M407.20 314.8v17.7M409.50 314.8v17.7M411.80 314.8v17.7M414.10 314.8v17.7M416.40 314.8v17.7M418.70 314.8v17.7M421.00 314.8v17.7M423.30 314.8v17.7M425.60 314.8v17.7M427.90 314.8v17.7M430.20 314.8v17.7M432.50 314.8v17.7M434.80 314.8v17.7M437.10 314.8v17.7M439.40 314.8v17.7M441.70 314.8v17.7M444.00 314.8v17.7M446.30 314.8v17.7M448.60 314.8v17.7M450.90 314.8v17.7M453.20 314.8v17.7M455.50 314.8v17.7M457.80 314.8v17.7M460.10 314.8v17.7M462.40 314.8v17.7M464.70 314.8v17.7M467.00 314.8v17.7M469.30 314.8v17.7M471.60 314.8v17.7M473.90 314.8v17.7M476.20 314.8v17.7M478.50 314.8v17.7M480.80 314.8v17.7M483.10 314.8v17.7M485.40 314.8v17.7M487.70 314.8v17.7M490.00 314.8v17.7M492.30 314.8v17.7M494.60 314.8v17.7M496.90 314.8v17.7M499.20 314.8v17.7M501.50 314.8v17.7M503.80 314.8v17.7M506.10 314.8v17.7M508.40 314.8v17.7M510.70 314.8v17.7M513.00 314.8v17.7M515.30 314.8v17.7M517.60 314.8v17.7M519.90 314.8v17.7M522.20 314.8v17.7M524.50 314.8v17.7M526.80 314.8v17.7M529.10 314.8v17.7M531.40 314.8v17.7M533.70 314.8v17.7M536.00 314.8v17.7M538.30 314.8v17.7M540.60 314.8v17.7M542.90 314.8v17.7M545.20 314.8v17.7M547.50 314.8v17.7M549.80 314.8v17.7M552.10 314.8v17.7M554.40 314.8v17.7M556.70 314.8v17.7M559.00 314.8v17.7M561.30 314.8v17.7M563.60 314.8v17.7M565.90 314.8v17.7M568.20 314.8v17.7M570.50 314.8v17.7M572.80 314.8v17.7M575.10 314.8v17.7M577.40 314.8v17.7M579.70 314.8v17.7M582.00 314.8v17.7M584.30 314.8v17.7M586.60 314.8v17.7M588.90 314.8v17.7M591.20 314.8v17.7M593.50 314.8v17.7M595.80 314.8v17.7M598.10 314.8v17.7M600.40 314.8v17.7M602.70 314.8v17.7M605.00 314.8v17.7M607.30 314.8v17.7M609.60 314.8v17.7M611.90 314.8v17.7M614.20 314.8v17.7M616.50 314.8v17.7M618.80 314.8v17.7M621.10 314.8v17.7M623.40 314.8v17.7M625.70 314.8v17.7M628.00 314.8v17.7M630.30 314.8v17.7M632.60 314.8v17.7M634.90 314.8v17.7M637.20 314.8v17.7M639.50 314.8v17.7M641.80 314.8v17.7M644.10 314.8v17.7M646.40 314.8v17.7M648.70 314.8v17.7M651.00 314.8v17.7M653.30 314.8v17.7M655.60 314.8v17.7M657.90 314.8v17.7M660.20 314.8v17.7M662.50 314.8v17.7M664.80 314.8v17.7M667.10 314.8v17.7M669.40 314.8v17.7M671.70 314.8v17.7M674.00 314.8v17.7M676.30 314.8v17.7M678.60 314.8v17.7" stroke="#a5a5a5" stroke-width="1.15" fill="none"/><rect x="109.95" y="315.0" width="1.7" height="5.8" fill="#d8232a"/><rect x="125.35" y="315.0" width="1.7" height="5.8" fill="#5cb83c"/><rect x="149.15" y="315.0" width="1.7" height="5.8" fill="#d8232a"/><rect x="164.45" y="315.0" width="1.7" height="5.8" fill="#5cb83c"/><rect x="142.85" y="320.8" width="1.7" height="5.8" fill="#d8232a"/><rect x="81.55" y="326.6" width="1.7" height="5.8" fill="#d8232a"/><rect x="118.05" y="326.6" width="1.7" height="5.8" fill="#d8232a"/><rect x="211.75" y="315.0" width="1.7" height="5.8" fill="#d8232a"/><rect x="221.65" y="315.0" width="1.7" height="5.8" fill="#d8232a"/><rect x="227.25" y="315.0" width="1.7" height="5.8" fill="#5cb83c"/><rect x="245.35" y="315.0" width="1.7" height="5.8" fill="#d8232a"/><rect x="261.85" y="315.0" width="1.7" height="5.8" fill="#5cb83c"/><rect x="267.65" y="315.0" width="1.7" height="5.8" fill="#d8232a"/><rect x="246.95" y="320.8" width="1.7" height="5.8" fill="#5cb83c"/><rect x="251.65" y="320.8" width="1.7" height="5.8" fill="#5cb83c"/><rect x="254.05" y="320.8" width="1.7" height="5.8" fill="#d8232a"/><rect x="276.45" y="320.8" width="1.7" height="5.8" fill="#5cb83c"/><rect x="203.15" y="326.6" width="1.7" height="5.8" fill="#d8232a"/><rect x="219.75" y="326.6" width="1.7" height="5.8" fill="#d8232a"/><rect x="233.65" y="326.6" width="1.7" height="5.8" fill="#d8232a"/><rect x="240.65" y="326.6" width="1.7" height="5.8" fill="#d8232a"/><rect x="241.85" y="326.6" width="1.7" height="5.8" fill="#5cb83c"/><rect x="257.15" y="326.6" width="1.7" height="5.8" fill="#5cb83c"/><rect x="280.05" y="315.0" width="1.7" height="5.8" fill="#d8232a"/><rect x="372.35" y="315.0" width="1.7" height="5.8" fill="#5cb83c"/><rect x="290.25" y="320.8" width="1.7" height="5.8" fill="#d8232a"/><rect x="301.55" y="320.8" width="1.7" height="5.8" fill="#d8232a"/><rect x="319.45" y="320.8" width="1.7" height="5.8" fill="#d8232a"/><rect x="326.45" y="320.8" width="1.7" height="5.8" fill="#d8232a"/><rect x="317.25" y="326.6" width="1.7" height="5.8" fill="#d8232a"/><rect x="360.35" y="326.6" width="1.7" height="5.8" fill="#d8232a"/><rect x="384.45" y="315.0" width="1.7" height="5.8" fill="#5cb83c"/><rect x="425.05" y="315.0" width="1.7" height="5.8" fill="#d8232a"/><rect x="437.75" y="315.0" width="1.7" height="5.8" fill="#d8232a"/><rect x="447.25" y="315.0" width="1.7" height="5.8" fill="#d8232a"/><rect x="461.55" y="315.0" width="1.7" height="5.8" fill="#d8232a"/><rect x="469.85" y="315.0" width="1.7" height="5.8" fill="#d8232a"/><rect x="442.15" y="320.8" width="1.7" height="5.8" fill="#5cb83c"/><rect x="453.35" y="320.8" width="1.7" height="5.8" fill="#5cb83c"/><rect x="476.15" y="320.8" width="1.7" height="5.8" fill="#5cb83c"/><rect x="442.85" y="326.6" width="1.7" height="5.8" fill="#d8232a"/><rect x="457.85" y="326.6" width="1.7" height="5.8" fill="#d8232a"/><rect x="466.45" y="326.6" width="1.7" height="5.8" fill="#d8232a"/><rect x="473.55" y="326.6" width="1.7" height="5.8" fill="#d8232a"/><rect x="506.35" y="315.0" width="1.7" height="5.8" fill="#d8232a"/><rect x="516.85" y="315.0" width="1.7" height="5.8" fill="#d8232a"/><rect x="524.15" y="315.0" width="1.7" height="5.8" fill="#d8232a"/><rect x="542.15" y="315.0" width="1.7" height="5.8" fill="#d8232a"/><rect x="571.75" y="315.0" width="1.7" height="5.8" fill="#d8232a"/><rect x="487.05" y="320.8" width="1.7" height="5.8" fill="#d8232a"/><rect x="489.95" y="320.8" width="1.7" height="5.8" fill="#d8232a"/><rect x="503.45" y="320.8" width="1.7" height="5.8" fill="#d8232a"/><rect x="480.35" y="326.6" width="1.7" height="5.8" fill="#d8232a"/><rect x="492.95" y="326.6" width="1.7" height="5.8" fill="#5cb83c"/><rect x="511.05" y="326.6" width="1.7" height="5.8" fill="#d8232a"/><rect x="523.55" y="326.6" width="1.7" height="5.8" fill="#5cb83c"/><rect x="548.65" y="326.6" width="1.7" height="5.8" fill="#d8232a"/><rect x="617.45" y="315.0" width="1.7" height="5.8" fill="#d8232a"/><rect x="624.45" y="315.0" width="1.7" height="5.8" fill="#d8232a"/><rect x="630.25" y="315.0" width="1.7" height="5.8" fill="#d8232a"/><rect x="642.45" y="315.0" width="1.7" height="5.8" fill="#d8232a"/><rect x="659.45" y="315.0" width="1.7" height="5.8" fill="#d8232a"/><rect x="670.55" y="315.0" width="1.7" height="5.8" fill="#5cb83c"/><rect x="674.85" y="315.0" width="1.7" height="5.8" fill="#5cb83c"/><rect x="676.35" y="315.0" width="1.7" height="5.8" fill="#d8232a"/><rect x="579.05" y="320.8" width="1.7" height="5.8" fill="#5cb83c"/><rect x="584.15" y="320.8" width="1.7" height="5.8" fill="#5cb83c"/><rect x="586.25" y="320.8" width="1.7" height="5.8" fill="#d8232a"/><rect x="604.05" y="320.8" width="1.7" height="5.8" fill="#5cb83c"/><rect x="626.35" y="320.8" width="1.7" height="5.8" fill="#5cb83c"/><rect x="668.05" y="320.8" width="1.7" height="5.8" fill="#d8232a"/><rect x="626.85" y="326.6" width="1.7" height="5.8" fill="#d8232a"/><rect x="635.25" y="326.6" width="1.7" height="5.8" fill="#5cb83c"/><rect x="640.45" y="326.6" width="1.7" height="5.8" fill="#d8232a"/><rect x="672.75" y="326.6" width="1.7" height="5.8" fill="#d8232a"/><text x="380" y="337.6" font-size="5.1" font-weight="normal" fill="#b3a23e" text-anchor="middle" textLength="120.6" lengthAdjust="spacingAndGlyphs">Reference Assembly Fix Patch Sequence Alignments</text><rect x="80" y="338.9" width="600.5" height="5.5" fill="#dcbf2a"/><path d="M80.9 341.65l2.6-1.9v3.8zM83.7 341.65l2.6-1.9v3.8z" fill="#fff"/><path d="M679.6 341.65l-2.6-1.9v3.8zM676.8 341.65l-2.6-1.9v3.8z" fill="#fff"/><text x="380" y="350.2" font-size="5.06" font-weight="normal" fill="#23287f" text-anchor="middle" stroke="#23287f" stroke-width="0.12" textLength="142.2" lengthAdjust="spacingAndGlyphs">Reference Assembly Alternate Haplotype Sequence Alignments</text><text x="380.2" y="356.6" font-size="5.02" font-weight="normal" fill="#222" text-anchor="middle" textLength="96.3" lengthAdjust="spacingAndGlyphs">Chromosome Bands Based On Microscopy</text><rect x="80" y="357.2" width="600.5" height="5.4" fill="#e2e2e2"/><text x="379.3" y="361.8" font-size="4.8" font-weight="normal" fill="#333" text-anchor="middle" >12qF1</text><text x="379.3" y="369.2" font-size="5.0" font-weight="normal" fill="#262b86" text-anchor="middle" stroke="#262b86" stroke-width="0.1" textLength="368.8" lengthAdjust="spacingAndGlyphs">NCBI RefSeq genes, curated subset (NM_*, NR_*, NP_* or YP_*) - Annotation Release NCBI Mus musculus Updated Annotation Release 108.20200622 (2020-07-09)</text><line x1="81" y1="372.5" x2="678" y2="372.5" stroke="#3a3f9a" stroke-width="0.7"/><path d="M88.0 371.5l1 1-1 1M92.0 371.5l1 1-1 1M96.0 371.5l1 1-1 1M100.0 371.5l1 1-1 1M104.0 371.5l1 1-1 1M108.0 371.5l1 1-1 1M112.0 371.5l1 1-1 1M116.0 371.5l1 1-1 1M120.0 371.5l1 1-1 1M124.0 371.5l1 1-1 1M128.0 371.5l1 1-1 1M132.0 371.5l1 1-1 1M136.0 371.5l1 1-1 1M140.0 371.5l1 1-1 1M144.0 371.5l1 1-1 1M148.0 371.5l1 1-1 1M152.0 371.5l1 1-1 1M156.0 371.5l1 1-1 1M160.0 371.5l1 1-1 1M164.0 371.5l1 1-1 1M168.0 371.5l1 1-1 1M172.0 371.5l1 1-1 1M176.0 371.5l1 1-1 1M180.0 371.5l1 1-1 1M184.0 371.5l1 1-1 1M188.0 371.5l1 1-1 1M192.0 371.5l1 1-1 1M196.0 371.5l1 1-1 1M200.0 371.5l1 1-1 1M204.0 371.5l1 1-1 1M208.0 371.5l1 1-1 1M212.0 371.5l1 1-1 1M216.0 371.5l1 1-1 1M220.0 371.5l1 1-1 1M224.0 371.5l1 1-1 1M228.0 371.5l1 1-1 1M232.0 371.5l1 1-1 1M236.0 371.5l1 1-1 1M240.0 371.5l1 1-1 1M244.0 371.5l1 1-1 1M248.0 371.5l1 1-1 1M252.0 371.5l1 1-1 1M256.0 371.5l1 1-1 1M260.0 371.5l1 1-1 1M264.0 371.5l1 1-1 1M268.0 371.5l1 1-1 1M272.0 371.5l1 1-1 1M276.0 371.5l1 1-1 1M280.0 371.5l1 1-1 1M284.0 371.5l1 1-1 1M288.0 371.5l1 1-1 1M292.0 371.5l1 1-1 1M296.0 371.5l1 1-1 1M300.0 371.5l1 1-1 1M304.0 371.5l1 1-1 1M308.0 371.5l1 1-1 1M312.0 371.5l1 1-1 1M316.0 371.5l1 1-1 1M320.0 371.5l1 1-1 1M324.0 371.5l1 1-1 1M328.0 371.5l1 1-1 1M332.0 371.5l1 1-1 1M336.0 371.5l1 1-1 1M340.0 371.5l1 1-1 1M344.0 371.5l1 1-1 1M348.0 371.5l1 1-1 1M352.0 371.5l1 1-1 1M356.0 371.5l1 1-1 1M360.0 371.5l1 1-1 1M364.0 371.5l1 1-1 1M368.0 371.5l1 1-1 1M372.0 371.5l1 1-1 1M376.0 371.5l1 1-1 1M380.0 371.5l1 1-1 1M384.0 371.5l1 1-1 1M388.0 371.5l1 1-1 1M392.0 371.5l1 1-1 1M396.0 371.5l1 1-1 1M400.0 371.5l1 1-1 1M404.0 371.5l1 1-1 1M408.0 371.5l1 1-1 1M412.0 371.5l1 1-1 1M416.0 371.5l1 1-1 1M420.0 371.5l1 1-1 1M424.0 371.5l1 1-1 1M428.0 371.5l1 1-1 1M432.0 371.5l1 1-1 1M436.0 371.5l1 1-1 1M440.0 371.5l1 1-1 1M444.0 371.5l1 1-1 1M448.0 371.5l1 1-1 1M452.0 371.5l1 1-1 1M456.0 371.5l1 1-1 1M460.0 371.5l1 1-1 1M464.0 371.5l1 1-1 1M468.0 371.5l1 1-1 1M472.0 371.5l1 1-1 1M476.0 371.5l1 1-1 1M480.0 371.5l1 1-1 1M484.0 371.5l1 1-1 1M488.0 371.5l1 1-1 1M492.0 371.5l1 1-1 1M496.0 371.5l1 1-1 1M500.0 371.5l1 1-1 1M504.0 371.5l1 1-1 1M508.0 371.5l1 1-1 1M512.0 371.5l1 1-1 1M516.0 371.5l1 1-1 1M520.0 371.5l1 1-1 1M524.0 371.5l1 1-1 1M528.0 371.5l1 1-1 1M532.0 371.5l1 1-1 1M536.0 371.5l1 1-1 1M540.0 371.5l1 1-1 1M544.0 371.5l1 1-1 1M548.0 371.5l1 1-1 1M552.0 371.5l1 1-1 1M556.0 371.5l1 1-1 1M560.0 371.5l1 1-1 1M564.0 371.5l1 1-1 1M568.0 371.5l1 1-1 1M572.0 371.5l1 1-1 1M576.0 371.5l1 1-1 1M580.0 371.5l1 1-1 1M584.0 371.5l1 1-1 1M588.0 371.5l1 1-1 1M592.0 371.5l1 1-1 1M596.0 371.5l1 1-1 1M600.0 371.5l1 1-1 1M604.0 371.5l1 1-1 1M608.0 371.5l1 1-1 1M612.0 371.5l1 1-1 1M616.0 371.5l1 1-1 1M620.0 371.5l1 1-1 1M624.0 371.5l1 1-1 1M628.0 371.5l1 1-1 1M632.0 371.5l1 1-1 1M636.0 371.5l1 1-1 1M640.0 371.5l1 1-1 1M644.0 371.5l1 1-1 1M648.0 371.5l1 1-1 1M652.0 371.5l1 1-1 1M656.0 371.5l1 1-1 1M660.0 371.5l1 1-1 1M664.0 371.5l1 1-1 1M668.0 371.5l1 1-1 1" stroke="#3a3f9a" stroke-width="0.5" fill="none"/><path d="M80.5 372.5l2.6-2.2v4.4zM83.3 372.5l2.6-2.2v4.4z" stroke="#3a3f9a" stroke-width="0.6" fill="#fff"/><path d="M679 372.5l-2.6-2.2v4.4zM676.2 372.5l-2.6-2.2v4.4z" stroke="#3a3f9a" stroke-width="0.6" fill="#fff"/><text x="-0.5" y="423.64" font-size="17.85" font-weight="bold" fill="#000" text-anchor="start" >d</text><text x="70.05" y="454" font-size="13.2" font-weight="bold" fill="#000" text-anchor="middle" >Cy5</text><text x="165.05" y="454" font-size="13.2" font-weight="bold" fill="#000" text-anchor="middle" textLength="30.7" lengthAdjust="spacingAndGlyphs">DAPI</text><text x="262.8" y="454" font-size="13.2" font-weight="bold" fill="#000" text-anchor="middle" textLength="64.4" lengthAdjust="spacingAndGlyphs">OVERLAY</text><defs><filter id="bl" x="-50%" y="-50%" width="200%" height="200%"><feGaussianBlur stdDeviation="0.9"/></filter><filter id="bl2" x="-50%" y="-50%" width="200%" height="200%"><feGaussianBlur stdDeviation="0.6"/></filter><filter id="bl3" x="-50%" y="-50%" width="200%" height="200%"><feGaussianBlur stdDeviation="1.6"/></filter><filter id="sp" x="-60%" y="-60%" width="220%" height="220%" color-interpolation-filters="sRGB"><feGaussianBlur in="SourceAlpha" stdDeviation="2.2" result="a"/><feTurbulence type="fractalNoise" baseFrequency="0.85" numOctaves="2" seed="5" result="n"/><feColorMatrix in="n" type="matrix" values="0 0 0 0 0.72  0 0 0 0 0.1  0 0 0 0 0.12  0 0 0 4.4 -2.0" result="c"/><feComposite in="c" in2="a" operator="in" result="d"/><feGaussianBlur in="d" stdDeviation="0.35"/></filter><filter id="sp2" x="-60%" y="-60%" width="220%" height="220%" color-interpolation-filters="sRGB"><feGaussianBlur in="SourceAlpha" stdDeviation="1.0" result="a"/><feTurbulence type="fractalNoise" baseFrequency="0.7" numOctaves="2" seed="9" result="n"/><feColorMatrix in="n" type="matrix" values="0 0 0 0 0.62  0 0 0 0 0.09  0 0 0 0 0.1  0 0 0 3.2 -1.15" result="c"/><feComposite in="c" in2="a" operator="in" result="d"/><feGaussianBlur in="d" stdDeviation="0.3"/></filter></defs><rect x="26.9" y="467.9" width="277" height="183" fill="#0c0507"/><rect x="118.5" y="467.9" width="1.7" height="183" fill="#eeeeee"/><rect x="211.5" y="467.9" width="1.6" height="183" fill="#e6e6e6"/><rect x="26.9" y="558.9" width="277" height="2.0" fill="#b8b8b8"/><rect x="26.9" y="467.9" width="277" height="183" fill="none" stroke="#000" stroke-width="0.8"/><ellipse cx="44.70" cy="491.30" rx="2.61" ry="5.9399999999999995" transform="rotate(-35 44.70 491.30)" fill="#5a0e10" fill-opacity="0.6000000000000001" filter="url(#bl)"/><ellipse cx="44.70" cy="491.30" rx="2.9" ry="6.6" transform="rotate(-35 44.70 491.30)" fill="#fff" fill-opacity="0.8" filter="url(#sp2)"/><ellipse cx="230.20" cy="491.30" rx="3.045" ry="6.93" transform="rotate(-35 230.20 491.30)" fill="#8a1518" fill-opacity="0.8" filter="url(#bl)"/><ellipse cx="76.90" cy="495.60" rx="2.52" ry="3.42" transform="rotate(-10 76.90 495.60)" fill="#5a0e10" fill-opacity="0.675" filter="url(#bl)"/><ellipse cx="76.90" cy="495.60" rx="2.8" ry="3.8" transform="rotate(-10 76.90 495.60)" fill="#fff" fill-opacity="0.9" filter="url(#sp2)"/><ellipse cx="262.40" cy="495.60" rx="2.94" ry="3.9899999999999998" transform="rotate(-10 262.40 495.60)" fill="#8a1518" fill-opacity="0.9" filter="url(#bl)"/><ellipse cx="86.30" cy="507.10" rx="4.05" ry="2.3400000000000003" transform="rotate(10 86.30 507.10)" fill="#5a0e10" fill-opacity="0.6375" filter="url(#bl)"/><ellipse cx="86.30" cy="507.10" rx="4.5" ry="2.6" transform="rotate(10 86.30 507.10)" fill="#fff" fill-opacity="0.85" filter="url(#sp2)"/><ellipse cx="271.80" cy="507.10" rx="4.7250000000000005" ry="2.7300000000000004" transform="rotate(10 271.80 507.10)" fill="#8a1518" fill-opacity="0.85" filter="url(#bl)"/><ellipse cx="80.60" cy="524.00" rx="2.8800000000000003" ry="2.7" transform="rotate(0 80.60 524.00)" fill="#5a0e10" fill-opacity="0.6375" filter="url(#bl)"/><ellipse cx="80.60" cy="524.00" rx="3.2" ry="3.0" transform="rotate(0 80.60 524.00)" fill="#fff" fill-opacity="0.85" filter="url(#sp2)"/><ellipse cx="266.10" cy="524.00" rx="3.3600000000000003" ry="3.1500000000000004" transform="rotate(0 266.10 524.00)" fill="#8a1518" fill-opacity="0.85" filter="url(#bl)"/><ellipse cx="98.60" cy="530.70" rx="2.8800000000000003" ry="3.33" transform="rotate(0 98.60 530.70)" fill="#5a0e10" fill-opacity="0.6000000000000001" filter="url(#bl)"/><ellipse cx="98.60" cy="530.70" rx="3.2" ry="3.7" transform="rotate(0 98.60 530.70)" fill="#fff" fill-opacity="0.8" filter="url(#sp2)"/><ellipse cx="284.10" cy="530.70" rx="3.3600000000000003" ry="3.8850000000000002" transform="rotate(0 284.10 530.70)" fill="#8a1518" fill-opacity="0.8" filter="url(#bl)"/><ellipse cx="74.50" cy="543.60" rx="3.06" ry="3.06" transform="rotate(0 74.50 543.60)" fill="#5a0e10" fill-opacity="0.6375" filter="url(#bl)"/><ellipse cx="74.50" cy="543.60" rx="3.4" ry="3.4" transform="rotate(0 74.50 543.60)" fill="#fff" fill-opacity="0.85" filter="url(#sp2)"/><ellipse cx="260.00" cy="543.60" rx="3.57" ry="3.57" transform="rotate(0 260.00 543.60)" fill="#8a1518" fill-opacity="0.85" filter="url(#bl)"/><ellipse cx="85.70" cy="544.20" rx="2.7" ry="2.25" transform="rotate(0 85.70 544.20)" fill="#5a0e10" fill-opacity="0.30000000000000004" filter="url(#bl)"/><ellipse cx="85.70" cy="544.20" rx="3.0" ry="2.5" transform="rotate(0 85.70 544.20)" fill="#fff" fill-opacity="0.4" filter="url(#sp2)"/><ellipse cx="271.20" cy="544.20" rx="3.1500000000000004" ry="2.625" transform="rotate(0 271.20 544.20)" fill="#8a1518" fill-opacity="0.4" filter="url(#bl)"/><ellipse cx="137.50" cy="489.90" rx="2.5" ry="3.1" transform="rotate(-20 137.50 489.90)" fill="#1f4acb" fill-opacity="1" filter="url(#bl2)"/><ellipse cx="229.90" cy="489.90" rx="2.5" ry="3.1" transform="rotate(-20 229.90 489.90)" fill="#1f4acb" fill-opacity="1" filter="url(#bl2)"/><ellipse cx="169.30" cy="496.10" rx="2.1" ry="2.7" transform="rotate(-20 169.30 496.10)" fill="#1f4acb" fill-opacity="1" filter="url(#bl2)"/><ellipse cx="261.70" cy="496.10" rx="2.1" ry="2.7" transform="rotate(-20 261.70 496.10)" fill="#1f4acb" fill-opacity="1" filter="url(#bl2)"/><ellipse cx="178.40" cy="506.50" rx="2.7" ry="2.4" transform="rotate(0 178.40 506.50)" fill="#1f4acb" fill-opacity="1" filter="url(#bl2)"/><ellipse cx="270.80" cy="506.50" rx="2.7" ry="2.4" transform="rotate(0 270.80 506.50)" fill="#1f4acb" fill-opacity="1" filter="url(#bl2)"/><ellipse cx="173.40" cy="522.60" rx="2.7" ry="1.7" transform="rotate(0 173.40 522.60)" fill="#1f4acb" fill-opacity="1" filter="url(#bl2)"/><ellipse cx="265.80" cy="522.60" rx="2.7" ry="1.7" transform="rotate(0 265.80 522.60)" fill="#1f4acb" fill-opacity="1" filter="url(#bl2)"/><ellipse cx="191.50" cy="530.30" rx="2.6" ry="2.4" transform="rotate(0 191.50 530.30)" fill="#1f4acb" fill-opacity="1" filter="url(#bl2)"/><ellipse cx="283.90" cy="530.30" rx="2.6" ry="2.4" transform="rotate(0 283.90 530.30)" fill="#1f4acb" fill-opacity="1" filter="url(#bl2)"/><ellipse cx="166.50" cy="543.50" rx="2.3" ry="2.6" transform="rotate(0 166.50 543.50)" fill="#1f4acb" fill-opacity="1" filter="url(#bl2)"/><ellipse cx="258.90" cy="543.50" rx="2.3" ry="2.6" transform="rotate(0 258.90 543.50)" fill="#1f4acb" fill-opacity="1" filter="url(#bl2)"/><ellipse cx="178.40" cy="544.10" rx="3.5" ry="2.5" transform="rotate(0 178.40 544.10)" fill="#2a3f88" fill-opacity="0.9" filter="url(#bl2)"/><ellipse cx="270.80" cy="544.10" rx="3.5" ry="2.5" transform="rotate(0 270.80 544.10)" fill="#2a3f88" fill-opacity="0.9" filter="url(#bl2)"/><rect x="288.8" y="554" width="13.3" height="1.4" fill="#a8a8a8"/><ellipse cx="67.40" cy="613.00" rx="5.5" ry="17" transform="rotate(-33 67.40 613.00)" fill="#3a080a" fill-opacity="0.8" filter="url(#bl3)"/><ellipse cx="64.50" cy="607.00" rx="4.8" ry="10" transform="rotate(-33 64.50 607.00)" fill="#fff" fill-opacity="1" filter="url(#sp)"/><ellipse cx="69.50" cy="618.00" rx="4.5" ry="12" transform="rotate(-33 69.50 618.00)" fill="#fff" fill-opacity="1" filter="url(#sp)"/><ellipse cx="160.10" cy="611.40" rx="5.4" ry="7.0" transform="rotate(-12 160.10 611.40)" fill="#224bc8" fill-opacity="1" filter="url(#bl2)"/><ellipse cx="254.50" cy="614.50" rx="6.2" ry="14.5" transform="rotate(-33 254.50 614.50)" fill="#3a080a" fill-opacity="0.6" filter="url(#bl3)"/><ellipse cx="256.00" cy="617.00" rx="5.2" ry="12" transform="rotate(-33 256.00 617.00)" fill="#fff" fill-opacity="1" filter="url(#sp)"/><ellipse cx="249.00" cy="604.00" rx="4" ry="5" transform="rotate(-33 249.00 604.00)" fill="#fff" fill-opacity="1" filter="url(#sp)"/><ellipse cx="251.70" cy="610.00" rx="5.5" ry="7.2" transform="rotate(-12 251.70 610.00)" fill="#2650cc" fill-opacity="1" filter="url(#bl2)"/><text x="334.5" y="423.45" font-size="17.4" font-weight="bold" fill="#000" text-anchor="start" >e</text><rect x="350.9" y="470.2" width="328.7" height="16.8" fill="#b5dbe0"/><rect x="350.9" y="489.1" width="328.7" height="18.8" fill="#e3f0f1"/><rect x="350.9" y="507.9" width="328.7" height="20.6" fill="#f0f7f8"/><rect x="447.3" y="470.2" width="1" height="58.3" fill="#fff"/><rect x="538" y="470.2" width="1" height="58.3" fill="#fff"/><text x="399" y="483.2" font-size="11" font-weight="bold" fill="#1a1a1a" text-anchor="middle" >ID</text><text x="492.9" y="483.2" font-size="11" font-weight="bold" fill="#1a1a1a" text-anchor="middle" >Label</text><text x="609.4" y="483.2" font-size="11" font-weight="bold" fill="#1a1a1a" text-anchor="middle" >Coding probability</text><text x="399" y="501.7" font-size="11.3" font-weight="normal" fill="#1a1a1a" text-anchor="middle" >lnc5745</text><text x="493.3" y="501.7" font-size="11.3" font-weight="normal" fill="#1a1a1a" text-anchor="middle" >noncoding</text><text x="609.2" y="501.7" font-size="11.3" font-weight="normal" fill="#1a1a1a" text-anchor="middle" >0.0220516</text><text x="399" y="521.5" font-size="11.3" font-weight="normal" fill="#1a1a1a" text-anchor="middle" >HOTAIR</text><text x="493.3" y="521.5" font-size="11.3" font-weight="normal" fill="#1a1a1a" text-anchor="middle" >noncoding</text><text x="609.1" y="521.5" font-size="11.3" font-weight="normal" fill="#1a1a1a" text-anchor="middle" >0.184882</text>
</svg>
</body></html>
